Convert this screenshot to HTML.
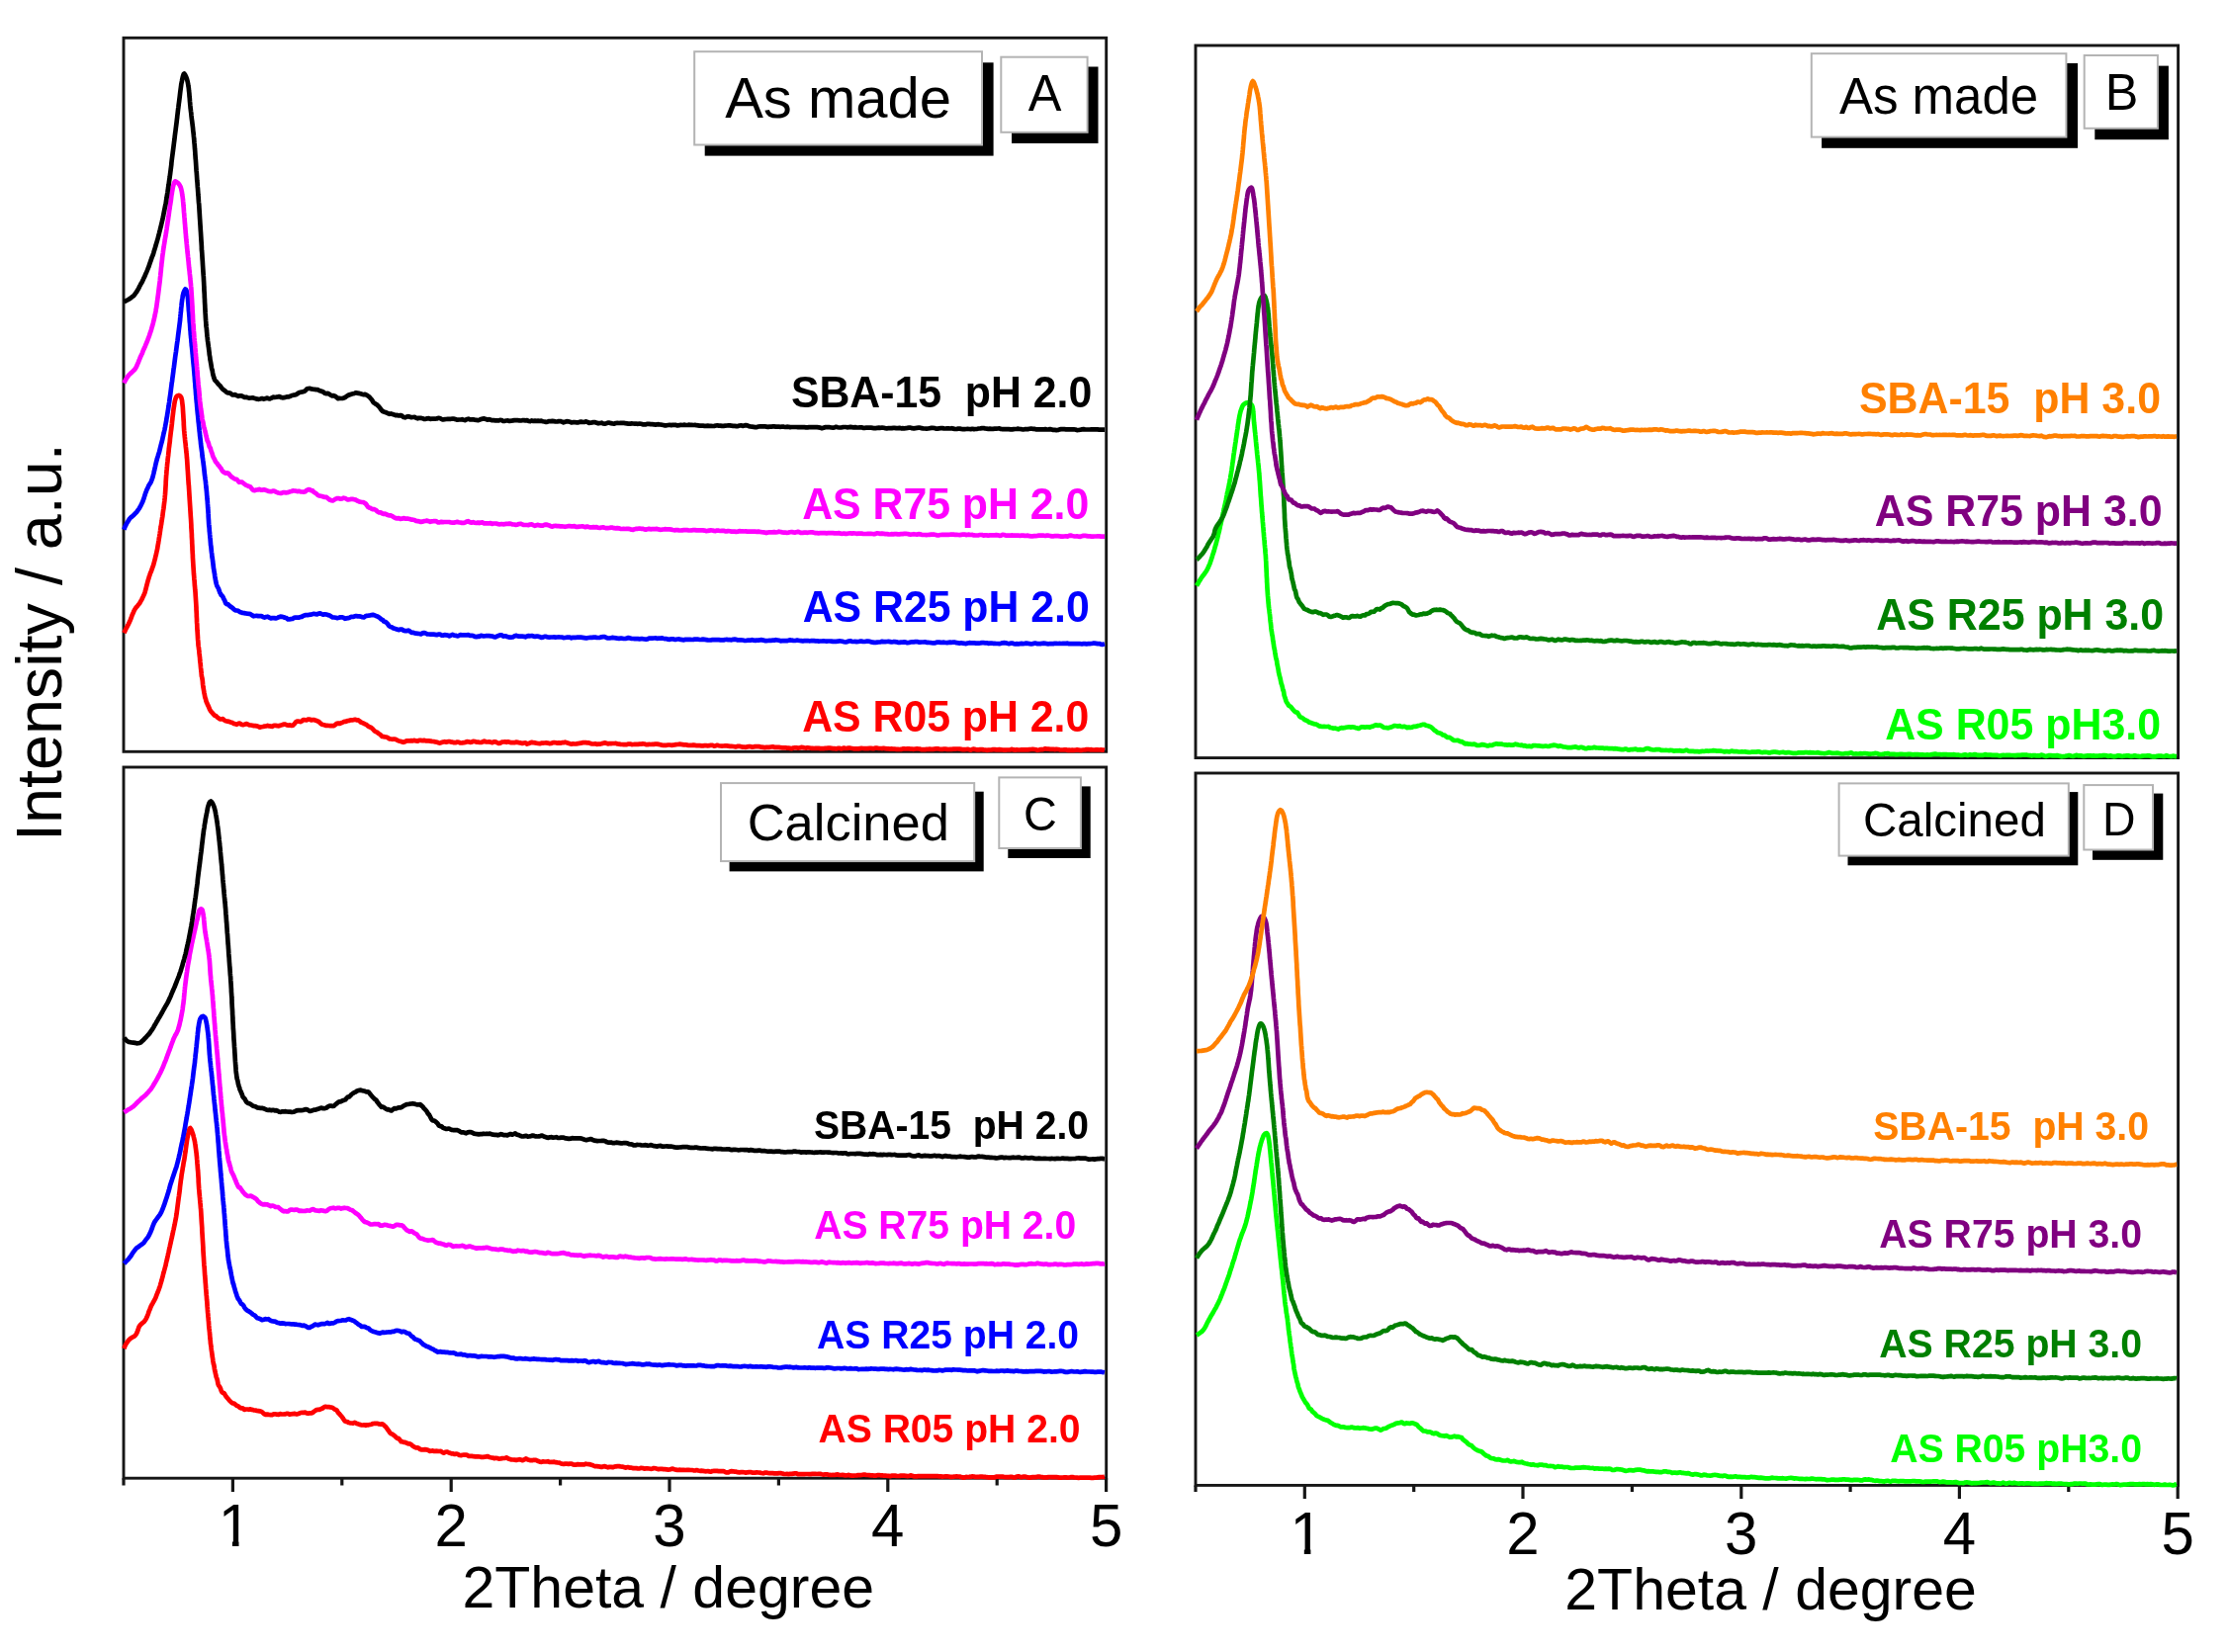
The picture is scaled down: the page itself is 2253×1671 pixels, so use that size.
<!DOCTYPE html>
<html lang="en"><head><meta charset="utf-8"><title>XRD patterns</title>
<style>html,body{margin:0;padding:0;background:#fff}body{width:2253px;height:1671px;overflow:hidden}svg{display:block}text{font-family:'Liberation Sans', Arial, Helvetica, sans-serif;}</style></head><body>
<svg width="2253" height="1671" viewBox="0 0 2253 1671">
<defs><filter id="soft" x="0" y="0" width="100%" height="100%" filterUnits="userSpaceOnUse" color-interpolation-filters="sRGB"><feGaussianBlur stdDeviation="0.55"/></filter></defs>
<rect x="0" y="0" width="2253" height="1671" fill="#ffffff"/>
<g filter="url(#soft)">
<rect x="125.0" y="38.3" width="993.7" height="722.0" fill="none" stroke="#161616" stroke-width="2.9"/>
<rect x="1209.0" y="46.0" width="993.6" height="720.6" fill="none" stroke="#161616" stroke-width="2.9"/>
<rect x="125.0" y="776.0" width="993.7" height="719.2" fill="none" stroke="#161616" stroke-width="2.9"/>
<rect x="1209.0" y="782.0" width="993.6" height="720.4" fill="none" stroke="#161616" stroke-width="2.9"/>
<path d="M125.0,1495.2 V1502.6 M235.4,1495.2 V1509.0 M345.8,1495.2 V1502.6 M456.2,1495.2 V1509.0 M566.6,1495.2 V1502.6 M677.0,1495.2 V1509.0 M787.4,1495.2 V1502.6 M897.8,1495.2 V1509.0 M1008.2,1495.2 V1502.6 M1118.6,1495.2 V1509.0" stroke="#161616" stroke-width="3.2" fill="none"/>
<path d="M1209.0,1502.4 V1509.0 M1319.3,1502.4 V1515.9 M1429.7,1502.4 V1509.0 M1540.0,1502.4 V1515.9 M1650.4,1502.4 V1509.0 M1760.8,1502.4 V1515.9 M1871.1,1502.4 V1509.0 M1981.4,1502.4 V1515.9 M2091.8,1502.4 V1509.0 M2202.2,1502.4 V1515.9" stroke="#161616" stroke-width="3.2" fill="none"/>
<g fill="none" stroke-width="4.7" stroke-linejoin="round" stroke-linecap="butt">
<path d="M125.4,640.2 L126.2,638.6 L126.9,637.0 L127.6,635.6 L128.4,634.3 L129.1,632.8 L129.8,631.6 L130.5,630.1 L131.1,628.6 L131.8,627.2 L132.4,625.7 L133.0,624.0 L133.5,622.5 L134.1,621.1 L134.8,619.7 L135.4,618.1 L136.2,616.7 L137.0,615.3 L138.0,614.1 L139.0,612.9 L140.0,611.6 L141.0,610.5 L141.8,609.1 L142.6,607.7 L143.4,606.3 L144.1,604.7 L144.8,603.3 L145.5,601.8 L146.1,600.4 L146.6,598.9 L147.1,597.2 L147.5,595.6 L147.9,594.0 L148.3,592.4 L148.7,590.9 L149.1,589.4 L149.5,587.8 L149.9,586.4 L150.4,585.0 L150.8,583.4 L151.4,581.7 L151.9,580.1 L152.5,578.7 L153.1,577.4 L153.6,575.8 L154.2,574.2 L154.7,572.8 L155.2,571.4 L155.6,569.8 L156.0,568.3 L156.4,566.7 L156.9,565.0 L157.2,563.4 L157.6,561.9 L158.0,560.4 L158.3,558.9 L158.6,557.4 L159.0,555.9 L159.3,554.2 L159.5,552.7 L159.8,551.0 L160.1,549.6 L160.3,548.0 L160.6,546.3 L160.8,544.7 L161.1,543.1 L161.3,541.6 L161.6,540.1 L161.8,538.5 L162.1,536.5 L162.3,534.8 L162.6,533.3 L162.8,531.9 L163.1,530.4 L163.3,528.7 L163.6,527.0 L163.8,525.6 L164.0,524.2 L164.3,522.6 L164.5,521.0 L164.7,519.3 L164.9,517.7 L165.1,516.2 L165.4,514.6 L165.6,513.0 L165.8,511.3 L166.0,509.6 L166.2,508.0 L166.4,506.5 L166.5,505.0 L166.7,503.5 L166.8,501.8 L167.0,500.2 L167.1,498.6 L167.2,497.1 L167.3,495.5 L167.4,493.9 L167.5,492.2 L167.6,490.6 L167.7,489.1 L167.7,487.5 L167.8,486.0 L167.9,484.4 L168.0,482.8 L168.1,481.1 L168.3,479.5 L168.4,477.9 L168.5,476.1 L168.7,474.5 L168.8,472.9 L169.0,471.2 L169.1,469.8 L169.3,468.2 L169.5,466.5 L169.6,464.9 L169.8,463.3 L170.0,461.8 L170.2,460.2 L170.3,458.7 L170.5,457.1 L170.7,455.3 L170.8,453.7 L171.0,452.4 L171.2,450.9 L171.4,449.1 L171.6,447.8 L171.8,446.3 L171.9,444.5 L172.1,442.7 L172.3,441.2 L172.5,439.5 L172.7,437.8 L172.9,436.2 L173.1,434.8 L173.3,433.2 L173.5,431.5 L173.7,429.9 L173.9,428.2 L174.0,426.7 L174.2,425.2 L174.4,423.6 L174.5,422.2 L174.7,420.7 L174.9,419.1 L175.1,417.5 L175.3,415.8 L175.5,414.1 L175.7,412.6 L176.0,411.0 L176.2,409.4 L176.5,407.7 L176.8,405.8 L177.2,404.4 L177.6,403.0 L178.2,401.5 L179.2,400.4 L180.8,399.9 L182.3,400.6 L183.2,401.8 L183.6,403.2 L184.0,404.8 L184.2,406.5 L184.4,408.3 L184.6,409.9 L184.8,411.5 L184.9,413.1 L185.0,414.8 L185.1,416.5 L185.2,418.1 L185.3,419.4 L185.4,421.0 L185.5,422.8 L185.6,424.5 L185.7,425.8 L185.8,427.3 L185.8,429.0 L185.9,430.7 L186.0,432.3 L186.1,433.9 L186.2,435.5 L186.4,437.0 L186.5,438.7 L186.7,440.4 L186.8,442.0 L187.0,443.4 L187.1,444.9 L187.3,446.7 L187.5,448.3 L187.7,449.9 L187.8,451.5 L188.0,453.1 L188.2,454.7 L188.3,456.4 L188.5,458.0 L188.7,459.4 L188.8,460.9 L188.9,462.6 L189.1,464.2 L189.2,465.9 L189.3,467.5 L189.4,469.0 L189.5,470.7 L189.6,472.3 L189.7,474.0 L189.8,475.3 L189.9,476.7 L190.0,478.3 L190.1,480.0 L190.2,481.7 L190.3,483.5 L190.4,484.9 L190.5,486.4 L190.6,488.2 L190.7,489.6 L190.9,491.2 L191.0,493.0 L191.1,494.6 L191.2,496.1 L191.3,497.8 L191.4,499.5 L191.5,501.2 L191.6,502.8 L191.7,504.4 L191.8,505.9 L191.9,507.4 L192.0,509.2 L192.1,510.6 L192.2,512.1 L192.3,513.7 L192.4,515.3 L192.5,516.9 L192.6,518.5 L192.7,520.2 L192.8,521.9 L192.9,523.3 L193.0,524.7 L193.1,526.2 L193.2,527.9 L193.3,529.6 L193.4,531.4 L193.4,533.0 L193.5,534.6 L193.6,536.1 L193.7,537.5 L193.8,539.2 L193.9,540.9 L193.9,542.5 L194.0,544.1 L194.1,545.8 L194.2,547.2 L194.2,548.8 L194.3,550.4 L194.4,552.0 L194.5,554.0 L194.5,555.5 L194.6,557.0 L194.7,558.8 L194.8,560.3 L194.9,561.8 L194.9,563.4 L195.0,565.0 L195.1,566.5 L195.2,568.2 L195.3,569.8 L195.4,571.4 L195.5,573.1 L195.6,574.6 L195.7,576.2 L195.8,577.7 L195.9,579.3 L196.0,581.1 L196.2,582.8 L196.3,584.4 L196.4,586.0 L196.6,587.4 L196.7,589.0 L196.8,590.6 L196.9,592.4 L197.1,594.0 L197.2,595.6 L197.3,596.9 L197.5,598.4 L197.6,600.1 L197.7,601.8 L197.8,603.3 L197.9,604.9 L198.0,606.6 L198.1,608.2 L198.2,609.6 L198.3,611.4 L198.4,613.0 L198.5,614.7 L198.5,616.4 L198.6,617.9 L198.7,619.5 L198.8,621.2 L198.8,623.0 L198.9,624.7 L199.0,626.2 L199.0,628.1 L199.1,629.9 L199.2,630.8 L199.3,632.1 L199.3,633.7 L199.4,635.4 L199.5,637.3 L199.6,638.5 L199.7,639.9 L199.8,641.6 L199.9,643.2 L200.0,645.2 L200.1,646.9 L200.3,648.7 L200.4,650.2 L200.5,652.5 L200.7,653.8 L200.9,654.9 L201.0,656.1 L201.2,657.3 L201.4,658.9 L201.5,660.7 L201.7,662.3 L201.9,664.0 L202.1,665.5 L202.2,667.6 L202.4,669.5 L202.6,670.8 L202.8,672.8 L202.9,674.2 L203.1,676.1 L203.3,677.6 L203.4,679.2 L203.6,680.1 L203.7,681.9 L203.9,684.0 L204.1,684.6 L204.3,685.3 L204.5,686.5 L204.7,687.8 L204.9,689.6 L205.1,692.2 L205.4,694.5 L205.6,695.7 L205.9,697.4 L206.2,699.2 L206.5,701.0 L206.9,702.8 L207.2,704.6 L207.6,706.1 L208.0,707.1 L208.4,709.0 L208.9,710.4 L209.4,711.4 L210.0,712.9 L210.6,714.0 L211.3,715.6 L212.0,717.4 L212.8,718.8 L213.7,720.0 L214.7,721.1 L215.8,722.4 L217.0,723.7 L218.3,724.0 L219.6,725.4 L221.0,726.4 L222.4,727.4 L223.9,727.5 L225.4,727.1 L226.9,728.5 L228.5,729.3 L230.0,729.6 L231.6,729.9 L233.1,730.5 L234.7,730.9 L236.2,731.9 L237.8,732.3 L239.4,732.8 L240.9,731.9 L242.5,731.6 L244.1,732.7 L245.7,733.1 L247.3,732.7 L248.9,732.1 L250.5,732.6 L252.1,733.3 L253.6,733.5 L255.1,733.8 L256.6,734.1 L258.1,734.2 L259.6,734.4 L261.1,734.7 L262.7,735.7 L264.3,735.3 L265.9,735.0 L267.5,734.6 L269.1,734.5 L270.7,733.9 L272.3,734.4 L273.9,734.6 L275.5,734.8 L277.1,733.8 L278.7,733.8 L280.3,734.2 L281.9,734.3 L283.5,733.7 L285.2,733.3 L286.8,732.5 L288.4,732.7 L290.0,733.4 L291.6,733.6 L293.2,733.4 L294.8,734.0 L296.3,733.7 L297.9,732.0 L299.3,730.1 L300.8,729.5 L302.2,729.7 L303.7,730.1 L305.2,729.4 L306.7,728.1 L308.3,728.2 L309.9,728.5 L311.5,727.6 L313.1,727.5 L314.7,728.4 L316.3,728.1 L317.9,728.1 L319.4,728.8 L320.9,729.3 L322.4,730.0 L323.8,731.4 L325.1,732.5 L326.5,733.0 L327.9,733.3 L329.4,733.9 L330.9,733.8 L332.5,734.0 L334.1,734.2 L335.7,734.2 L337.3,734.2 L338.9,733.2 L340.5,731.8 L342.1,731.6 L343.6,732.0 L345.1,731.2 L346.6,730.6 L348.2,729.9 L349.7,729.8 L351.2,729.2 L352.8,729.0 L354.4,728.3 L356.0,728.3 L357.6,728.1 L359.1,727.8 L360.6,728.4 L362.1,728.4 L363.5,729.2 L364.8,730.5 L366.2,731.0 L367.6,731.7 L369.0,732.4 L370.5,733.0 L372.0,734.4 L373.5,735.2 L374.9,735.7 L376.2,736.6 L377.5,738.0 L378.8,739.5 L380.0,740.1 L381.2,740.6 L382.5,741.8 L383.8,742.5 L385.1,743.6 L386.5,745.0 L387.9,745.2 L389.3,745.4 L390.8,745.5 L392.2,746.3 L393.7,747.3 L395.2,747.5 L396.8,747.8 L398.4,747.5 L400.0,747.8 L401.6,748.7 L403.2,749.5 L404.8,749.8 L406.4,750.4 L408.0,750.8 L409.6,750.3 L411.2,749.3 L412.8,749.3 L414.4,749.4 L416.0,749.2 L417.6,749.3 L419.2,748.9 L420.8,749.4 L422.4,749.7 L424.0,748.8 L425.6,748.9 L427.2,749.2 L428.8,748.9 L430.4,749.3 L432.0,749.3 L433.6,749.4 L435.2,749.6 L436.8,749.9 L438.4,750.0 L440.1,750.4 L441.7,750.6 L443.3,751.2 L444.9,751.6 L446.5,751.0 L448.1,750.5 L449.7,750.2 L451.3,750.6 L452.9,750.2 L454.5,750.1 L456.1,750.6 L457.7,750.7 L459.3,751.2 L460.9,751.2 L462.5,750.5 L464.1,750.8 L465.7,751.5 L467.3,751.4 L468.9,751.2 L470.5,750.9 L472.1,750.1 L473.7,750.3 L475.3,750.8 L476.9,750.6 L478.5,749.8 L480.1,750.0 L481.7,750.6 L483.3,750.7 L484.9,750.9 L486.5,751.0 L488.1,750.3 L489.7,749.7 L491.3,750.3 L492.9,750.5 L494.5,750.4 L496.1,750.6 L497.8,751.2 L499.4,750.4 L501.0,750.4 L502.6,751.2 L504.2,751.9 L505.8,751.6 L507.4,750.7 L509.0,750.5 L510.6,750.4 L512.2,750.8 L513.8,750.3 L515.4,750.7 L517.0,751.2 L518.6,751.1 L520.2,751.2 L521.8,750.6 L523.4,750.9 L525.0,751.3 L526.6,751.4 L528.2,751.9 L529.8,751.5 L531.4,751.3 L533.0,752.6 L534.6,752.1 L536.2,751.3 L537.8,750.9 L539.4,751.2 L541.0,751.4 L542.6,751.7 L544.2,752.0 L545.8,752.2 L547.4,751.7 L549.0,751.6 L550.6,751.5 L552.2,751.4 L553.8,751.6 L555.5,752.1 L557.1,752.0 L558.7,751.3 L560.3,751.0 L561.9,751.3 L563.5,751.6 L565.1,751.4 L566.7,751.6 L568.3,751.2 L569.9,751.1 L571.5,750.7 L573.1,751.2 L574.7,751.7 L576.3,752.2 L577.9,752.6 L579.5,752.3 L581.1,752.5 L582.7,752.4 L584.3,752.2 L585.9,751.8 L587.5,751.7 L589.1,751.2 L590.7,751.2 L592.3,751.1 L593.9,751.3 L595.5,751.4 L597.1,752.0 L598.7,752.5 L600.3,752.5 L601.9,752.3 L603.5,752.8 L605.1,752.7 L606.7,752.6 L608.3,752.3 L609.9,751.7 L611.5,751.4 L613.1,751.8 L614.7,752.4 L616.4,752.0 L618.0,752.1 L619.6,752.0 L621.2,752.0 L622.8,751.9 L624.4,752.5 L626.0,752.7 L627.6,752.9 L629.2,753.0 L630.8,753.2 L632.4,753.1 L634.0,753.1 L635.6,752.6 L637.2,752.6 L638.8,753.1 L640.4,753.0 L642.0,752.8 L643.6,752.8 L645.2,752.9 L646.8,752.7 L648.4,752.6 L650.0,752.4 L651.6,752.5 L653.2,753.1 L654.8,753.2 L656.4,752.9 L658.0,753.0 L659.6,752.9 L661.2,752.9 L662.8,752.5 L664.4,752.6 L666.0,752.9 L667.6,753.2 L669.2,753.6 L670.8,753.8 L672.4,753.9 L674.0,753.8 L675.6,753.5 L677.3,753.5 L678.9,753.8 L680.5,753.6 L682.1,753.4 L683.7,753.1 L685.3,753.0 L686.9,752.7 L688.5,752.9 L690.1,753.1 L691.7,753.4 L693.3,753.3 L694.9,753.6 L696.5,754.0 L698.1,753.8 L699.7,753.9 L701.3,753.6 L702.9,753.9 L704.5,754.2 L706.1,754.2 L707.7,754.1 L709.3,754.3 L710.9,754.4 L712.5,754.2 L714.1,754.2 L715.7,754.3 L717.3,754.2 L718.9,753.8 L720.5,753.9 L722.1,754.6 L723.7,754.4 L725.3,753.8 L726.9,754.2 L728.5,754.5 L730.1,754.6 L731.7,754.5 L733.3,754.3 L734.9,754.4 L736.5,754.6 L738.1,754.8 L739.7,754.9 L741.4,755.0 L743.0,755.3 L744.6,755.3 L746.2,754.9 L747.8,754.9 L749.4,755.2 L751.0,755.6 L752.6,755.7 L754.2,755.8 L755.8,755.4 L757.4,755.2 L759.0,755.2 L760.6,755.6 L762.2,755.4 L763.8,755.1 L765.4,755.1 L767.0,755.0 L768.6,755.4 L770.2,755.7 L771.8,755.9 L773.4,756.1 L775.0,755.9 L776.6,755.9 L778.2,755.8 L779.8,755.5 L781.4,755.3 L783.0,755.8 L784.6,755.9 L786.2,755.9 L787.8,755.9 L789.4,756.2 L791.0,756.3 L792.6,756.3 L794.2,756.3 L795.8,756.6 L797.4,756.7 L799.0,756.9 L800.6,757.2 L802.2,756.5 L803.8,756.3 L805.5,756.4 L807.1,756.7 L808.7,756.5 L810.3,755.9 L811.9,756.1 L813.5,756.5 L815.1,756.6 L816.7,756.3 L818.3,756.5 L819.9,756.8 L821.5,756.8 L823.1,757.0 L824.7,756.9 L826.3,756.8 L827.9,756.8 L829.5,757.2 L831.1,757.2 L832.7,757.2 L834.3,756.9 L835.9,756.9 L837.5,756.7 L839.1,756.7 L840.7,756.9 L842.3,757.1 L843.9,757.2 L845.5,757.4 L847.1,756.9 L848.7,756.8 L850.3,757.3 L851.9,757.1 L853.5,756.6 L855.1,757.0 L856.7,756.9 L858.3,756.5 L859.9,756.7 L861.5,757.0 L863.1,757.3 L864.7,757.4 L866.4,757.3 L868.0,757.4 L869.6,757.1 L871.2,756.9 L872.8,757.0 L874.4,757.2 L876.0,757.0 L877.6,757.2 L879.2,756.9 L880.8,756.9 L882.4,757.1 L884.0,757.1 L885.6,756.6 L887.2,756.7 L888.8,757.0 L890.4,757.0 L892.0,757.1 L893.6,756.8 L895.2,757.2 L896.8,757.4 L898.4,757.4 L900.0,757.6 L901.6,757.4 L903.2,757.7 L904.8,757.7 L906.4,757.8 L908.0,757.8 L909.6,758.0 L911.2,757.9 L912.8,757.4 L914.4,757.4 L916.0,757.5 L917.6,757.3 L919.2,757.3 L920.8,757.7 L922.4,757.7 L924.0,757.8 L925.7,757.5 L927.3,757.3 L928.9,757.5 L930.5,757.7 L932.1,758.2 L933.7,758.1 L935.3,758.2 L936.9,757.9 L938.5,757.8 L940.1,757.7 L941.7,757.8 L943.3,757.9 L944.9,757.6 L946.5,757.4 L948.1,757.3 L949.7,757.6 L951.3,757.8 L952.9,757.9 L954.5,757.7 L956.1,757.6 L957.7,757.8 L959.3,758.0 L960.9,757.8 L962.5,757.8 L964.1,757.7 L965.7,757.7 L967.3,757.5 L968.9,757.5 L970.5,757.7 L972.1,757.9 L973.7,758.2 L975.3,758.2 L976.9,758.0 L978.5,757.8 L980.1,758.3 L981.7,758.6 L983.4,757.9 L985.0,757.7 L986.6,758.1 L988.2,758.4 L989.8,758.4 L991.4,758.1 L993.0,758.1 L994.6,758.4 L996.2,758.5 L997.8,758.8 L999.4,758.6 L1001.0,758.5 L1002.6,758.4 L1004.2,758.2 L1005.8,758.1 L1007.4,758.4 L1009.0,758.4 L1010.6,758.1 L1012.2,758.3 L1013.8,758.5 L1015.4,758.7 L1017.0,758.6 L1018.6,758.5 L1020.2,758.5 L1021.8,758.3 L1023.4,757.9 L1025.0,758.4 L1026.6,758.6 L1028.2,758.4 L1029.8,758.5 L1031.4,758.5 L1033.0,758.3 L1034.6,758.4 L1036.2,758.4 L1037.9,758.4 L1039.5,758.3 L1041.1,758.1 L1042.7,758.0 L1044.3,757.8 L1045.9,758.0 L1047.5,758.3 L1049.1,758.8 L1050.7,758.5 L1052.3,758.1 L1053.9,758.2 L1055.5,757.8 L1057.1,757.3 L1058.7,757.7 L1060.3,757.7 L1061.9,757.9 L1063.5,757.8 L1065.1,757.8 L1066.7,758.1 L1068.3,757.8 L1069.9,758.0 L1071.5,758.3 L1073.1,758.5 L1074.7,758.5 L1076.3,758.4 L1077.9,758.4 L1079.5,758.8 L1081.1,758.6 L1082.7,758.8 L1084.3,758.6 L1085.9,758.8 L1087.5,758.7 L1089.1,758.4 L1090.7,758.6 L1092.4,758.8 L1094.0,758.8 L1095.6,758.5 L1097.2,758.4 L1098.8,758.1 L1100.4,758.0 L1102.0,758.3 L1103.6,758.2 L1105.2,758.5 L1106.8,758.5 L1108.4,758.3 L1110.0,758.4 L1111.6,758.5 L1113.2,758.4 L1114.7,758.6 L1116.0,758.5 L1117.0,758.7" stroke="#ff0000"/>
<path d="M125.4,535.8 L125.9,534.2 L126.5,532.7 L127.2,531.4 L127.9,529.8 L128.7,528.4 L129.5,527.2 L130.4,525.7 L131.3,524.5 L132.3,523.4 L133.5,522.5 L134.7,521.5 L136.0,520.2 L137.1,518.9 L138.2,517.9 L139.1,516.6 L140.0,515.3 L140.9,514.1 L141.7,512.6 L142.5,511.1 L143.2,509.7 L143.9,508.3 L144.5,506.8 L145.1,505.2 L145.6,503.7 L146.1,502.1 L146.6,500.5 L147.1,498.9 L147.7,497.4 L148.2,496.0 L148.8,494.6 L149.5,493.3 L150.2,491.6 L151.0,490.3 L151.8,489.0 L152.6,487.7 L153.2,486.2 L153.8,484.5 L154.3,483.1 L154.7,481.6 L155.1,480.0 L155.5,478.5 L155.8,476.8 L156.2,475.5 L156.5,473.9 L156.9,472.2 L157.2,470.7 L157.6,469.0 L158.0,467.4 L158.4,465.9 L158.8,464.5 L159.2,462.9 L159.7,461.4 L160.1,459.9 L160.6,458.4 L161.1,456.9 L161.5,455.2 L161.9,453.6 L162.3,452.0 L162.7,450.3 L163.1,448.9 L163.5,447.4 L163.9,445.9 L164.3,444.3 L164.6,442.6 L165.0,441.1 L165.3,439.5 L165.7,437.9 L166.0,436.5 L166.4,435.0 L166.7,433.3 L167.0,431.9 L167.3,430.2 L167.6,428.6 L167.9,427.0 L168.2,425.5 L168.4,423.7 L168.7,422.2 L169.0,420.7 L169.2,418.9 L169.5,417.5 L169.7,416.0 L170.0,414.5 L170.2,412.9 L170.5,411.2 L170.7,409.5 L170.9,408.2 L171.2,406.6 L171.4,404.8 L171.6,403.3 L171.8,401.8 L172.1,400.2 L172.3,398.6 L172.5,397.0 L172.7,395.3 L172.9,393.9 L173.1,392.3 L173.3,390.7 L173.5,389.1 L173.7,387.3 L174.0,385.9 L174.2,384.3 L174.4,382.6 L174.6,381.1 L174.8,379.6 L175.0,378.2 L175.2,376.6 L175.4,374.8 L175.6,373.0 L175.9,371.4 L176.1,369.8 L176.3,368.2 L176.5,366.5 L176.7,364.9 L176.9,363.4 L177.1,361.8 L177.3,360.3 L177.5,358.9 L177.7,357.5 L178.0,355.6 L178.2,353.9 L178.4,352.5 L178.6,350.9 L178.8,349.3 L179.0,347.9 L179.2,346.3 L179.5,344.6 L179.7,342.8 L179.9,341.2 L180.1,339.4 L180.3,337.9 L180.5,336.4 L180.7,334.8 L180.9,333.3 L181.1,331.7 L181.3,330.2 L181.5,328.5 L181.7,327.1 L181.9,325.5 L182.1,323.9 L182.2,322.1 L182.4,320.5 L182.5,318.8 L182.7,317.3 L182.8,316.1 L183.0,314.5 L183.1,312.8 L183.3,311.0 L183.5,309.5 L183.6,307.9 L183.8,306.3 L184.0,304.7 L184.2,303.0 L184.5,301.4 L184.7,300.0 L185.0,298.6 L185.3,297.0 L185.8,295.4 L186.6,293.7 L187.4,292.4 L188.1,292.9 L188.7,294.6 L189.2,296.4 L189.5,298.1 L189.8,299.7 L189.9,301.3 L190.1,302.8 L190.2,304.6 L190.4,306.5 L190.5,308.0 L190.6,309.5 L190.7,310.8 L190.8,312.6 L190.9,314.2 L191.1,315.7 L191.2,317.2 L191.3,318.9 L191.5,320.5 L191.6,322.1 L191.7,323.9 L191.8,325.6 L192.0,327.0 L192.1,328.5 L192.2,330.1 L192.3,331.8 L192.4,333.4 L192.6,334.8 L192.7,336.5 L192.8,338.2 L193.0,339.9 L193.1,341.5 L193.3,343.0 L193.4,344.4 L193.5,345.9 L193.7,347.6 L193.8,349.4 L194.0,351.0 L194.2,352.6 L194.3,354.2 L194.5,355.6 L194.6,357.1 L194.8,358.7 L194.9,360.4 L195.1,362.2 L195.2,363.8 L195.4,365.2 L195.5,367.0 L195.7,368.6 L195.8,370.0 L196.0,371.6 L196.1,373.0 L196.2,374.7 L196.4,376.3 L196.5,377.8 L196.6,379.4 L196.8,381.1 L196.9,382.8 L197.0,384.5 L197.1,386.1 L197.3,387.6 L197.4,389.3 L197.5,391.1 L197.6,392.5 L197.8,394.0 L197.9,395.5 L198.0,397.1 L198.1,398.9 L198.3,400.5 L198.4,402.2 L198.5,403.7 L198.7,405.3 L198.8,406.8 L199.0,408.3 L199.1,409.8 L199.2,411.4 L199.4,413.0 L199.5,414.6 L199.7,416.4 L199.8,417.8 L200.0,419.4 L200.2,421.0 L200.3,422.5 L200.5,424.3 L200.6,425.9 L200.8,427.5 L201.0,429.1 L201.1,430.6 L201.3,432.3 L201.5,433.9 L201.6,435.4 L201.8,437.1 L202.0,438.8 L202.1,440.4 L202.3,441.9 L202.5,443.3 L202.7,445.1 L202.9,446.7 L203.0,448.3 L203.2,449.9 L203.4,451.5 L203.6,452.9 L203.8,454.4 L204.0,455.8 L204.2,457.3 L204.4,459.0 L204.5,460.6 L204.7,462.2 L205.0,463.8 L205.2,465.4 L205.4,466.7 L205.6,468.2 L205.8,469.9 L206.0,471.4 L206.2,473.1 L206.4,474.8 L206.6,476.7 L206.8,478.8 L207.0,480.7 L207.2,482.0 L207.4,483.3 L207.6,485.0 L207.7,485.7 L207.9,487.0 L208.1,489.3 L208.3,491.1 L208.4,492.7 L208.6,494.1 L208.7,495.1 L208.9,496.9 L209.1,499.4 L209.2,501.1 L209.4,502.4 L209.5,504.6 L209.6,505.5 L209.8,507.2 L209.9,509.2 L210.0,510.4 L210.1,512.0 L210.2,513.8 L210.4,515.5 L210.5,517.7 L210.6,519.2 L210.7,520.1 L210.7,521.7 L210.8,523.6 L210.9,525.1 L211.0,526.5 L211.1,528.5 L211.2,530.2 L211.3,531.4 L211.5,532.9 L211.6,533.6 L211.7,535.0 L211.8,537.3 L212.0,538.7 L212.1,540.2 L212.3,541.9 L212.4,543.4 L212.6,545.1 L212.7,546.3 L212.9,548.7 L213.1,551.6 L213.3,552.1 L213.4,552.8 L213.6,555.2 L213.8,557.3 L214.0,559.1 L214.2,560.1 L214.3,561.4 L214.5,563.5 L214.7,564.6 L214.9,565.4 L215.1,567.6 L215.4,569.5 L215.6,571.6 L215.8,573.1 L216.0,574.9 L216.3,576.3 L216.5,577.8 L216.7,579.1 L217.0,580.5 L217.2,582.3 L217.5,584.1 L217.8,585.8 L218.1,587.6 L218.4,588.9 L218.8,590.6 L219.3,592.4 L219.8,593.3 L220.4,594.4 L221.0,595.4 L221.6,597.2 L222.3,599.3 L223.1,600.7 L223.8,602.1 L224.6,602.6 L225.5,603.8 L226.3,605.8 L227.2,607.4 L228.2,610.1 L229.2,611.1 L230.3,611.1 L231.4,612.1 L232.6,613.1 L233.8,614.1 L235.2,615.0 L236.6,616.4 L238.0,617.4 L239.4,617.5 L240.9,617.8 L242.4,618.9 L243.9,619.4 L245.4,620.0 L246.9,620.1 L248.5,620.5 L250.1,620.7 L251.6,620.8 L253.2,621.1 L254.8,622.2 L256.4,623.3 L258.0,623.0 L259.6,622.8 L261.1,623.2 L262.7,623.2 L264.3,623.1 L265.9,624.0 L267.5,624.6 L269.1,624.0 L270.7,623.7 L272.3,624.6 L273.9,625.4 L275.5,625.1 L277.2,625.1 L278.8,625.4 L280.4,625.0 L282.0,624.2 L283.6,623.6 L285.2,623.8 L286.7,624.2 L288.2,624.8 L289.6,625.1 L291.1,626.3 L292.6,626.3 L294.1,626.1 L295.7,626.0 L297.3,624.9 L298.9,624.6 L300.5,624.6 L302.0,624.7 L303.5,624.1 L305.0,624.0 L306.4,623.0 L307.9,622.5 L309.4,622.0 L311.0,622.2 L312.6,621.8 L314.1,621.7 L315.8,621.2 L317.4,620.8 L319.0,621.2 L320.6,621.4 L322.2,620.6 L323.8,620.4 L325.4,621.1 L326.9,621.7 L328.5,621.3 L330.1,621.5 L331.7,622.1 L333.3,622.5 L334.8,623.4 L336.4,624.4 L338.0,624.5 L339.5,624.8 L341.1,625.1 L342.6,624.8 L344.2,624.4 L345.7,624.3 L347.3,624.7 L348.9,625.8 L350.5,625.4 L352.0,625.2 L353.6,624.7 L355.2,623.9 L356.8,624.0 L358.4,623.5 L360.0,623.0 L361.6,623.4 L363.2,623.4 L364.8,623.6 L366.4,624.2 L368.0,624.5 L369.5,623.3 L371.1,622.8 L372.6,622.7 L374.2,622.5 L375.7,622.1 L377.2,621.9 L378.6,622.2 L380.1,623.0 L381.5,623.4 L382.9,624.2 L384.2,625.1 L385.6,626.5 L386.9,626.9 L388.1,628.5 L389.4,628.9 L390.6,629.6 L391.9,630.9 L393.2,632.9 L394.6,634.0 L396.0,634.3 L397.4,635.2 L398.9,635.8 L400.4,636.2 L402.0,636.8 L403.5,637.2 L405.0,636.5 L406.6,636.7 L408.2,637.8 L409.7,638.2 L411.3,638.2 L412.9,637.7 L414.4,638.4 L416.0,639.8 L417.6,639.8 L419.2,640.4 L420.8,640.7 L422.4,640.8 L424.0,641.0 L425.6,641.4 L427.2,640.4 L428.8,640.1 L430.4,640.5 L432.0,641.3 L433.6,641.5 L435.2,641.6 L436.8,641.6 L438.4,641.6 L440.0,641.9 L441.6,642.2 L443.2,641.7 L444.8,641.5 L446.4,642.6 L448.0,642.6 L449.6,642.2 L451.2,642.4 L452.8,642.6 L454.4,643.4 L456.0,642.6 L457.6,641.9 L459.2,642.6 L460.8,642.8 L462.4,643.4 L464.0,642.9 L465.6,642.2 L467.2,642.4 L468.8,642.4 L470.4,642.4 L472.0,642.3 L473.6,642.1 L475.2,642.8 L476.9,642.8 L478.5,643.1 L480.1,643.9 L481.7,644.2 L483.3,643.7 L484.9,643.8 L486.5,642.9 L488.1,643.3 L489.7,643.3 L491.3,643.2 L492.9,643.0 L494.5,643.1 L496.1,643.3 L497.7,643.5 L499.3,644.1 L500.9,644.5 L502.5,643.6 L504.1,643.0 L505.7,642.3 L507.3,642.4 L508.9,643.6 L510.5,643.3 L512.1,643.6 L513.7,644.3 L515.3,644.7 L516.9,644.6 L518.5,644.5 L520.1,643.5 L521.7,642.8 L523.3,643.4 L524.9,643.7 L526.5,643.5 L528.1,643.6 L529.7,643.8 L531.3,644.3 L532.9,643.6 L534.6,643.1 L536.2,643.3 L537.8,643.0 L539.4,643.6 L541.0,643.8 L542.6,643.6 L544.2,643.7 L545.8,644.1 L547.4,644.9 L549.0,644.6 L550.6,643.9 L552.2,643.9 L553.8,644.5 L555.4,644.7 L557.0,644.5 L558.6,644.5 L560.2,644.4 L561.8,644.6 L563.4,644.5 L565.0,644.4 L566.6,644.5 L568.2,644.5 L569.8,645.1 L571.4,645.0 L573.0,644.7 L574.6,644.6 L576.2,644.7 L577.8,645.4 L579.4,644.8 L581.0,644.8 L582.6,644.8 L584.2,644.5 L585.8,644.6 L587.4,644.7 L589.0,644.9 L590.6,645.1 L592.3,645.3 L593.9,645.3 L595.5,645.0 L597.1,644.9 L598.7,644.8 L600.3,644.6 L601.9,644.5 L603.5,645.0 L605.1,645.0 L606.7,644.8 L608.3,644.4 L609.9,644.2 L611.5,644.2 L613.1,645.0 L614.7,645.5 L616.3,645.5 L617.9,645.2 L619.5,644.9 L621.1,645.2 L622.7,645.4 L624.3,645.7 L625.9,645.8 L627.5,645.6 L629.1,645.7 L630.7,646.0 L632.3,646.0 L633.9,645.6 L635.5,645.1 L637.1,645.5 L638.7,646.0 L640.3,646.0 L641.9,646.2 L643.5,646.0 L645.1,646.1 L646.7,646.3 L648.3,646.2 L650.0,646.2 L651.6,646.5 L653.2,646.6 L654.8,646.4 L656.4,645.6 L658.0,645.6 L659.6,645.7 L661.2,645.5 L662.8,645.4 L664.4,645.8 L666.0,645.7 L667.6,645.7 L669.2,645.4 L670.8,645.8 L672.4,646.1 L674.0,646.1 L675.6,646.7 L677.2,646.9 L678.8,646.3 L680.4,646.3 L682.0,646.9 L683.6,646.8 L685.2,646.5 L686.8,646.4 L688.4,646.9 L690.0,647.1 L691.6,647.3 L693.2,646.9 L694.8,646.9 L696.4,646.8 L698.0,646.9 L699.6,647.0 L701.2,646.9 L702.8,646.5 L704.4,646.6 L706.1,646.7 L707.7,647.0 L709.3,646.9 L710.9,646.7 L712.5,646.9 L714.1,647.1 L715.7,647.4 L717.3,647.5 L718.9,647.4 L720.5,647.2 L722.1,647.0 L723.7,647.2 L725.3,647.2 L726.9,647.1 L728.5,647.3 L730.1,647.4 L731.7,647.4 L733.3,647.0 L734.9,646.9 L736.5,647.2 L738.1,647.2 L739.7,647.3 L741.3,646.9 L742.9,646.7 L744.5,646.8 L746.1,647.5 L747.7,647.3 L749.3,647.4 L750.9,647.5 L752.5,647.8 L754.1,648.0 L755.7,647.7 L757.3,647.6 L758.9,647.6 L760.5,647.2 L762.2,647.7 L763.8,647.9 L765.4,647.5 L767.0,647.6 L768.6,647.4 L770.2,647.2 L771.8,647.6 L773.4,648.1 L775.0,648.2 L776.6,648.0 L778.2,647.8 L779.8,647.8 L781.4,647.7 L783.0,647.6 L784.6,647.2 L786.2,647.5 L787.8,647.8 L789.4,648.3 L791.0,648.2 L792.6,648.1 L794.2,648.2 L795.8,648.2 L797.4,647.8 L799.0,647.4 L800.6,647.7 L802.2,647.9 L803.8,648.0 L805.4,647.7 L807.0,647.7 L808.6,648.0 L810.2,648.2 L811.8,648.4 L813.4,648.2 L815.0,648.2 L816.7,648.0 L818.3,648.3 L819.9,648.2 L821.5,648.0 L823.1,648.2 L824.7,648.4 L826.3,648.3 L827.9,648.6 L829.5,648.5 L831.1,648.5 L832.7,648.3 L834.3,648.5 L835.9,648.7 L837.5,648.5 L839.1,648.5 L840.7,648.6 L842.3,648.9 L843.9,648.9 L845.5,648.9 L847.1,648.7 L848.7,648.4 L850.3,648.5 L851.9,648.8 L853.5,649.2 L855.1,649.5 L856.7,649.1 L858.3,648.5 L859.9,648.3 L861.5,648.9 L863.1,649.0 L864.7,648.9 L866.3,649.2 L867.9,649.0 L869.5,648.7 L871.1,648.6 L872.8,649.0 L874.4,649.0 L876.0,648.7 L877.6,648.5 L879.2,648.8 L880.8,649.4 L882.4,649.6 L884.0,649.9 L885.6,649.8 L887.2,649.6 L888.8,649.5 L890.4,649.3 L892.0,648.9 L893.6,649.1 L895.2,649.2 L896.8,649.0 L898.4,648.9 L900.0,649.1 L901.6,649.5 L903.2,649.2 L904.8,649.1 L906.4,649.3 L908.0,649.8 L909.6,649.9 L911.2,649.6 L912.8,649.6 L914.4,649.4 L916.0,649.6 L917.6,650.2 L919.2,650.0 L920.8,649.5 L922.4,649.3 L924.0,649.4 L925.6,649.2 L927.3,649.1 L928.9,649.6 L930.5,649.6 L932.1,649.5 L933.7,649.5 L935.3,649.3 L936.9,649.8 L938.5,649.8 L940.1,650.0 L941.7,650.2 L943.3,650.3 L944.9,650.4 L946.5,649.9 L948.1,649.6 L949.7,649.6 L951.3,649.9 L952.9,649.8 L954.5,649.7 L956.1,650.0 L957.7,650.1 L959.3,649.9 L960.9,649.7 L962.5,649.8 L964.1,649.5 L965.7,649.6 L967.3,650.2 L968.9,650.4 L970.5,650.6 L972.1,650.3 L973.7,650.7 L975.3,650.8 L976.9,651.1 L978.5,650.5 L980.1,650.2 L981.8,650.4 L983.4,650.4 L985.0,650.3 L986.6,650.6 L988.2,650.6 L989.8,650.6 L991.4,650.4 L993.0,650.1 L994.6,650.2 L996.2,650.3 L997.8,650.3 L999.4,650.8 L1001.0,650.6 L1002.6,650.5 L1004.2,650.8 L1005.8,650.8 L1007.4,651.0 L1009.0,651.0 L1010.6,651.2 L1012.2,650.8 L1013.8,650.3 L1015.4,650.2 L1017.0,650.3 L1018.6,650.8 L1020.2,651.1 L1021.8,650.7 L1023.4,650.6 L1025.0,651.1 L1026.6,651.3 L1028.2,651.2 L1029.8,651.3 L1031.4,651.1 L1033.0,650.9 L1034.6,651.1 L1036.2,650.9 L1037.9,650.6 L1039.5,650.8 L1041.1,651.2 L1042.7,651.3 L1044.3,651.1 L1045.9,650.7 L1047.5,650.7 L1049.1,651.1 L1050.7,651.2 L1052.3,651.1 L1053.9,650.8 L1055.5,650.7 L1057.1,650.8 L1058.7,651.2 L1060.3,651.3 L1061.9,651.0 L1063.5,651.2 L1065.1,651.1 L1066.7,650.8 L1068.3,650.9 L1069.9,651.0 L1071.5,650.8 L1073.1,651.0 L1074.7,650.9 L1076.3,650.9 L1077.9,650.8 L1079.5,650.7 L1081.1,651.1 L1082.7,651.1 L1084.3,651.0 L1085.9,651.1 L1087.5,651.2 L1089.1,651.1 L1090.7,651.0 L1092.4,651.2 L1094.0,651.3 L1095.6,651.2 L1097.2,651.1 L1098.8,651.3 L1100.4,651.2 L1102.0,651.2 L1103.6,651.0 L1105.2,650.7 L1106.8,650.7 L1108.4,650.9 L1110.0,651.1 L1111.6,651.0 L1113.2,651.7 L1114.7,652.0 L1116.0,651.6 L1117.0,651.3" stroke="#0000ff"/>
<path d="M125.4,387.4 L126.1,385.9 L127.0,384.3 L127.8,382.8 L128.7,381.5 L129.6,380.3 L130.6,379.1 L131.8,377.9 L133.0,376.9 L134.2,375.7 L135.4,374.6 L136.3,373.6 L137.1,372.4 L137.9,371.1 L138.6,369.5 L139.2,367.9 L139.9,366.4 L140.5,364.8 L141.1,363.4 L141.7,361.8 L142.4,360.2 L143.0,358.9 L143.7,357.6 L144.3,355.9 L144.9,354.3 L145.6,352.9 L146.2,351.6 L146.8,350.2 L147.4,348.6 L148.0,347.2 L148.6,345.8 L149.2,344.4 L149.8,342.6 L150.4,341.1 L151.0,339.5 L151.5,337.8 L152.0,336.4 L152.5,334.9 L153.0,333.5 L153.4,331.9 L153.9,330.3 L154.3,328.9 L154.7,327.4 L155.1,325.7 L155.5,324.2 L155.9,322.6 L156.2,321.0 L156.6,319.4 L156.9,317.7 L157.2,316.3 L157.5,314.9 L157.7,313.4 L158.0,311.8 L158.3,310.3 L158.5,308.6 L158.7,306.9 L159.0,305.3 L159.2,303.6 L159.4,302.0 L159.6,300.4 L159.8,299.1 L160.0,297.6 L160.2,295.9 L160.4,294.4 L160.6,292.7 L160.8,291.1 L161.0,289.5 L161.2,287.9 L161.4,286.5 L161.6,285.0 L161.8,283.2 L161.9,281.6 L162.1,280.0 L162.3,278.5 L162.4,276.8 L162.6,275.2 L162.8,273.6 L162.9,271.8 L163.1,270.1 L163.3,268.6 L163.4,266.9 L163.6,265.4 L163.8,263.9 L164.0,262.3 L164.1,260.8 L164.3,259.3 L164.5,257.6 L164.8,255.8 L165.0,254.0 L165.2,252.6 L165.4,251.1 L165.7,249.5 L165.9,247.9 L166.2,246.4 L166.4,244.7 L166.7,243.2 L166.9,241.7 L167.2,240.0 L167.5,238.5 L167.7,237.1 L168.0,235.4 L168.2,233.6 L168.5,232.1 L168.7,230.7 L168.9,229.2 L169.2,227.5 L169.4,225.8 L169.6,224.2 L169.9,222.8 L170.1,221.2 L170.3,219.5 L170.6,217.9 L170.8,216.3 L171.0,214.7 L171.2,213.0 L171.5,211.4 L171.7,209.9 L171.9,208.3 L172.2,206.8 L172.4,205.4 L172.7,203.7 L172.9,202.1 L173.1,200.4 L173.3,198.6 L173.5,197.2 L173.8,195.7 L174.0,194.1 L174.3,192.5 L174.6,190.9 L174.9,189.3 L175.3,187.7 L175.8,185.9 L176.5,184.2 L177.2,183.4 L178.3,183.9 L179.8,184.9 L181.1,186.3 L181.9,187.7 L182.5,188.9 L183.0,190.3 L183.4,191.9 L183.8,193.7 L184.1,195.5 L184.3,197.2 L184.6,198.7 L184.8,200.4 L185.0,201.9 L185.1,203.5 L185.3,205.1 L185.4,206.7 L185.5,208.1 L185.7,209.7 L185.8,211.2 L185.9,212.8 L186.0,214.5 L186.2,216.1 L186.3,217.6 L186.4,219.2 L186.6,220.9 L186.7,222.5 L186.8,224.0 L186.9,225.6 L187.1,227.2 L187.2,228.8 L187.3,230.7 L187.5,232.1 L187.6,233.6 L187.7,235.4 L187.9,236.9 L188.0,238.5 L188.1,240.2 L188.3,241.6 L188.4,243.1 L188.6,244.7 L188.7,246.2 L188.9,247.7 L189.0,249.3 L189.2,251.2 L189.4,252.9 L189.5,254.6 L189.7,256.3 L189.9,257.8 L190.0,259.2 L190.2,260.7 L190.3,262.1 L190.5,263.8 L190.7,265.5 L190.8,267.3 L191.0,268.9 L191.1,270.4 L191.3,271.9 L191.5,273.4 L191.7,275.1 L191.8,276.7 L192.0,278.3 L192.2,279.9 L192.3,281.8 L192.5,283.4 L192.7,284.8 L192.8,286.3 L193.0,287.9 L193.1,289.5 L193.3,291.0 L193.4,292.7 L193.5,294.4 L193.6,296.1 L193.7,297.7 L193.8,299.1 L193.9,300.7 L194.0,302.2 L194.1,303.9 L194.2,305.8 L194.3,307.3 L194.4,309.1 L194.5,310.5 L194.5,312.1 L194.6,313.8 L194.7,315.3 L194.8,316.8 L194.9,318.2 L195.0,319.8 L195.0,321.4 L195.1,323.2 L195.2,325.2 L195.3,326.7 L195.5,328.3 L195.6,329.1 L195.7,331.0 L195.8,332.9 L195.9,334.5 L196.1,336.4 L196.2,338.0 L196.3,339.4 L196.4,341.2 L196.6,343.2 L196.7,344.3 L196.9,345.6 L197.0,347.1 L197.1,348.7 L197.3,350.0 L197.4,351.9 L197.6,354.2 L197.7,355.5 L197.8,356.8 L198.0,358.6 L198.1,360.4 L198.2,361.8 L198.4,363.6 L198.5,365.0 L198.6,366.4 L198.8,368.0 L198.9,368.4 L199.0,370.2 L199.2,372.2 L199.3,373.5 L199.5,375.2 L199.6,376.7 L199.7,378.8 L199.9,381.5 L200.0,382.7 L200.2,384.1 L200.3,386.0 L200.5,387.3 L200.6,389.0 L200.8,390.6 L200.9,392.2 L201.1,392.9 L201.2,394.8 L201.4,396.2 L201.5,397.6 L201.7,399.8 L201.8,401.4 L202.0,403.6 L202.1,405.2 L202.3,406.8 L202.5,408.5 L202.7,410.2 L202.8,411.0 L203.0,412.7 L203.2,414.2 L203.5,415.8 L203.7,417.5 L203.9,419.2 L204.2,420.7 L204.4,423.3 L204.7,425.1 L205.0,425.7 L205.3,426.9 L205.6,428.5 L205.9,430.5 L206.2,432.1 L206.5,432.7 L206.9,434.1 L207.2,435.6 L207.6,437.0 L208.0,438.6 L208.4,440.7 L208.8,442.2 L209.3,444.5 L209.7,445.9 L210.2,446.6 L210.7,447.9 L211.2,449.7 L211.7,451.7 L212.2,452.3 L212.8,453.4 L213.3,455.5 L213.9,457.2 L214.5,458.7 L215.1,460.9 L215.7,462.3 L216.4,463.6 L217.1,464.9 L217.8,466.6 L218.6,467.8 L219.5,468.5 L220.4,470.2 L221.4,471.1 L222.5,472.6 L223.6,474.0 L224.7,476.2 L225.8,477.2 L227.1,478.1 L228.3,478.7 L229.6,478.4 L231.0,478.7 L232.4,480.4 L233.7,482.0 L235.1,482.9 L236.5,484.0 L237.9,484.7 L239.3,484.8 L240.6,486.3 L242.0,487.8 L243.4,487.5 L244.8,487.6 L246.2,488.9 L247.6,489.9 L249.0,490.9 L250.4,491.4 L251.8,492.1 L253.3,492.5 L254.7,494.5 L256.1,495.9 L257.6,496.1 L259.1,495.5 L260.6,495.5 L262.2,494.8 L263.8,495.6 L265.4,495.6 L267.0,495.3 L268.6,495.8 L270.2,496.4 L271.8,497.0 L273.4,497.2 L274.9,497.1 L276.5,496.6 L278.1,497.1 L279.7,497.9 L281.3,498.5 L282.9,498.8 L284.5,498.9 L286.2,498.1 L287.7,498.1 L289.3,498.3 L290.7,498.2 L292.1,497.8 L293.5,497.2 L294.8,497.0 L296.2,496.4 L297.7,496.5 L299.2,496.7 L300.7,497.1 L302.3,496.8 L303.9,497.4 L305.5,497.5 L307.1,497.6 L308.7,497.3 L310.3,495.8 L311.9,495.1 L313.4,495.4 L314.7,496.1 L316.1,496.4 L317.3,497.8 L318.6,498.5 L319.9,499.4 L321.2,500.7 L322.7,501.5 L324.1,501.7 L325.6,502.0 L327.2,502.6 L328.7,502.8 L330.2,502.9 L331.8,504.3 L333.4,505.5 L334.9,506.2 L336.5,506.4 L338.1,505.5 L339.6,504.6 L341.2,504.0 L342.8,504.2 L344.4,504.6 L345.9,504.5 L347.5,503.7 L349.0,504.0 L350.5,504.8 L352.0,505.5 L353.5,505.2 L355.1,504.9 L356.6,504.9 L358.2,505.2 L359.9,505.6 L361.5,506.7 L363.1,507.4 L364.6,507.7 L366.1,508.0 L367.4,508.0 L368.6,508.7 L369.8,509.5 L370.9,511.0 L372.0,512.7 L373.2,513.4 L374.5,513.7 L375.8,514.8 L377.2,515.2 L378.7,515.2 L380.2,516.0 L381.7,517.5 L383.3,518.3 L384.8,518.3 L386.3,519.3 L387.8,519.9 L389.3,519.7 L390.8,520.3 L392.3,521.0 L393.8,521.4 L395.4,521.4 L396.9,522.3 L398.5,523.4 L400.1,524.1 L401.6,524.4 L403.2,524.2 L404.8,524.9 L406.4,524.7 L408.0,524.1 L409.6,524.6 L411.2,524.5 L412.8,524.7 L414.3,525.0 L415.9,525.6 L417.5,525.7 L419.1,526.0 L420.7,526.9 L422.3,527.1 L423.9,527.4 L425.5,528.0 L427.1,527.6 L428.7,527.2 L430.3,527.0 L431.9,526.6 L433.5,527.2 L435.1,527.9 L436.7,527.3 L438.3,527.2 L439.9,527.0 L441.5,527.4 L443.1,528.4 L444.7,528.3 L446.3,527.9 L447.9,528.1 L449.5,528.0 L451.1,528.0 L452.7,528.0 L454.3,528.0 L455.9,528.5 L457.5,528.7 L459.1,528.6 L460.7,528.2 L462.3,527.9 L463.9,528.3 L465.5,528.5 L467.1,528.9 L468.7,528.9 L470.3,528.5 L471.9,527.6 L473.5,527.2 L475.1,528.3 L476.7,528.7 L478.4,528.1 L480.0,528.7 L481.6,529.0 L483.2,528.6 L484.8,529.1 L486.4,528.6 L488.0,528.4 L489.6,529.4 L491.2,529.4 L492.8,529.3 L494.4,529.5 L496.0,529.1 L497.6,529.9 L499.2,529.5 L500.8,529.5 L502.4,529.7 L504.0,530.1 L505.6,530.3 L507.2,530.0 L508.8,530.3 L510.4,530.1 L512.0,529.9 L513.6,529.9 L515.2,529.7 L516.8,529.9 L518.4,530.5 L520.0,530.5 L521.6,530.9 L523.2,530.7 L524.8,530.0 L526.4,529.8 L528.0,530.4 L529.6,531.0 L531.2,531.0 L532.8,531.0 L534.4,531.2 L536.0,530.5 L537.6,530.4 L539.2,531.2 L540.9,531.9 L542.5,531.3 L544.1,530.9 L545.7,531.4 L547.3,531.7 L548.9,531.6 L550.5,530.9 L552.1,530.6 L553.7,530.9 L555.3,531.4 L556.9,532.3 L558.5,532.7 L560.1,532.0 L561.7,531.9 L563.3,532.1 L564.9,532.1 L566.5,532.3 L568.1,532.4 L569.7,532.5 L571.3,532.8 L572.9,532.5 L574.5,532.2 L576.1,532.2 L577.7,532.3 L579.3,532.3 L580.9,532.2 L582.5,532.9 L584.1,532.9 L585.7,532.7 L587.3,532.5 L588.9,532.3 L590.5,532.7 L592.1,533.2 L593.7,532.5 L595.3,533.0 L596.9,533.4 L598.5,533.3 L600.1,533.2 L601.7,533.4 L603.4,533.2 L605.0,533.7 L606.6,534.0 L608.2,533.5 L609.8,533.4 L611.4,533.8 L613.0,534.1 L614.6,534.2 L616.2,534.0 L617.8,533.6 L619.4,533.7 L621.0,534.2 L622.6,534.3 L624.2,534.1 L625.8,534.4 L627.4,534.8 L629.0,535.0 L630.6,534.8 L632.2,535.0 L633.8,534.8 L635.4,534.9 L637.0,535.1 L638.6,535.7 L640.2,535.9 L641.8,535.2 L643.4,534.9 L645.0,534.8 L646.6,534.5 L648.2,534.8 L649.8,534.8 L651.4,535.4 L653.0,535.6 L654.6,535.2 L656.2,534.9 L657.8,535.3 L659.4,535.1 L661.0,535.0 L662.7,535.1 L664.3,534.9 L665.9,535.4 L667.5,535.8 L669.1,535.7 L670.7,535.5 L672.3,535.2 L673.9,535.4 L675.5,535.4 L677.1,535.4 L678.7,535.6 L680.3,536.0 L681.9,536.3 L683.5,536.1 L685.1,536.2 L686.7,536.4 L688.3,536.5 L689.9,536.3 L691.5,536.1 L693.1,536.1 L694.7,536.2 L696.3,536.4 L697.9,536.5 L699.5,536.3 L701.1,536.2 L702.7,536.1 L704.3,536.4 L705.9,536.3 L707.5,536.3 L709.1,536.3 L710.7,536.4 L712.3,536.6 L713.9,537.1 L715.6,536.9 L717.2,536.6 L718.8,536.4 L720.4,536.5 L722.0,536.9 L723.6,537.1 L725.2,536.6 L726.8,536.7 L728.4,537.0 L730.0,536.9 L731.6,536.8 L733.2,537.3 L734.8,537.4 L736.4,537.0 L738.0,537.3 L739.6,537.6 L741.2,537.6 L742.8,537.6 L744.4,537.9 L746.0,537.6 L747.6,537.2 L749.2,537.4 L750.8,537.3 L752.4,537.5 L754.0,537.4 L755.6,537.6 L757.2,537.5 L758.8,537.7 L760.4,537.7 L762.0,537.6 L763.6,537.7 L765.2,537.8 L766.9,537.6 L768.5,538.0 L770.1,538.2 L771.7,538.3 L773.3,538.6 L774.9,539.1 L776.5,538.5 L778.1,538.3 L779.7,538.4 L781.3,538.4 L782.9,538.1 L784.5,538.5 L786.1,538.2 L787.7,537.7 L789.3,538.0 L790.9,538.4 L792.5,538.6 L794.1,538.7 L795.7,538.8 L797.3,538.6 L798.9,538.3 L800.5,538.0 L802.1,538.4 L803.7,538.6 L805.3,538.2 L806.9,537.9 L808.5,538.3 L810.1,539.0 L811.7,538.8 L813.3,538.6 L815.0,538.6 L816.6,538.8 L818.2,538.5 L819.8,538.4 L821.4,538.4 L823.0,538.8 L824.6,539.2 L826.2,539.1 L827.8,539.3 L829.4,539.2 L831.0,539.2 L832.6,539.2 L834.2,539.2 L835.8,539.4 L837.4,539.2 L839.0,539.0 L840.6,539.1 L842.2,539.2 L843.8,539.4 L845.4,539.4 L847.0,539.4 L848.6,539.2 L850.2,539.6 L851.8,539.8 L853.4,539.5 L855.0,539.9 L856.6,539.8 L858.2,539.5 L859.8,539.3 L861.4,539.6 L863.1,539.4 L864.7,539.5 L866.3,539.8 L867.9,539.6 L869.5,539.6 L871.1,539.7 L872.7,539.9 L874.3,540.0 L875.9,540.0 L877.5,539.9 L879.1,539.9 L880.7,539.9 L882.3,540.0 L883.9,540.3 L885.5,539.9 L887.1,539.3 L888.7,539.5 L890.3,540.0 L891.9,539.6 L893.5,539.8 L895.1,540.1 L896.7,540.0 L898.3,540.4 L899.9,540.5 L901.5,540.2 L903.1,540.4 L904.7,540.1 L906.3,540.1 L907.9,540.4 L909.5,540.4 L911.2,540.2 L912.8,540.2 L914.4,539.8 L916.0,539.8 L917.6,540.0 L919.2,540.4 L920.8,540.6 L922.4,540.5 L924.0,540.2 L925.6,540.5 L927.2,540.6 L928.8,540.2 L930.4,540.4 L932.0,540.8 L933.6,541.0 L935.2,541.0 L936.8,541.1 L938.4,541.0 L940.0,540.8 L941.6,540.6 L943.2,540.5 L944.8,540.7 L946.4,541.0 L948.0,541.5 L949.6,541.3 L951.2,541.0 L952.8,540.9 L954.4,540.8 L956.0,540.8 L957.6,540.8 L959.3,540.8 L960.9,540.7 L962.5,540.5 L964.1,540.7 L965.7,540.9 L967.3,540.8 L968.9,541.0 L970.5,541.1 L972.1,540.9 L973.7,540.7 L975.3,540.6 L976.9,541.1 L978.5,540.8 L980.1,540.7 L981.7,541.0 L983.3,540.9 L984.9,541.4 L986.5,541.5 L988.1,541.5 L989.7,541.3 L991.3,541.0 L992.9,541.0 L994.5,541.6 L996.1,541.4 L997.7,541.4 L999.3,541.7 L1000.9,541.4 L1002.5,541.3 L1004.1,541.3 L1005.8,541.3 L1007.4,541.1 L1009.0,541.3 L1010.6,541.8 L1012.2,541.6 L1013.8,540.8 L1015.4,541.0 L1017.0,541.6 L1018.6,541.6 L1020.2,541.7 L1021.8,541.7 L1023.4,541.4 L1025.0,541.7 L1026.6,541.7 L1028.2,541.7 L1029.8,541.7 L1031.4,541.8 L1033.0,541.6 L1034.6,541.6 L1036.2,541.9 L1037.8,541.8 L1039.4,541.7 L1041.0,542.2 L1042.6,542.4 L1044.2,542.4 L1045.8,542.2 L1047.4,542.1 L1049.0,541.9 L1050.7,541.6 L1052.3,541.7 L1053.9,541.7 L1055.5,541.7 L1057.1,542.0 L1058.7,541.6 L1060.3,541.7 L1061.9,542.0 L1063.5,542.4 L1065.1,542.3 L1066.7,542.2 L1068.3,542.2 L1069.9,542.2 L1071.5,542.3 L1073.1,542.7 L1074.7,542.7 L1076.3,542.5 L1077.9,542.3 L1079.5,542.6 L1081.1,541.9 L1082.7,541.6 L1084.3,542.0 L1085.9,542.3 L1087.5,542.5 L1089.1,542.3 L1090.7,542.7 L1092.3,542.9 L1093.9,542.3 L1095.5,541.9 L1097.2,541.8 L1098.8,542.1 L1100.4,542.4 L1102.0,542.4 L1103.6,542.6 L1105.2,542.7 L1106.8,542.5 L1108.4,542.5 L1110.0,542.3 L1111.6,542.4 L1113.2,542.6 L1114.7,542.5 L1116.0,542.7 L1117.0,542.7" stroke="#ff00ff"/>
<path d="M125.4,305.2 L127.0,304.5 L128.5,303.7 L129.9,303.0 L131.3,302.1 L132.6,301.1 L133.8,300.2 L134.9,299.4 L135.9,298.2 L136.9,296.9 L137.8,295.7 L138.7,294.2 L139.5,292.8 L140.4,291.3 L141.1,289.7 L141.9,288.3 L142.6,286.9 L143.4,285.7 L144.1,284.2 L144.8,282.7 L145.5,281.1 L146.2,279.8 L146.8,278.3 L147.4,276.8 L148.1,275.5 L148.7,274.0 L149.3,272.5 L149.9,270.9 L150.5,269.5 L151.0,267.8 L151.6,266.2 L152.1,264.8 L152.7,263.2 L153.2,261.5 L153.7,260.1 L154.2,258.9 L154.8,257.6 L155.3,255.9 L155.7,254.3 L156.2,252.7 L156.7,251.1 L157.2,249.6 L157.6,247.9 L158.1,246.5 L158.5,245.0 L159.0,243.5 L159.4,242.0 L159.8,240.5 L160.2,238.9 L160.6,237.4 L161.0,235.8 L161.4,234.0 L161.8,232.6 L162.2,231.0 L162.6,229.4 L163.0,227.9 L163.3,226.3 L163.7,224.9 L164.0,223.4 L164.4,221.9 L164.7,220.4 L165.1,218.6 L165.4,216.9 L165.7,215.3 L166.0,213.7 L166.3,212.2 L166.6,210.7 L166.9,209.1 L167.2,207.7 L167.5,206.3 L167.8,204.7 L168.1,203.0 L168.3,201.4 L168.6,199.7 L168.8,198.1 L169.1,196.5 L169.4,194.8 L169.6,193.3 L169.8,191.8 L170.1,190.0 L170.3,188.3 L170.6,186.7 L170.8,185.0 L171.0,183.6 L171.2,182.2 L171.4,180.8 L171.7,179.0 L171.9,177.3 L172.1,175.9 L172.3,174.3 L172.5,172.7 L172.7,171.1 L172.9,169.6 L173.1,167.9 L173.3,166.4 L173.4,164.8 L173.6,163.0 L173.8,161.4 L174.0,159.8 L174.2,158.3 L174.4,156.8 L174.6,155.2 L174.8,153.6 L175.0,152.1 L175.2,150.7 L175.4,149.0 L175.6,147.4 L175.8,145.7 L176.0,144.1 L176.2,142.6 L176.4,141.2 L176.6,139.4 L176.8,137.6 L177.0,136.0 L177.2,134.4 L177.4,133.0 L177.6,131.5 L177.8,129.8 L178.0,128.2 L178.2,126.6 L178.4,125.1 L178.6,123.6 L178.8,121.8 L179.0,120.1 L179.2,118.7 L179.3,117.2 L179.5,115.7 L179.7,114.1 L179.9,112.2 L180.1,110.5 L180.3,109.1 L180.5,107.4 L180.7,105.7 L180.9,104.2 L181.1,102.8 L181.3,101.2 L181.5,99.6 L181.7,98.0 L181.9,96.2 L182.1,94.4 L182.3,92.8 L182.5,91.2 L182.7,89.7 L182.9,88.2 L183.1,86.7 L183.3,85.1 L183.6,83.6 L183.9,82.2 L184.2,80.5 L184.7,78.4 L185.2,76.4 L185.7,74.9 L186.3,74.5 L186.9,75.2 L187.6,76.5 L188.3,78.0 L189.0,80.0 L189.5,81.8 L189.9,83.6 L190.2,85.2 L190.4,86.8 L190.7,88.4 L190.9,89.8 L191.0,91.4 L191.2,93.0 L191.4,94.6 L191.5,96.3 L191.6,97.8 L191.8,99.4 L191.9,101.0 L192.0,102.7 L192.2,104.5 L192.3,106.2 L192.5,107.8 L192.6,109.3 L192.8,110.8 L193.0,112.5 L193.2,113.9 L193.4,115.4 L193.5,117.0 L193.7,118.7 L193.9,120.4 L194.1,121.9 L194.3,123.4 L194.5,125.0 L194.7,126.6 L194.9,128.2 L195.1,129.9 L195.2,131.6 L195.4,133.0 L195.6,134.6 L195.8,136.4 L195.9,138.0 L196.1,139.5 L196.2,141.1 L196.4,142.8 L196.5,144.4 L196.7,146.1 L196.8,147.5 L196.9,149.0 L197.0,150.6 L197.2,152.4 L197.3,154.1 L197.4,155.8 L197.5,157.2 L197.6,158.6 L197.7,160.3 L197.9,162.1 L198.0,163.6 L198.1,165.2 L198.2,166.9 L198.3,168.3 L198.4,169.9 L198.5,171.4 L198.6,173.0 L198.8,174.7 L198.9,176.3 L199.0,177.7 L199.1,179.4 L199.2,181.0 L199.3,182.6 L199.5,184.1 L199.6,185.6 L199.7,187.2 L199.8,188.9 L200.0,190.7 L200.1,192.4 L200.2,193.8 L200.3,195.3 L200.4,197.1 L200.6,198.7 L200.7,200.5 L200.8,202.2 L200.9,203.7 L201.0,205.0 L201.2,206.4 L201.3,208.0 L201.4,209.6 L201.5,211.2 L201.6,213.0 L201.7,214.6 L201.8,216.1 L201.9,217.8 L202.0,219.6 L202.1,221.3 L202.2,222.6 L202.3,224.3 L202.4,225.8 L202.5,227.3 L202.6,228.9 L202.7,230.6 L202.8,232.4 L202.9,233.8 L203.0,235.2 L203.1,236.8 L203.2,238.7 L203.3,240.2 L203.4,241.8 L203.5,243.5 L203.6,244.9 L203.7,246.4 L203.8,248.2 L203.9,250.1 L203.9,251.7 L204.0,253.3 L204.2,254.9 L204.3,256.4 L204.4,258.0 L204.5,259.7 L204.6,261.5 L204.7,262.8 L204.8,263.9 L204.9,265.7 L205.0,267.7 L205.1,269.1 L205.2,270.7 L205.3,272.5 L205.4,273.8 L205.5,275.4 L205.6,277.1 L205.7,278.4 L205.8,279.4 L205.9,281.0 L206.0,283.3 L206.1,284.9 L206.2,287.0 L206.3,289.3 L206.4,290.1 L206.4,291.3 L206.5,294.1 L206.6,295.5 L206.7,296.9 L206.8,298.9 L206.8,300.0 L206.9,301.7 L207.0,303.1 L207.0,304.5 L207.1,306.3 L207.2,308.0 L207.3,309.6 L207.3,310.9 L207.4,312.0 L207.5,313.8 L207.6,316.2 L207.7,317.6 L207.8,319.1 L207.9,321.2 L208.0,322.9 L208.1,324.2 L208.2,325.1 L208.3,326.8 L208.4,329.0 L208.6,330.6 L208.7,331.2 L208.9,332.7 L209.0,334.6 L209.2,336.5 L209.3,337.9 L209.5,340.3 L209.7,341.1 L209.8,342.6 L210.0,344.6 L210.2,345.8 L210.4,347.3 L210.6,348.8 L210.8,350.4 L211.0,351.6 L211.2,353.4 L211.4,355.0 L211.6,356.5 L211.8,358.9 L212.1,360.4 L212.3,361.5 L212.5,363.7 L212.8,365.1 L213.1,366.7 L213.3,367.9 L213.6,369.6 L213.9,371.7 L214.2,373.4 L214.5,373.8 L214.8,375.3 L215.1,377.2 L215.5,379.2 L215.9,380.5 L216.4,382.3 L217.0,384.1 L217.8,385.2 L218.6,385.8 L219.4,386.8 L220.4,388.1 L221.4,389.2 L222.5,390.1 L223.6,391.7 L224.9,393.3 L226.2,394.3 L227.6,395.4 L228.9,396.7 L230.4,397.4 L231.8,397.3 L233.3,398.0 L234.8,399.3 L236.4,399.3 L237.9,399.2 L239.5,400.1 L241.1,400.8 L242.7,400.3 L244.2,400.4 L245.8,401.2 L247.4,402.0 L249.0,401.7 L250.6,402.2 L252.2,402.6 L253.8,402.5 L255.4,402.3 L257.0,402.8 L258.6,403.2 L260.2,403.7 L261.7,403.8 L263.3,403.5 L264.9,403.0 L266.5,403.6 L268.1,403.3 L269.7,402.6 L271.3,403.1 L272.9,403.4 L274.5,402.7 L276.1,401.7 L277.7,401.8 L279.3,401.7 L280.9,401.5 L282.5,401.0 L284.1,401.9 L285.7,402.3 L287.2,402.2 L288.8,401.7 L290.4,401.4 L292.0,401.4 L293.5,400.8 L295.1,400.0 L296.6,399.7 L298.1,399.5 L299.6,399.0 L301.1,398.0 L302.6,397.0 L304.1,396.7 L305.6,396.5 L307.1,396.1 L308.7,395.2 L310.2,393.5 L311.8,393.0 L313.4,392.9 L314.9,393.5 L316.5,393.7 L318.1,393.8 L319.6,394.1 L321.2,394.2 L322.7,394.9 L324.2,395.4 L325.7,396.0 L327.2,396.7 L328.6,397.8 L330.1,398.2 L331.5,397.9 L332.9,398.6 L334.4,399.7 L335.8,400.3 L337.3,400.1 L338.8,400.7 L340.3,401.9 L341.8,403.1 L343.3,402.9 L344.7,403.0 L346.2,403.0 L347.7,402.5 L349.2,401.8 L350.7,400.7 L352.2,399.8 L353.7,399.2 L355.2,398.7 L356.8,398.3 L358.3,397.9 L359.9,397.3 L361.4,397.6 L363.0,397.9 L364.6,398.2 L366.2,398.7 L367.8,399.1 L369.2,398.8 L370.6,399.5 L371.9,400.4 L373.1,401.2 L374.3,402.4 L375.4,403.7 L376.5,405.2 L377.6,407.1 L378.7,407.7 L379.8,408.6 L380.9,409.1 L382.0,410.3 L383.2,411.3 L384.4,412.9 L385.6,414.7 L386.9,416.0 L388.2,416.5 L389.6,417.0 L391.0,417.5 L392.4,418.3 L393.9,418.8 L395.4,418.4 L397.0,418.9 L398.5,419.4 L400.1,420.1 L401.7,419.9 L403.3,420.4 L404.9,420.1 L406.4,420.6 L408.0,422.0 L409.6,422.3 L411.2,421.6 L412.8,421.2 L414.4,421.6 L416.0,422.2 L417.6,422.0 L419.2,421.9 L420.8,422.8 L422.4,423.3 L424.0,422.8 L425.6,422.9 L427.2,423.2 L428.8,423.9 L430.4,423.8 L432.0,423.4 L433.6,423.2 L435.2,423.8 L436.8,423.7 L438.4,423.7 L440.0,423.7 L441.6,423.5 L443.2,422.8 L444.8,423.0 L446.4,423.8 L448.0,424.5 L449.6,424.2 L451.2,424.0 L452.8,423.8 L454.4,423.8 L456.0,423.8 L457.6,423.5 L459.2,423.7 L460.8,424.1 L462.5,424.7 L464.1,424.5 L465.7,424.5 L467.3,424.2 L468.9,424.8 L470.5,425.1 L472.1,424.0 L473.7,423.7 L475.3,424.5 L476.9,424.4 L478.5,424.3 L480.1,424.6 L481.7,424.8 L483.3,425.1 L484.9,424.7 L486.5,424.0 L488.1,423.6 L489.7,423.4 L491.3,423.9 L492.9,424.7 L494.5,424.2 L496.1,424.6 L497.7,425.2 L499.3,425.1 L500.9,425.3 L502.5,425.3 L504.1,425.5 L505.7,424.9 L507.3,425.0 L508.9,426.0 L510.5,425.8 L512.1,425.5 L513.7,425.4 L515.3,425.9 L516.9,425.7 L518.6,425.4 L520.2,425.1 L521.8,425.2 L523.4,425.2 L525.0,425.3 L526.6,425.5 L528.2,425.2 L529.8,425.1 L531.4,425.4 L533.0,425.2 L534.6,426.0 L536.2,426.1 L537.8,425.4 L539.4,425.9 L541.0,425.6 L542.6,425.9 L544.2,425.7 L545.8,425.8 L547.4,425.7 L549.0,426.2 L550.6,426.5 L552.2,426.9 L553.8,426.6 L555.4,426.1 L557.0,426.1 L558.6,425.9 L560.2,426.1 L561.8,426.5 L563.4,426.5 L565.0,426.1 L566.6,426.0 L568.2,426.6 L569.8,427.3 L571.4,426.7 L573.0,426.2 L574.6,426.3 L576.2,426.7 L577.8,427.5 L579.4,427.2 L581.0,427.0 L582.6,427.3 L584.2,427.4 L585.9,426.9 L587.5,426.6 L589.1,426.9 L590.7,427.0 L592.3,426.4 L593.9,426.7 L595.5,427.8 L597.1,427.7 L598.7,427.4 L600.3,427.0 L601.9,427.2 L603.5,427.7 L605.1,428.3 L606.7,428.0 L608.3,427.7 L609.9,428.5 L611.5,428.6 L613.1,428.2 L614.7,427.6 L616.3,427.7 L617.9,428.1 L619.5,428.5 L621.1,428.7 L622.7,428.0 L624.3,427.8 L625.9,428.0 L627.5,427.9 L629.1,427.8 L630.7,427.8 L632.3,428.2 L633.9,428.4 L635.5,428.6 L637.1,428.7 L638.7,428.4 L640.3,428.5 L641.9,428.6 L643.5,428.7 L645.1,428.8 L646.7,428.5 L648.3,428.8 L649.9,429.3 L651.5,429.4 L653.2,429.3 L654.8,428.8 L656.4,428.9 L658.0,429.1 L659.6,429.1 L661.2,429.3 L662.8,429.6 L664.4,429.3 L666.0,429.2 L667.6,429.5 L669.2,429.7 L670.8,430.0 L672.4,430.4 L674.0,430.3 L675.6,430.0 L677.2,429.8 L678.8,430.1 L680.4,429.8 L682.0,429.8 L683.6,429.9 L685.2,430.4 L686.8,430.2 L688.4,429.8 L690.0,430.0 L691.6,429.7 L693.2,429.9 L694.8,430.0 L696.4,429.7 L698.0,429.9 L699.6,429.9 L701.2,430.0 L702.8,429.9 L704.4,430.2 L706.0,430.4 L707.6,430.7 L709.2,430.6 L710.8,430.7 L712.5,430.9 L714.1,430.9 L715.7,430.7 L717.3,430.9 L718.9,430.8 L720.5,431.0 L722.1,431.0 L723.7,430.5 L725.3,430.3 L726.9,430.6 L728.5,430.6 L730.1,430.9 L731.7,430.9 L733.3,430.7 L734.9,430.5 L736.5,430.4 L738.1,430.4 L739.7,430.6 L741.3,430.8 L742.9,430.8 L744.5,431.2 L746.1,431.1 L747.7,430.5 L749.3,430.3 L750.9,430.9 L752.5,430.5 L754.1,430.1 L755.7,430.4 L757.3,431.1 L758.9,431.5 L760.5,431.7 L762.1,431.9 L763.7,432.1 L765.3,432.1 L766.9,431.5 L768.5,431.4 L770.2,431.3 L771.8,431.3 L773.4,431.3 L775.0,431.6 L776.6,431.9 L778.2,431.6 L779.8,431.7 L781.4,431.4 L783.0,431.4 L784.6,431.7 L786.2,431.6 L787.8,431.7 L789.4,431.8 L791.0,431.5 L792.6,431.7 L794.2,432.0 L795.8,431.7 L797.4,431.8 L799.0,432.1 L800.6,432.0 L802.2,432.0 L803.8,432.0 L805.4,432.0 L807.0,432.2 L808.6,432.2 L810.2,432.1 L811.8,432.2 L813.4,432.2 L815.0,432.4 L816.6,432.3 L818.2,432.1 L819.8,432.1 L821.4,432.1 L823.0,432.0 L824.7,432.2 L826.3,432.2 L827.9,432.4 L829.5,432.6 L831.1,433.2 L832.7,432.8 L834.3,432.2 L835.9,432.2 L837.5,432.2 L839.1,432.2 L840.7,432.5 L842.3,432.6 L843.9,432.4 L845.5,431.8 L847.1,432.2 L848.7,432.5 L850.3,432.5 L851.9,432.2 L853.5,432.0 L855.1,432.0 L856.7,432.3 L858.3,432.2 L859.9,431.9 L861.5,432.1 L863.1,432.3 L864.7,432.2 L866.3,432.4 L867.9,432.5 L869.5,432.3 L871.1,432.3 L872.7,432.8 L874.3,432.8 L875.9,432.7 L877.5,432.6 L879.2,432.7 L880.8,432.7 L882.4,432.9 L884.0,433.2 L885.6,433.1 L887.2,432.8 L888.8,432.6 L890.4,432.8 L892.0,432.5 L893.6,432.8 L895.2,433.1 L896.8,433.3 L898.4,433.2 L900.0,433.1 L901.6,433.2 L903.2,432.9 L904.8,432.9 L906.4,433.2 L908.0,433.1 L909.6,432.9 L911.2,433.3 L912.8,433.2 L914.4,433.3 L916.0,433.2 L917.6,432.9 L919.2,432.7 L920.8,432.6 L922.4,433.2 L924.0,433.4 L925.6,433.1 L927.2,432.9 L928.8,432.7 L930.4,432.7 L932.0,433.1 L933.7,433.5 L935.3,433.5 L936.9,433.6 L938.5,433.5 L940.1,433.2 L941.7,432.9 L943.3,432.9 L944.9,433.0 L946.5,433.6 L948.1,433.7 L949.7,433.3 L951.3,433.2 L952.9,433.1 L954.5,433.4 L956.1,433.5 L957.7,433.3 L959.3,433.4 L960.9,433.5 L962.5,433.2 L964.1,433.6 L965.7,434.0 L967.3,434.0 L968.9,433.6 L970.5,433.6 L972.1,433.9 L973.7,434.1 L975.3,434.2 L976.9,434.0 L978.5,433.9 L980.1,434.0 L981.7,434.1 L983.3,433.8 L984.9,434.1 L986.5,434.0 L988.2,433.8 L989.8,433.5 L991.4,433.4 L993.0,433.2 L994.6,433.0 L996.2,433.5 L997.8,433.6 L999.4,433.8 L1001.0,433.7 L1002.6,433.8 L1004.2,433.8 L1005.8,433.6 L1007.4,433.7 L1009.0,433.5 L1010.6,433.3 L1012.2,434.0 L1013.8,434.1 L1015.4,434.1 L1017.0,434.1 L1018.6,434.2 L1020.2,434.1 L1021.8,434.3 L1023.4,434.4 L1025.0,434.1 L1026.6,434.0 L1028.2,433.9 L1029.8,433.7 L1031.4,434.0 L1033.0,434.2 L1034.6,434.5 L1036.2,434.2 L1037.8,434.0 L1039.4,434.1 L1041.1,433.8 L1042.7,433.5 L1044.3,433.8 L1045.9,433.9 L1047.5,434.3 L1049.1,434.3 L1050.7,434.4 L1052.3,434.3 L1053.9,434.3 L1055.5,434.3 L1057.1,434.1 L1058.7,434.5 L1060.3,434.4 L1061.9,434.1 L1063.5,434.5 L1065.1,434.9 L1066.7,434.9 L1068.3,435.1 L1069.9,435.0 L1071.5,434.4 L1073.1,434.1 L1074.7,434.1 L1076.3,434.1 L1077.9,434.3 L1079.5,434.4 L1081.1,434.4 L1082.7,434.4 L1084.3,434.3 L1085.9,434.3 L1087.5,434.5 L1089.1,435.1 L1090.7,435.0 L1092.4,434.7 L1094.0,434.4 L1095.6,434.2 L1097.2,434.4 L1098.8,434.5 L1100.4,434.5 L1102.0,434.5 L1103.6,434.3 L1105.2,434.3 L1106.8,434.4 L1108.4,434.4 L1110.0,434.4 L1111.6,434.7 L1113.2,434.7 L1114.7,434.6 L1116.0,434.6 L1117.0,434.6" stroke="#000000"/>
</g>
<g fill="none" stroke-width="4.7" stroke-linejoin="round" stroke-linecap="butt">
<path d="M1210.0,592.5 L1210.8,591.1 L1211.7,589.8 L1212.5,588.2 L1213.4,586.9 L1214.2,585.6 L1215.1,584.1 L1216.1,582.8 L1217.1,581.5 L1218.1,580.2 L1219.0,578.8 L1219.9,577.6 L1220.7,576.2 L1221.4,574.8 L1222.1,573.1 L1222.7,571.7 L1223.3,570.5 L1223.8,569.0 L1224.4,567.2 L1224.9,565.8 L1225.4,564.2 L1225.9,562.7 L1226.3,561.2 L1226.8,559.8 L1227.3,558.4 L1227.8,556.8 L1228.2,555.2 L1228.6,553.6 L1229.1,552.1 L1229.5,550.6 L1229.9,549.2 L1230.3,547.5 L1230.7,546.0 L1231.1,544.4 L1231.5,542.8 L1231.8,541.3 L1232.2,539.7 L1232.6,538.2 L1233.0,536.6 L1233.3,535.1 L1233.7,533.4 L1234.0,531.7 L1234.4,530.3 L1234.7,528.7 L1235.1,527.2 L1235.4,525.8 L1235.7,524.3 L1236.1,522.6 L1236.4,521.0 L1236.8,519.4 L1237.1,518.0 L1237.4,516.3 L1237.8,514.6 L1238.1,513.1 L1238.4,511.6 L1238.8,510.2 L1239.1,508.6 L1239.4,507.2 L1239.8,505.5 L1240.1,503.8 L1240.4,502.1 L1240.7,500.6 L1241.0,498.9 L1241.4,497.3 L1241.7,495.9 L1242.0,494.4 L1242.4,492.9 L1242.7,491.2 L1243.0,489.4 L1243.3,488.0 L1243.6,486.4 L1243.9,485.1 L1244.2,483.6 L1244.5,481.7 L1244.7,480.0 L1245.0,478.4 L1245.2,477.0 L1245.5,475.3 L1245.7,473.7 L1245.9,472.2 L1246.1,470.9 L1246.3,469.3 L1246.5,467.7 L1246.8,466.2 L1247.0,464.6 L1247.2,462.9 L1247.4,461.1 L1247.6,459.5 L1247.9,457.8 L1248.1,456.3 L1248.3,454.9 L1248.6,453.3 L1248.8,451.7 L1249.0,450.1 L1249.2,448.6 L1249.5,447.1 L1249.7,445.5 L1249.9,443.9 L1250.2,442.3 L1250.4,440.7 L1250.7,439.0 L1250.9,437.3 L1251.1,435.6 L1251.4,434.1 L1251.6,432.6 L1251.8,431.0 L1252.0,429.3 L1252.3,427.9 L1252.5,426.2 L1252.8,424.7 L1253.0,423.1 L1253.3,421.5 L1253.6,420.0 L1254.0,418.3 L1254.4,416.5 L1254.8,415.1 L1255.3,413.8 L1255.9,412.2 L1256.6,410.5 L1257.4,409.3 L1258.5,408.5 L1260.0,407.6 L1261.5,407.3 L1263.2,407.7 L1264.7,408.6 L1265.9,409.8 L1266.4,411.0 L1266.7,412.1 L1267.0,413.6 L1267.2,415.4 L1267.3,417.1 L1267.5,418.8 L1267.6,420.5 L1267.7,422.2 L1267.8,424.1 L1268.0,425.9 L1268.1,427.6 L1268.3,429.1 L1268.5,430.7 L1268.6,432.4 L1268.8,434.0 L1268.9,435.6 L1269.1,437.1 L1269.3,438.4 L1269.4,439.9 L1269.6,441.7 L1269.7,443.3 L1269.9,444.9 L1270.0,446.4 L1270.2,448.1 L1270.3,449.9 L1270.5,451.4 L1270.7,452.8 L1270.8,454.4 L1271.0,456.1 L1271.1,457.8 L1271.3,459.6 L1271.5,461.0 L1271.6,462.4 L1271.8,464.0 L1272.0,465.6 L1272.1,467.2 L1272.3,468.7 L1272.5,470.3 L1272.6,471.8 L1272.8,473.5 L1272.9,475.1 L1273.1,476.8 L1273.2,478.3 L1273.4,479.8 L1273.5,481.5 L1273.6,483.2 L1273.7,484.9 L1273.9,486.5 L1274.0,488.1 L1274.1,489.6 L1274.2,491.1 L1274.3,492.6 L1274.4,494.4 L1274.5,496.0 L1274.6,497.6 L1274.7,499.1 L1274.8,500.7 L1274.9,502.3 L1275.1,503.8 L1275.2,505.5 L1275.3,507.1 L1275.4,508.7 L1275.5,510.2 L1275.6,511.8 L1275.8,513.6 L1275.9,515.3 L1276.0,516.9 L1276.1,518.4 L1276.3,519.8 L1276.4,521.5 L1276.5,523.1 L1276.7,524.7 L1276.8,526.4 L1276.9,528.0 L1277.1,529.6 L1277.2,531.1 L1277.3,532.7 L1277.5,534.3 L1277.6,536.0 L1277.7,537.7 L1277.9,539.3 L1278.0,540.8 L1278.1,542.5 L1278.3,544.3 L1278.4,545.5 L1278.6,546.9 L1278.7,548.7 L1278.8,550.5 L1279.0,552.0 L1279.1,553.5 L1279.3,555.1 L1279.4,557.0 L1279.5,558.2 L1279.6,559.5 L1279.8,561.2 L1279.9,562.7 L1280.0,564.5 L1280.1,566.4 L1280.2,567.6 L1280.3,569.1 L1280.3,570.6 L1280.4,572.4 L1280.5,574.3 L1280.6,575.9 L1280.6,577.2 L1280.7,578.6 L1280.8,580.4 L1280.8,582.1 L1280.9,583.4 L1281.0,584.7 L1281.1,586.1 L1281.1,588.2 L1281.2,589.5 L1281.3,591.2 L1281.4,593.3 L1281.5,595.2 L1281.6,596.7 L1281.7,598.1 L1281.8,599.6 L1281.9,601.0 L1282.0,602.4 L1282.2,604.4 L1282.3,606.3 L1282.5,608.2 L1282.6,609.8 L1282.8,611.6 L1282.9,613.1 L1283.1,614.6 L1283.3,616.1 L1283.5,617.2 L1283.6,618.5 L1283.8,620.3 L1284.0,621.4 L1284.2,623.4 L1284.4,625.5 L1284.5,627.0 L1284.7,628.8 L1284.9,630.0 L1285.1,631.8 L1285.3,634.1 L1285.5,636.1 L1285.7,637.7 L1285.9,638.7 L1286.1,640.1 L1286.3,641.7 L1286.6,642.9 L1286.8,643.8 L1287.0,645.6 L1287.2,647.7 L1287.5,648.6 L1287.7,650.5 L1288.0,652.2 L1288.2,654.1 L1288.5,655.3 L1288.7,656.6 L1289.0,657.6 L1289.3,659.9 L1289.6,661.8 L1289.8,662.8 L1290.1,664.8 L1290.4,666.0 L1290.7,667.3 L1291.1,668.5 L1291.4,671.2 L1291.7,672.7 L1292.0,674.1 L1292.3,675.6 L1292.7,677.6 L1293.0,680.0 L1293.4,681.4 L1293.7,683.1 L1294.1,684.4 L1294.5,685.9 L1294.8,687.2 L1295.2,689.2 L1295.6,691.4 L1296.0,692.3 L1296.3,693.3 L1296.7,694.6 L1297.1,696.6 L1297.4,698.1 L1297.8,698.5 L1298.2,700.3 L1298.6,703.3 L1299.1,704.7 L1299.6,706.1 L1300.1,707.9 L1300.7,709.6 L1301.4,710.8 L1302.2,711.9 L1303.1,713.7 L1304.1,714.2 L1305.1,714.8 L1306.2,716.1 L1307.3,717.5 L1308.3,718.6 L1309.5,719.8 L1310.6,720.5 L1311.8,720.5 L1313.0,722.4 L1314.2,724.6 L1315.5,725.6 L1316.8,726.0 L1318.1,727.0 L1319.5,728.3 L1320.8,728.6 L1322.3,729.3 L1323.7,730.6 L1325.2,730.8 L1326.7,731.5 L1328.1,732.0 L1329.6,732.5 L1331.2,732.7 L1332.7,733.6 L1334.2,734.7 L1335.8,734.7 L1337.3,735.0 L1338.9,734.8 L1340.5,735.0 L1342.1,735.0 L1343.6,734.9 L1345.2,736.0 L1346.8,736.3 L1348.4,736.8 L1350.0,736.5 L1351.6,737.1 L1353.2,737.6 L1354.8,736.7 L1356.4,736.1 L1357.9,736.4 L1359.5,736.2 L1361.1,735.8 L1362.7,735.5 L1364.3,735.3 L1365.9,735.6 L1367.5,735.4 L1369.1,735.5 L1370.7,736.2 L1372.3,736.4 L1373.9,736.9 L1375.5,735.9 L1377.1,735.3 L1378.7,735.4 L1380.3,735.7 L1381.9,735.3 L1383.5,735.3 L1385.1,735.8 L1386.6,734.9 L1388.2,734.8 L1389.8,733.9 L1391.4,733.3 L1393.0,733.9 L1394.5,733.7 L1396.1,733.7 L1397.7,734.8 L1399.3,735.9 L1400.8,736.0 L1402.4,736.2 L1404.0,736.4 L1405.6,735.8 L1407.2,735.4 L1408.8,734.7 L1410.4,734.0 L1412.0,734.3 L1413.6,734.7 L1415.2,734.1 L1416.8,735.0 L1418.4,735.1 L1420.0,734.8 L1421.6,735.4 L1423.1,736.1 L1424.7,735.6 L1426.3,735.9 L1427.9,735.7 L1429.5,734.9 L1431.1,734.9 L1432.7,734.6 L1434.3,734.0 L1435.9,733.7 L1437.5,733.2 L1439.0,732.8 L1440.5,732.9 L1441.9,733.7 L1443.4,734.1 L1444.8,734.5 L1446.2,735.0 L1447.6,735.8 L1449.0,737.2 L1450.4,738.6 L1451.8,739.3 L1453.2,740.7 L1454.7,741.3 L1456.1,741.6 L1457.5,742.2 L1459.0,743.5 L1460.4,743.5 L1461.9,744.6 L1463.3,745.8 L1464.8,745.8 L1466.2,746.1 L1467.7,747.1 L1469.2,748.3 L1470.7,749.0 L1472.2,749.0 L1473.7,748.8 L1475.2,749.3 L1476.8,750.1 L1478.3,750.2 L1479.8,751.2 L1481.4,752.4 L1483.0,752.1 L1484.5,752.6 L1486.1,752.5 L1487.7,752.8 L1489.3,752.9 L1490.9,752.7 L1492.4,753.3 L1494.0,754.0 L1495.6,753.9 L1497.2,753.6 L1498.8,753.1 L1500.4,753.4 L1502.0,753.8 L1503.6,754.3 L1505.2,754.3 L1506.8,753.7 L1508.4,754.0 L1510.0,753.3 L1511.6,752.7 L1513.2,752.3 L1514.8,752.6 L1516.4,752.7 L1518.1,752.5 L1519.7,753.0 L1521.3,753.3 L1522.9,753.4 L1524.5,753.6 L1526.1,753.3 L1527.7,753.7 L1529.3,753.7 L1530.9,753.4 L1532.5,752.7 L1534.1,753.1 L1535.7,753.5 L1537.3,753.8 L1538.9,753.6 L1540.5,754.3 L1542.1,754.2 L1543.7,754.9 L1545.3,754.9 L1546.9,754.6 L1548.5,755.2 L1550.1,754.2 L1551.7,754.0 L1553.3,754.2 L1554.9,754.3 L1556.5,754.4 L1558.1,754.7 L1559.7,754.9 L1561.3,754.8 L1562.9,754.5 L1564.5,754.8 L1566.1,755.0 L1567.7,754.3 L1569.3,754.2 L1570.9,753.6 L1572.5,753.8 L1574.1,754.2 L1575.7,755.0 L1577.3,754.4 L1578.9,754.8 L1580.5,755.3 L1582.1,755.5 L1583.7,755.8 L1585.3,756.1 L1586.9,756.1 L1588.5,756.2 L1590.1,755.9 L1591.7,755.7 L1593.3,755.3 L1594.9,756.0 L1596.5,756.5 L1598.1,755.9 L1599.7,755.8 L1601.3,756.5 L1602.9,757.2 L1604.5,757.1 L1606.1,756.4 L1607.7,756.6 L1609.3,756.5 L1610.9,756.3 L1612.5,755.8 L1614.1,756.5 L1615.7,756.5 L1617.3,756.6 L1618.9,756.6 L1620.5,756.6 L1622.1,757.1 L1623.7,756.9 L1625.3,756.9 L1626.9,757.2 L1628.5,757.1 L1630.1,757.0 L1631.7,757.4 L1633.3,757.2 L1634.9,757.3 L1636.5,757.7 L1638.1,757.9 L1639.7,758.1 L1641.3,758.2 L1642.9,757.7 L1644.5,757.7 L1646.1,758.5 L1647.7,758.6 L1649.3,758.1 L1650.9,758.2 L1652.5,757.8 L1654.1,757.6 L1655.7,758.3 L1657.3,758.3 L1659.0,758.2 L1660.6,758.5 L1662.2,758.3 L1663.8,757.5 L1665.4,757.1 L1667.0,757.2 L1668.6,757.9 L1670.2,758.2 L1671.8,758.5 L1673.4,758.4 L1675.0,758.2 L1676.6,758.1 L1678.2,758.1 L1679.8,758.8 L1681.4,758.9 L1683.0,759.0 L1684.6,758.8 L1686.2,759.0 L1687.8,759.1 L1689.4,758.9 L1691.0,759.0 L1692.6,759.7 L1694.2,759.4 L1695.8,759.4 L1697.4,759.3 L1699.0,759.2 L1700.6,759.6 L1702.2,759.6 L1703.8,759.3 L1705.4,758.8 L1707.0,759.4 L1708.6,759.9 L1710.2,759.8 L1711.8,759.8 L1713.4,760.1 L1715.0,760.0 L1716.6,760.1 L1718.2,760.3 L1719.8,760.2 L1721.4,759.8 L1723.0,760.0 L1724.6,759.7 L1726.2,759.5 L1727.8,759.8 L1729.4,759.5 L1731.0,759.5 L1732.6,759.1 L1734.2,759.3 L1735.8,759.6 L1737.4,759.7 L1739.0,759.7 L1740.6,759.7 L1742.2,760.0 L1743.8,760.4 L1745.4,760.1 L1747.0,760.2 L1748.6,760.5 L1750.2,759.9 L1751.8,759.7 L1753.4,760.1 L1755.1,760.2 L1756.7,760.2 L1758.3,760.5 L1759.9,760.5 L1761.5,760.3 L1763.1,760.5 L1764.7,760.4 L1766.3,760.7 L1767.9,760.8 L1769.5,761.0 L1771.1,760.7 L1772.7,760.5 L1774.3,760.6 L1775.9,760.6 L1777.5,760.4 L1779.1,760.4 L1780.7,761.0 L1782.3,761.2 L1783.9,760.8 L1785.5,760.8 L1787.1,761.0 L1788.7,761.4 L1790.3,761.3 L1791.9,760.8 L1793.5,760.6 L1795.1,760.6 L1796.7,760.8 L1798.3,761.1 L1799.9,761.3 L1801.5,761.0 L1803.1,760.9 L1804.7,761.3 L1806.3,761.3 L1807.9,761.1 L1809.5,761.2 L1811.1,761.5 L1812.7,761.8 L1814.3,761.8 L1815.9,761.8 L1817.5,761.6 L1819.1,761.3 L1820.7,761.3 L1822.3,761.3 L1823.9,761.3 L1825.5,761.1 L1827.1,761.2 L1828.7,761.3 L1830.3,761.1 L1831.9,761.3 L1833.5,761.4 L1835.1,761.5 L1836.7,761.4 L1838.4,761.2 L1840.0,761.6 L1841.6,761.8 L1843.2,762.0 L1844.8,762.1 L1846.4,761.9 L1848.0,761.6 L1849.6,761.1 L1851.2,761.5 L1852.8,761.9 L1854.4,761.9 L1856.0,761.8 L1857.6,761.7 L1859.2,761.9 L1860.8,762.2 L1862.4,762.5 L1864.0,762.5 L1865.6,762.2 L1867.2,762.0 L1868.8,762.3 L1870.4,761.7 L1872.0,761.4 L1873.6,762.3 L1875.2,762.5 L1876.8,762.4 L1878.4,762.5 L1880.0,762.4 L1881.6,762.2 L1883.2,762.3 L1884.8,762.2 L1886.4,762.2 L1888.0,762.3 L1889.6,762.6 L1891.2,762.7 L1892.8,762.5 L1894.4,762.4 L1896.0,761.9 L1897.6,762.1 L1899.2,762.6 L1900.8,762.9 L1902.4,763.0 L1904.0,762.9 L1905.6,762.4 L1907.2,762.3 L1908.8,762.1 L1910.4,762.6 L1912.0,762.9 L1913.6,762.9 L1915.2,762.8 L1916.8,763.1 L1918.4,763.1 L1920.0,763.0 L1921.6,762.8 L1923.2,762.9 L1924.9,763.0 L1926.5,763.0 L1928.1,763.1 L1929.7,762.9 L1931.3,762.8 L1932.9,763.1 L1934.5,763.4 L1936.1,763.2 L1937.7,763.2 L1939.3,763.0 L1940.9,763.3 L1942.5,763.3 L1944.1,763.3 L1945.7,763.5 L1947.3,763.5 L1948.9,763.4 L1950.5,763.5 L1952.1,763.4 L1953.7,763.1 L1955.3,762.9 L1956.9,762.7 L1958.5,762.9 L1960.1,763.0 L1961.7,763.0 L1963.3,763.4 L1964.9,763.2 L1966.5,763.0 L1968.1,763.2 L1969.7,763.4 L1971.3,763.4 L1972.9,763.4 L1974.5,763.4 L1976.1,763.2 L1977.7,763.5 L1979.3,763.7 L1980.9,763.7 L1982.5,764.0 L1984.1,764.0 L1985.7,763.6 L1987.3,763.3 L1988.9,763.9 L1990.5,763.9 L1992.1,763.3 L1993.7,763.5 L1995.3,763.4 L1996.9,763.1 L1998.5,763.4 L2000.1,763.9 L2001.7,763.9 L2003.3,763.8 L2004.9,763.9 L2006.5,763.4 L2008.2,763.2 L2009.8,763.7 L2011.4,763.5 L2013.0,763.7 L2014.6,763.9 L2016.2,763.9 L2017.8,763.8 L2019.4,763.8 L2021.0,764.2 L2022.6,764.5 L2024.2,764.0 L2025.8,763.8 L2027.4,764.0 L2029.0,763.9 L2030.6,763.9 L2032.2,763.9 L2033.8,764.0 L2035.4,764.0 L2037.0,764.1 L2038.6,764.2 L2040.2,763.8 L2041.8,763.9 L2043.4,763.9 L2045.0,763.6 L2046.6,763.5 L2048.2,763.6 L2049.8,763.7 L2051.4,764.0 L2053.0,764.1 L2054.6,764.6 L2056.2,764.1 L2057.8,764.1 L2059.4,764.5 L2061.0,764.3 L2062.6,764.4 L2064.2,763.6 L2065.8,764.0 L2067.4,764.7 L2069.0,764.9 L2070.6,764.5 L2072.2,764.1 L2073.8,764.2 L2075.4,764.4 L2077.0,764.4 L2078.6,764.3 L2080.2,764.1 L2081.8,764.5 L2083.4,764.9 L2085.0,765.3 L2086.6,765.0 L2088.3,764.8 L2089.9,764.5 L2091.5,764.2 L2093.1,764.1 L2094.7,764.7 L2096.3,765.0 L2097.9,764.4 L2099.5,763.9 L2101.1,764.3 L2102.7,764.4 L2104.3,764.4 L2105.9,764.8 L2107.5,764.9 L2109.1,764.7 L2110.7,764.3 L2112.3,764.3 L2113.9,764.3 L2115.5,764.6 L2117.1,764.4 L2118.7,764.7 L2120.3,764.7 L2121.9,764.5 L2123.5,764.3 L2125.1,764.5 L2126.7,764.1 L2128.3,764.0 L2129.9,764.3 L2131.5,764.8 L2133.1,764.6 L2134.7,764.4 L2136.3,764.9 L2137.9,765.3 L2139.5,764.9 L2141.1,764.4 L2142.7,764.3 L2144.3,764.6 L2145.9,765.0 L2147.5,764.7 L2149.1,764.5 L2150.7,764.3 L2152.3,764.4 L2153.9,764.8 L2155.5,764.8 L2157.1,764.6 L2158.7,764.3 L2160.3,764.6 L2161.9,764.8 L2163.5,765.1 L2165.2,764.9 L2166.8,764.6 L2168.4,764.5 L2170.0,764.5 L2171.6,764.4 L2173.2,764.3 L2174.8,764.9 L2176.4,765.3 L2178.0,765.1 L2179.6,765.3 L2181.2,764.9 L2182.8,764.7 L2184.4,764.7 L2186.0,764.7 L2187.6,765.0 L2189.2,764.8 L2190.8,764.2 L2192.4,764.7 L2194.0,765.0 L2195.6,765.1 L2197.2,764.7 L2198.7,764.9 L2200.0,765.2 L2201.0,765.2" stroke="#00ff00"/>
<path d="M1210.0,566.0 L1211.2,565.1 L1212.4,563.9 L1213.6,562.6 L1214.7,561.3 L1215.7,560.3 L1216.7,559.1 L1217.6,557.6 L1218.4,556.4 L1219.2,555.0 L1220.0,553.8 L1220.8,552.3 L1221.5,550.8 L1222.3,549.5 L1223.2,548.1 L1224.1,546.7 L1225.0,545.3 L1225.9,543.9 L1226.7,542.7 L1227.3,541.3 L1227.8,539.9 L1228.2,538.3 L1228.5,536.5 L1229.0,535.0 L1229.7,533.6 L1230.4,532.2 L1231.3,531.0 L1232.2,529.7 L1233.2,528.2 L1234.1,526.9 L1235.0,525.3 L1235.9,523.9 L1236.6,522.6 L1237.2,521.3 L1237.8,519.8 L1238.4,518.2 L1239.0,516.6 L1239.5,515.2 L1240.1,513.8 L1240.6,512.4 L1241.1,510.9 L1241.6,509.2 L1242.2,507.7 L1242.7,506.3 L1243.2,504.6 L1243.8,502.9 L1244.3,501.5 L1244.8,499.9 L1245.3,498.4 L1245.8,496.9 L1246.3,495.6 L1246.7,494.2 L1247.2,492.6 L1247.7,491.1 L1248.1,489.6 L1248.6,488.3 L1249.0,486.6 L1249.4,484.8 L1249.9,483.2 L1250.3,481.7 L1250.7,480.1 L1251.1,478.5 L1251.5,477.0 L1251.9,475.6 L1252.3,474.0 L1252.7,472.4 L1253.1,470.9 L1253.5,469.2 L1253.8,467.6 L1254.2,466.2 L1254.6,464.8 L1254.9,463.2 L1255.3,461.7 L1255.6,460.2 L1256.0,458.4 L1256.3,456.7 L1256.6,455.1 L1257.0,453.5 L1257.3,452.0 L1257.6,450.5 L1257.9,449.0 L1258.2,447.3 L1258.5,445.5 L1258.8,444.1 L1259.1,442.6 L1259.4,441.1 L1259.7,439.5 L1260.0,437.9 L1260.3,436.4 L1260.5,434.8 L1260.8,433.3 L1261.0,431.6 L1261.3,430.0 L1261.5,428.6 L1261.7,427.1 L1261.9,425.4 L1262.1,423.8 L1262.4,422.3 L1262.5,420.6 L1262.7,418.9 L1262.9,417.2 L1263.1,415.7 L1263.3,414.1 L1263.5,412.4 L1263.6,410.7 L1263.8,409.3 L1263.9,407.8 L1264.1,406.2 L1264.2,404.5 L1264.4,402.9 L1264.5,401.4 L1264.7,399.9 L1264.8,398.2 L1264.9,396.4 L1265.0,395.0 L1265.1,393.4 L1265.2,392.0 L1265.3,390.2 L1265.4,388.6 L1265.5,387.1 L1265.7,385.5 L1265.8,383.9 L1265.9,382.2 L1266.0,380.5 L1266.1,378.9 L1266.2,377.3 L1266.3,375.6 L1266.5,374.1 L1266.6,372.6 L1266.7,371.1 L1266.9,369.5 L1267.0,368.0 L1267.2,366.4 L1267.3,364.7 L1267.5,363.1 L1267.6,361.5 L1267.8,359.9 L1267.9,358.3 L1268.1,356.7 L1268.2,355.0 L1268.3,353.5 L1268.5,351.8 L1268.6,350.0 L1268.8,348.7 L1268.9,347.1 L1269.1,345.6 L1269.2,343.9 L1269.4,342.3 L1269.5,340.7 L1269.6,339.0 L1269.8,337.3 L1269.9,335.8 L1270.1,334.4 L1270.2,332.8 L1270.4,331.3 L1270.6,329.6 L1270.7,328.0 L1270.9,326.5 L1271.0,324.8 L1271.2,323.1 L1271.3,321.5 L1271.5,319.8 L1271.6,318.1 L1271.8,316.6 L1272.0,315.1 L1272.1,313.5 L1272.3,311.9 L1272.6,310.3 L1272.8,308.7 L1273.1,307.1 L1273.4,305.7 L1273.9,304.3 L1274.6,302.7 L1275.4,301.2 L1276.4,299.9 L1277.6,298.7 L1278.6,298.9 L1279.5,300.5 L1280.1,302.3 L1280.5,303.8 L1280.9,305.4 L1281.2,307.0 L1281.5,308.5 L1281.7,309.9 L1282.0,311.5 L1282.2,313.3 L1282.3,314.9 L1282.5,316.3 L1282.7,318.0 L1282.8,319.8 L1282.9,321.4 L1283.0,323.1 L1283.2,324.6 L1283.3,326.1 L1283.4,327.6 L1283.5,329.0 L1283.6,330.5 L1283.8,332.1 L1283.9,334.0 L1284.1,335.7 L1284.2,337.3 L1284.4,338.9 L1284.5,340.4 L1284.7,342.2 L1284.9,343.8 L1285.0,345.4 L1285.2,346.8 L1285.4,348.6 L1285.5,350.2 L1285.7,351.6 L1285.8,353.1 L1286.0,354.8 L1286.2,356.4 L1286.3,357.9 L1286.5,359.4 L1286.6,360.9 L1286.7,362.6 L1286.9,364.4 L1287.0,366.1 L1287.1,367.7 L1287.3,369.2 L1287.4,370.6 L1287.5,372.2 L1287.6,373.9 L1287.8,375.6 L1287.9,377.3 L1288.0,378.7 L1288.1,380.2 L1288.3,381.9 L1288.4,383.5 L1288.5,385.1 L1288.6,386.5 L1288.8,388.0 L1288.9,389.7 L1289.1,391.5 L1289.2,393.0 L1289.4,394.6 L1289.5,396.4 L1289.7,397.9 L1289.8,399.4 L1290.0,401.0 L1290.1,402.6 L1290.3,404.3 L1290.5,405.9 L1290.6,407.5 L1290.8,409.1 L1291.0,410.5 L1291.1,412.1 L1291.3,413.8 L1291.4,415.4 L1291.6,417.1 L1291.8,418.7 L1291.9,420.4 L1292.1,421.8 L1292.2,423.2 L1292.4,424.9 L1292.6,426.8 L1292.7,428.5 L1292.9,430.0 L1293.1,431.5 L1293.2,433.0 L1293.4,434.3 L1293.6,435.9 L1293.7,437.6 L1293.9,439.4 L1294.0,441.2 L1294.2,442.7 L1294.3,444.3 L1294.4,445.8 L1294.6,447.4 L1294.7,449.2 L1294.8,451.0 L1294.9,452.4 L1295.0,453.9 L1295.1,455.4 L1295.2,456.7 L1295.3,458.0 L1295.4,459.9 L1295.5,461.3 L1295.6,462.9 L1295.7,464.6 L1295.8,466.4 L1295.9,468.1 L1296.0,470.0 L1296.1,471.8 L1296.2,472.9 L1296.3,474.3 L1296.4,476.4 L1296.5,478.0 L1296.7,479.6 L1296.8,481.1 L1296.9,482.6 L1297.0,484.2 L1297.1,485.5 L1297.2,487.4 L1297.3,489.0 L1297.4,490.2 L1297.5,491.7 L1297.6,493.5 L1297.7,495.1 L1297.8,496.7 L1297.9,498.6 L1298.0,500.1 L1298.1,501.3 L1298.2,502.2 L1298.3,504.0 L1298.3,506.0 L1298.4,507.7 L1298.5,509.5 L1298.5,511.0 L1298.6,512.4 L1298.7,514.1 L1298.8,515.6 L1298.8,517.0 L1298.9,518.9 L1299.0,521.2 L1299.0,523.1 L1299.1,524.9 L1299.2,526.3 L1299.3,527.5 L1299.4,529.0 L1299.5,531.1 L1299.6,532.5 L1299.7,534.0 L1299.8,534.9 L1299.9,536.0 L1300.0,537.6 L1300.2,539.5 L1300.3,541.0 L1300.4,543.1 L1300.5,544.3 L1300.7,546.0 L1300.8,548.2 L1301.0,549.4 L1301.1,551.4 L1301.3,554.1 L1301.5,555.2 L1301.6,556.1 L1301.8,557.4 L1302.0,559.6 L1302.2,560.9 L1302.5,561.4 L1302.7,563.6 L1303.0,565.7 L1303.2,567.1 L1303.5,568.1 L1303.7,570.4 L1304.0,572.9 L1304.3,574.1 L1304.6,574.7 L1304.9,576.1 L1305.2,577.5 L1305.5,579.1 L1305.8,580.1 L1306.1,582.9 L1306.4,585.0 L1306.8,586.6 L1307.1,587.5 L1307.5,589.0 L1307.8,590.4 L1308.2,592.4 L1308.6,594.1 L1309.0,596.1 L1309.5,596.9 L1309.9,597.6 L1310.4,600.0 L1310.8,602.2 L1311.3,604.1 L1311.9,605.3 L1312.5,605.9 L1313.1,607.4 L1313.8,609.2 L1314.7,610.1 L1315.6,611.4 L1316.7,612.6 L1317.9,614.5 L1319.1,615.9 L1320.4,616.4 L1321.7,616.8 L1323.1,617.6 L1324.6,618.4 L1326.0,618.9 L1327.6,619.2 L1329.1,618.7 L1330.7,618.7 L1332.3,619.4 L1333.8,620.2 L1335.3,620.2 L1336.8,621.1 L1338.3,621.8 L1339.8,621.5 L1341.3,621.5 L1342.7,622.3 L1344.2,623.6 L1345.8,623.9 L1347.3,623.5 L1348.9,622.9 L1350.4,622.6 L1352.0,622.1 L1353.5,622.6 L1355.1,623.1 L1356.6,623.8 L1358.1,624.8 L1359.7,624.4 L1361.3,624.3 L1362.9,624.9 L1364.5,624.8 L1366.1,623.6 L1367.7,623.1 L1369.3,623.3 L1370.8,623.4 L1372.4,622.9 L1374.0,623.5 L1375.6,623.7 L1377.1,622.7 L1378.7,622.3 L1380.3,622.4 L1381.8,621.1 L1383.4,621.0 L1384.9,620.2 L1386.4,618.8 L1387.9,618.8 L1389.4,618.7 L1390.9,617.3 L1392.3,616.0 L1393.8,616.2 L1395.3,616.6 L1396.7,615.3 L1398.2,614.7 L1399.7,613.3 L1401.2,612.3 L1402.7,611.4 L1404.2,611.0 L1405.7,610.8 L1407.2,610.3 L1408.7,609.8 L1410.2,610.0 L1411.8,610.2 L1413.4,610.2 L1415.0,610.4 L1416.6,610.9 L1418.1,612.0 L1419.5,613.3 L1420.8,613.6 L1421.9,614.4 L1423.0,615.3 L1424.0,616.9 L1425.0,619.0 L1426.1,619.8 L1427.3,620.9 L1428.6,621.6 L1430.0,621.7 L1431.5,622.3 L1433.0,622.3 L1434.6,622.0 L1436.2,621.4 L1437.8,621.3 L1439.4,620.6 L1441.1,620.9 L1442.6,620.7 L1444.2,620.1 L1445.7,619.6 L1447.2,618.3 L1448.6,617.5 L1450.1,616.8 L1451.5,616.8 L1453.0,616.7 L1454.6,617.0 L1456.2,616.6 L1457.8,617.0 L1459.4,617.2 L1460.9,617.8 L1462.4,618.7 L1463.8,619.9 L1465.0,620.5 L1466.2,620.8 L1467.3,622.2 L1468.4,623.1 L1469.5,624.4 L1470.6,625.5 L1471.7,627.3 L1472.8,628.6 L1474.0,629.3 L1475.2,629.8 L1476.4,630.5 L1477.6,631.8 L1478.8,633.4 L1480.1,635.0 L1481.4,636.3 L1482.7,637.1 L1484.1,637.3 L1485.5,638.2 L1486.9,639.3 L1488.4,639.8 L1489.9,639.7 L1491.4,640.0 L1492.9,641.2 L1494.4,641.1 L1496.0,641.0 L1497.5,642.1 L1499.1,642.8 L1500.7,643.0 L1502.3,643.1 L1503.8,643.1 L1505.4,643.8 L1507.0,643.3 L1508.6,642.7 L1510.2,643.0 L1511.8,642.9 L1513.4,643.9 L1515.0,644.2 L1516.6,644.8 L1518.2,645.2 L1519.8,645.3 L1521.4,646.0 L1523.0,645.4 L1524.6,645.2 L1526.2,645.0 L1527.8,644.7 L1529.4,644.7 L1531.0,645.3 L1532.6,645.5 L1534.2,645.5 L1535.8,644.6 L1537.4,644.3 L1539.0,644.6 L1540.6,644.9 L1542.2,644.8 L1543.8,644.4 L1545.4,645.1 L1547.0,645.8 L1548.6,646.0 L1550.2,645.8 L1551.8,646.0 L1553.4,646.5 L1555.0,646.5 L1556.6,646.1 L1558.2,645.9 L1559.8,646.1 L1561.4,646.4 L1563.0,646.5 L1564.6,647.0 L1566.2,647.5 L1567.8,647.0 L1569.4,646.7 L1571.0,647.3 L1572.6,648.0 L1574.2,647.3 L1575.8,646.6 L1577.4,647.2 L1579.0,647.3 L1580.6,647.1 L1582.2,646.5 L1583.8,646.7 L1585.4,647.1 L1587.0,647.6 L1588.6,647.2 L1590.2,647.1 L1591.8,647.3 L1593.4,648.0 L1595.0,647.9 L1596.6,648.0 L1598.2,647.9 L1599.8,647.8 L1601.4,647.5 L1603.0,647.7 L1604.6,647.4 L1606.2,647.5 L1607.8,648.0 L1609.4,647.7 L1611.0,648.1 L1612.6,648.3 L1614.2,648.2 L1615.8,648.2 L1617.4,648.3 L1619.0,648.1 L1620.6,648.8 L1622.3,649.0 L1623.9,648.6 L1625.5,648.3 L1627.1,647.8 L1628.7,647.7 L1630.3,647.7 L1631.9,648.1 L1633.5,648.2 L1635.1,647.5 L1636.7,648.0 L1638.3,648.2 L1639.9,648.3 L1641.5,648.2 L1643.1,648.0 L1644.7,648.0 L1646.3,648.3 L1647.9,648.6 L1649.5,648.6 L1651.1,649.2 L1652.7,649.4 L1654.3,649.1 L1655.9,649.3 L1657.5,649.5 L1659.1,648.8 L1660.7,648.8 L1662.3,649.4 L1663.9,649.4 L1665.5,649.0 L1667.1,649.0 L1668.7,649.6 L1670.3,649.9 L1671.9,649.3 L1673.5,649.2 L1675.1,649.8 L1676.7,649.8 L1678.3,649.1 L1679.9,649.1 L1681.5,649.5 L1683.1,649.9 L1684.7,649.8 L1686.3,649.3 L1687.9,649.1 L1689.5,650.0 L1691.1,649.8 L1692.7,650.3 L1694.3,650.6 L1695.9,650.4 L1697.5,650.2 L1699.1,649.7 L1700.7,649.4 L1702.3,649.5 L1703.9,649.6 L1705.5,650.0 L1707.1,650.3 L1708.7,651.2 L1710.3,651.3 L1711.9,650.0 L1713.5,650.0 L1715.1,650.6 L1716.7,650.5 L1718.3,650.3 L1719.9,650.3 L1721.5,650.4 L1723.1,650.2 L1724.7,650.5 L1726.3,650.9 L1727.9,651.1 L1729.5,651.2 L1731.1,650.9 L1732.7,650.7 L1734.3,650.2 L1735.9,650.4 L1737.5,650.5 L1739.1,651.2 L1740.7,651.4 L1742.3,651.0 L1743.9,651.0 L1745.6,651.2 L1747.2,651.4 L1748.8,651.5 L1750.4,651.7 L1752.0,651.6 L1753.6,651.8 L1755.2,651.6 L1756.8,651.2 L1758.4,651.2 L1760.0,651.6 L1761.6,651.5 L1763.2,651.3 L1764.8,651.6 L1766.4,651.9 L1768.0,652.3 L1769.6,651.9 L1771.2,651.5 L1772.8,651.3 L1774.4,652.0 L1776.0,652.1 L1777.6,651.9 L1779.2,652.0 L1780.8,652.2 L1782.4,652.4 L1784.0,652.4 L1785.6,652.4 L1787.2,652.4 L1788.8,652.0 L1790.4,652.2 L1792.0,652.3 L1793.6,652.2 L1795.2,652.4 L1796.8,652.6 L1798.4,652.4 L1800.0,652.2 L1801.6,652.6 L1803.2,653.0 L1804.8,653.1 L1806.4,653.2 L1808.0,653.3 L1809.6,652.8 L1811.2,652.3 L1812.8,652.5 L1814.4,652.6 L1816.0,653.0 L1817.6,653.3 L1819.2,653.2 L1820.8,653.4 L1822.4,653.2 L1824.0,653.3 L1825.6,653.2 L1827.2,653.0 L1828.8,653.1 L1830.4,653.5 L1832.0,653.8 L1833.6,653.6 L1835.2,653.6 L1836.8,653.8 L1838.4,653.7 L1840.0,653.7 L1841.6,653.6 L1843.2,653.4 L1844.8,653.3 L1846.4,653.7 L1848.0,653.6 L1849.6,653.5 L1851.2,653.8 L1852.8,653.7 L1854.4,653.4 L1856.0,653.5 L1857.6,653.7 L1859.2,653.9 L1860.8,654.0 L1862.4,653.8 L1864.0,653.8 L1865.6,654.2 L1867.2,654.5 L1868.9,654.6 L1870.5,655.3 L1872.1,655.5 L1873.7,655.0 L1875.3,654.8 L1876.9,654.8 L1878.5,654.7 L1880.1,654.6 L1881.7,654.7 L1883.3,654.5 L1884.9,654.3 L1886.5,654.7 L1888.1,654.4 L1889.7,654.3 L1891.3,654.5 L1892.9,654.4 L1894.5,654.5 L1896.1,654.5 L1897.7,654.4 L1899.3,654.7 L1900.9,655.0 L1902.5,655.0 L1904.1,655.4 L1905.7,655.4 L1907.3,655.1 L1908.9,655.1 L1910.5,655.1 L1912.1,655.1 L1913.7,654.9 L1915.3,654.8 L1916.9,655.4 L1918.5,655.5 L1920.1,655.3 L1921.7,655.0 L1923.3,655.0 L1924.9,655.2 L1926.5,655.2 L1928.1,655.0 L1929.7,655.2 L1931.3,655.4 L1932.9,655.3 L1934.5,655.4 L1936.1,655.5 L1937.7,655.8 L1939.3,655.6 L1940.9,655.5 L1942.5,655.5 L1944.1,655.3 L1945.7,655.2 L1947.3,655.4 L1948.9,655.2 L1950.5,655.3 L1952.1,655.8 L1953.7,656.0 L1955.3,656.1 L1956.9,656.0 L1958.5,655.9 L1960.1,656.0 L1961.7,655.7 L1963.3,655.6 L1964.9,655.9 L1966.5,655.7 L1968.1,655.7 L1969.7,655.5 L1971.3,655.5 L1973.0,655.6 L1974.6,655.7 L1976.2,656.0 L1977.8,656.3 L1979.4,656.3 L1981.0,656.3 L1982.6,656.1 L1984.2,656.0 L1985.8,655.9 L1987.4,656.0 L1989.0,656.2 L1990.6,656.3 L1992.2,656.4 L1993.8,656.4 L1995.4,656.3 L1997.0,656.0 L1998.6,656.1 L2000.2,656.5 L2001.8,656.3 L2003.4,655.7 L2005.0,656.2 L2006.6,656.6 L2008.2,656.5 L2009.8,656.6 L2011.4,656.6 L2013.0,656.5 L2014.6,656.5 L2016.2,656.6 L2017.8,656.7 L2019.4,656.8 L2021.0,656.8 L2022.6,656.9 L2024.2,656.6 L2025.8,656.4 L2027.4,656.7 L2029.0,656.8 L2030.6,656.8 L2032.2,657.2 L2033.8,657.2 L2035.4,657.2 L2037.0,657.1 L2038.6,657.1 L2040.2,657.2 L2041.8,657.2 L2043.4,656.9 L2045.0,656.9 L2046.6,657.5 L2048.2,657.5 L2049.8,657.8 L2051.4,657.3 L2053.0,656.9 L2054.6,657.2 L2056.2,657.3 L2057.8,657.1 L2059.4,656.9 L2061.0,657.1 L2062.6,656.9 L2064.2,657.0 L2065.8,657.4 L2067.4,657.4 L2069.1,656.9 L2070.7,657.1 L2072.3,657.0 L2073.9,656.9 L2075.5,657.1 L2077.1,657.2 L2078.7,657.3 L2080.3,657.5 L2081.9,657.5 L2083.5,657.6 L2085.1,657.5 L2086.7,657.1 L2088.3,657.0 L2089.9,656.7 L2091.5,656.9 L2093.1,656.9 L2094.7,657.1 L2096.3,657.3 L2097.9,657.5 L2099.5,657.6 L2101.1,658.1 L2102.7,657.7 L2104.3,657.4 L2105.9,658.0 L2107.5,657.8 L2109.1,657.7 L2110.7,657.9 L2112.3,657.7 L2113.9,658.0 L2115.5,658.1 L2117.1,657.9 L2118.7,657.5 L2120.3,657.3 L2121.9,657.6 L2123.5,657.9 L2125.1,658.0 L2126.7,658.2 L2128.3,658.5 L2129.9,658.2 L2131.5,657.8 L2133.1,657.8 L2134.7,658.3 L2136.3,658.5 L2137.9,658.1 L2139.5,657.8 L2141.1,657.7 L2142.7,657.9 L2144.3,657.6 L2145.9,657.8 L2147.5,658.3 L2149.1,658.2 L2150.7,658.2 L2152.3,658.5 L2153.9,658.5 L2155.5,658.3 L2157.1,658.3 L2158.8,657.7 L2160.4,657.8 L2162.0,658.1 L2163.6,658.0 L2165.2,658.1 L2166.8,658.1 L2168.4,658.2 L2170.0,658.2 L2171.6,658.4 L2173.2,658.5 L2174.8,658.5 L2176.4,658.0 L2178.0,657.8 L2179.6,658.2 L2181.2,658.5 L2182.8,658.6 L2184.4,658.5 L2186.0,658.2 L2187.6,658.3 L2189.2,658.2 L2190.8,658.3 L2192.4,658.7 L2194.0,658.7 L2195.6,658.5 L2197.2,658.5 L2198.7,658.7 L2200.0,658.4 L2201.0,658.3" stroke="#008000"/>
<path d="M1210.0,424.8 L1210.6,423.1 L1211.3,421.5 L1212.0,420.0 L1212.6,418.4 L1213.3,417.0 L1214.0,415.5 L1214.6,414.0 L1215.3,412.8 L1216.0,411.4 L1216.7,409.8 L1217.5,408.4 L1218.2,407.1 L1218.9,405.6 L1219.6,404.1 L1220.4,402.6 L1221.1,401.3 L1221.8,399.9 L1222.5,398.5 L1223.3,397.0 L1224.0,395.9 L1224.8,394.4 L1225.5,393.0 L1226.2,391.7 L1226.9,390.0 L1227.6,388.3 L1228.2,386.8 L1228.8,385.2 L1229.4,384.0 L1230.0,382.5 L1230.6,381.0 L1231.2,379.5 L1231.7,377.9 L1232.3,376.5 L1232.8,374.8 L1233.3,373.4 L1233.8,371.9 L1234.3,370.7 L1234.8,369.2 L1235.3,367.5 L1235.8,366.0 L1236.3,364.5 L1236.7,362.9 L1237.2,361.2 L1237.7,359.5 L1238.1,358.0 L1238.5,356.7 L1238.9,355.3 L1239.4,353.6 L1239.8,351.9 L1240.2,350.5 L1240.6,348.9 L1241.0,347.3 L1241.3,345.7 L1241.7,344.1 L1242.0,342.5 L1242.3,340.9 L1242.6,339.6 L1242.9,338.1 L1243.2,336.5 L1243.5,334.7 L1243.8,333.0 L1244.1,331.7 L1244.4,330.3 L1244.6,328.6 L1244.9,326.9 L1245.1,325.3 L1245.4,323.6 L1245.6,322.0 L1245.9,320.4 L1246.1,319.1 L1246.3,317.4 L1246.5,315.9 L1246.7,314.4 L1247.0,312.8 L1247.2,311.0 L1247.4,309.4 L1247.6,307.8 L1247.8,306.1 L1248.0,304.4 L1248.2,303.1 L1248.5,301.6 L1248.7,300.0 L1249.0,298.3 L1249.3,296.7 L1249.6,295.1 L1249.9,293.5 L1250.2,292.1 L1250.5,290.5 L1250.8,288.9 L1251.1,287.3 L1251.4,285.7 L1251.7,284.1 L1252.0,282.5 L1252.2,280.9 L1252.5,279.4 L1252.7,278.1 L1252.9,276.4 L1253.1,274.6 L1253.3,272.9 L1253.5,271.3 L1253.7,269.8 L1253.8,268.2 L1254.0,266.5 L1254.2,265.1 L1254.3,263.5 L1254.5,262.1 L1254.6,260.5 L1254.8,259.0 L1254.9,257.3 L1255.1,255.6 L1255.2,254.1 L1255.4,252.6 L1255.6,250.9 L1255.7,249.1 L1255.9,247.5 L1256.0,245.9 L1256.2,244.2 L1256.4,242.6 L1256.5,241.2 L1256.7,239.4 L1256.8,237.7 L1257.0,236.2 L1257.1,234.6 L1257.3,233.0 L1257.4,231.5 L1257.6,229.9 L1257.8,228.3 L1257.9,226.7 L1258.1,225.1 L1258.3,223.4 L1258.4,221.9 L1258.6,220.3 L1258.8,218.8 L1258.9,217.0 L1259.1,215.3 L1259.3,213.8 L1259.4,212.1 L1259.6,210.5 L1259.8,209.2 L1260.0,207.6 L1260.2,206.1 L1260.4,204.4 L1260.6,202.7 L1260.8,201.1 L1261.1,199.6 L1261.3,197.9 L1261.6,196.3 L1261.9,194.7 L1262.3,193.2 L1262.9,191.9 L1264.2,190.3 L1265.4,189.7 L1266.0,190.4 L1266.4,191.8 L1266.8,193.6 L1267.1,195.4 L1267.4,197.4 L1267.7,199.1 L1267.9,200.5 L1268.2,201.9 L1268.4,203.7 L1268.6,205.4 L1268.8,206.8 L1268.9,208.5 L1269.1,210.2 L1269.3,211.7 L1269.4,213.4 L1269.6,214.9 L1269.8,216.5 L1269.9,218.2 L1270.1,219.9 L1270.3,221.6 L1270.4,223.2 L1270.6,224.7 L1270.7,226.3 L1270.9,228.0 L1271.0,229.6 L1271.2,231.0 L1271.3,232.6 L1271.4,234.1 L1271.6,235.6 L1271.7,237.3 L1271.9,239.0 L1272.0,240.5 L1272.2,241.9 L1272.3,243.6 L1272.4,245.4 L1272.6,247.1 L1272.7,248.7 L1272.9,250.3 L1273.1,251.8 L1273.2,253.4 L1273.4,254.8 L1273.5,256.3 L1273.7,258.2 L1273.9,259.6 L1274.0,261.4 L1274.2,263.0 L1274.3,264.5 L1274.5,265.9 L1274.6,267.6 L1274.8,269.0 L1274.9,270.6 L1275.1,272.3 L1275.2,274.1 L1275.4,275.7 L1275.5,277.3 L1275.6,278.9 L1275.8,280.5 L1275.9,282.0 L1276.0,283.6 L1276.1,285.3 L1276.3,286.9 L1276.4,288.5 L1276.5,290.0 L1276.6,291.6 L1276.7,293.3 L1276.8,294.9 L1276.9,296.5 L1277.1,298.2 L1277.2,299.9 L1277.3,301.3 L1277.4,302.8 L1277.5,304.4 L1277.6,306.0 L1277.7,307.7 L1277.8,309.1 L1277.9,310.8 L1278.0,312.5 L1278.1,314.0 L1278.2,315.6 L1278.3,317.3 L1278.5,318.8 L1278.6,320.3 L1278.7,322.0 L1278.8,323.5 L1278.9,325.0 L1279.0,326.6 L1279.1,328.3 L1279.2,329.9 L1279.3,331.4 L1279.4,333.2 L1279.5,334.8 L1279.6,336.4 L1279.7,337.9 L1279.8,339.6 L1279.9,341.1 L1280.0,342.6 L1280.1,344.1 L1280.2,345.7 L1280.3,347.4 L1280.4,349.0 L1280.6,350.7 L1280.7,352.4 L1280.8,354.1 L1280.9,355.6 L1281.0,357.1 L1281.1,358.9 L1281.2,360.6 L1281.3,362.3 L1281.4,363.8 L1281.5,365.1 L1281.6,366.8 L1281.7,368.6 L1281.8,370.0 L1281.9,371.4 L1282.0,373.1 L1282.1,374.7 L1282.2,376.4 L1282.4,378.0 L1282.5,379.8 L1282.6,381.2 L1282.7,382.6 L1282.8,384.4 L1282.9,386.1 L1283.0,387.5 L1283.1,389.0 L1283.2,390.4 L1283.3,392.3 L1283.4,393.6 L1283.5,394.8 L1283.6,396.5 L1283.7,398.6 L1283.8,400.5 L1283.9,402.0 L1284.0,403.6 L1284.2,404.9 L1284.3,406.5 L1284.4,408.6 L1284.5,410.3 L1284.6,411.9 L1284.7,413.6 L1284.8,414.7 L1284.9,416.2 L1285.0,418.2 L1285.1,419.9 L1285.1,421.3 L1285.2,423.1 L1285.3,424.4 L1285.4,426.0 L1285.6,427.3 L1285.7,428.6 L1285.8,430.7 L1285.9,432.7 L1286.0,434.1 L1286.1,435.9 L1286.3,437.8 L1286.4,438.6 L1286.6,439.8 L1286.7,441.6 L1286.9,443.4 L1287.1,445.8 L1287.3,447.2 L1287.5,448.3 L1287.7,450.3 L1287.9,452.9 L1288.1,453.6 L1288.3,454.8 L1288.5,456.9 L1288.7,458.6 L1288.9,459.7 L1289.2,460.6 L1289.4,462.1 L1289.7,464.3 L1289.9,465.7 L1290.2,466.9 L1290.4,469.5 L1290.7,471.3 L1291.0,472.4 L1291.3,473.8 L1291.6,475.4 L1291.9,476.5 L1292.3,477.8 L1292.6,479.6 L1293.0,480.9 L1293.4,482.7 L1293.8,484.0 L1294.3,486.0 L1294.7,488.2 L1295.2,490.2 L1295.8,490.7 L1296.3,491.6 L1296.9,493.2 L1297.6,494.5 L1298.3,496.1 L1299.0,498.0 L1299.9,499.7 L1300.7,501.1 L1301.7,501.9 L1302.6,504.2 L1303.6,505.4 L1304.7,505.4 L1305.8,505.8 L1307.0,507.6 L1308.2,508.7 L1309.5,508.9 L1310.9,510.3 L1312.4,511.1 L1313.9,511.4 L1315.5,512.3 L1317.1,512.5 L1318.7,512.0 L1320.3,512.1 L1321.9,512.0 L1323.5,512.5 L1325.0,513.5 L1326.5,514.4 L1327.9,514.5 L1329.4,514.7 L1330.9,516.0 L1332.4,516.5 L1333.9,517.7 L1335.4,518.8 L1337.0,518.1 L1338.6,517.1 L1340.2,516.9 L1341.8,517.5 L1343.4,517.4 L1345.0,517.5 L1346.6,517.7 L1348.1,517.5 L1349.7,517.5 L1351.2,517.4 L1352.8,517.2 L1354.3,518.3 L1355.9,519.6 L1357.4,520.2 L1359.0,520.6 L1360.6,520.6 L1362.2,520.7 L1363.7,520.7 L1365.3,519.9 L1366.9,519.4 L1368.5,518.9 L1370.1,519.3 L1371.7,519.0 L1373.3,518.9 L1374.8,519.0 L1376.4,518.5 L1378.0,517.7 L1379.5,517.1 L1381.1,516.1 L1382.7,516.2 L1384.2,515.7 L1385.8,515.1 L1387.4,515.7 L1389.0,515.3 L1390.6,515.5 L1392.2,515.5 L1393.8,516.0 L1395.4,515.9 L1397.0,514.6 L1398.5,513.7 L1400.0,513.8 L1401.4,513.6 L1402.8,512.7 L1404.1,512.6 L1405.4,513.2 L1406.7,513.3 L1408.0,514.8 L1409.4,516.1 L1410.8,517.4 L1412.3,517.8 L1413.8,518.1 L1415.4,518.5 L1416.9,518.6 L1418.5,519.0 L1420.1,519.0 L1421.6,519.0 L1423.2,519.1 L1424.8,519.6 L1426.5,519.6 L1428.1,519.7 L1429.6,519.3 L1431.2,518.6 L1432.8,518.4 L1434.3,517.9 L1435.8,517.4 L1437.4,516.8 L1439.0,516.7 L1440.6,517.3 L1442.3,517.6 L1444.0,516.8 L1445.7,517.0 L1447.3,517.2 L1448.9,517.6 L1450.5,517.8 L1452.0,517.5 L1453.4,516.4 L1454.6,517.2 L1455.8,518.2 L1456.9,519.5 L1458.0,520.6 L1459.2,521.9 L1460.3,523.8 L1461.5,524.8 L1462.8,524.3 L1464.1,525.6 L1465.4,527.1 L1466.8,527.8 L1468.2,528.4 L1469.5,528.9 L1470.9,530.0 L1472.3,531.8 L1473.8,533.1 L1475.2,533.5 L1476.7,533.8 L1478.1,534.5 L1479.6,534.9 L1481.2,535.5 L1482.7,535.8 L1484.3,535.9 L1485.9,536.1 L1487.5,536.0 L1489.1,536.7 L1490.7,536.9 L1492.3,536.4 L1493.9,536.7 L1495.5,536.7 L1497.1,537.3 L1498.7,537.4 L1500.3,537.1 L1501.9,537.5 L1503.5,537.2 L1505.1,537.0 L1506.7,537.0 L1508.3,537.1 L1509.9,537.2 L1511.5,537.3 L1513.1,537.3 L1514.7,537.8 L1516.3,537.9 L1517.9,537.2 L1519.5,537.1 L1521.0,538.3 L1522.6,539.0 L1524.2,538.7 L1525.8,538.6 L1527.4,539.4 L1529.0,539.7 L1530.6,538.8 L1532.2,539.2 L1533.8,539.0 L1535.4,538.7 L1537.0,538.8 L1538.6,538.5 L1540.2,539.4 L1541.8,540.2 L1543.4,539.9 L1545.0,539.2 L1546.6,538.5 L1548.2,538.3 L1549.8,538.7 L1551.4,539.9 L1553.1,539.5 L1554.7,538.6 L1556.3,538.0 L1557.9,537.9 L1559.5,538.1 L1561.1,538.4 L1562.7,539.5 L1564.3,539.2 L1565.9,539.2 L1567.5,540.0 L1569.1,540.8 L1570.7,540.7 L1572.3,540.1 L1573.9,540.1 L1575.5,540.2 L1577.1,540.2 L1578.7,540.0 L1580.3,539.5 L1581.9,539.5 L1583.5,540.1 L1585.1,540.4 L1586.7,541.4 L1588.3,541.3 L1589.9,540.9 L1591.5,541.1 L1593.1,541.0 L1594.7,541.2 L1596.3,541.2 L1597.9,540.2 L1599.5,539.8 L1601.1,540.5 L1602.7,540.6 L1604.3,540.8 L1605.9,541.0 L1607.5,540.9 L1609.1,541.0 L1610.7,540.6 L1612.3,540.7 L1613.9,540.6 L1615.5,540.7 L1617.1,541.4 L1618.7,541.4 L1620.3,540.5 L1621.9,540.5 L1623.5,541.1 L1625.1,541.2 L1626.7,540.8 L1628.3,540.7 L1629.9,540.9 L1631.5,542.1 L1633.2,542.0 L1634.8,542.1 L1636.4,542.1 L1638.0,542.2 L1639.6,542.0 L1641.2,541.8 L1642.8,542.0 L1644.4,542.1 L1646.0,542.2 L1647.6,541.8 L1649.2,541.9 L1650.8,542.6 L1652.4,542.8 L1654.0,542.3 L1655.6,541.8 L1657.2,541.8 L1658.8,541.9 L1660.4,542.6 L1662.0,542.6 L1663.6,542.5 L1665.2,542.2 L1666.8,542.1 L1668.4,542.7 L1670.0,543.0 L1671.6,542.7 L1673.2,542.4 L1674.8,542.5 L1676.4,542.2 L1678.0,542.3 L1679.6,542.0 L1681.2,541.9 L1682.8,542.4 L1684.4,542.7 L1686.0,543.0 L1687.6,542.5 L1689.2,542.3 L1690.8,542.1 L1692.4,541.9 L1694.0,542.2 L1695.6,542.9 L1697.2,542.9 L1698.8,543.5 L1700.4,543.7 L1702.0,543.3 L1703.6,543.6 L1705.2,543.5 L1706.8,543.5 L1708.5,543.4 L1710.1,543.5 L1711.7,543.3 L1713.3,543.4 L1714.9,543.3 L1716.5,543.3 L1718.1,543.4 L1719.7,543.4 L1721.3,543.5 L1722.9,543.8 L1724.5,543.9 L1726.1,543.6 L1727.7,544.0 L1729.3,544.0 L1730.9,543.8 L1732.5,543.9 L1734.1,543.8 L1735.7,544.2 L1737.3,544.0 L1738.9,544.0 L1740.5,544.2 L1742.1,544.0 L1743.7,543.9 L1745.3,543.6 L1746.9,543.5 L1748.5,543.5 L1750.1,544.0 L1751.7,544.5 L1753.3,544.6 L1754.9,544.6 L1756.5,544.3 L1758.1,544.4 L1759.7,544.6 L1761.3,545.0 L1762.9,545.0 L1764.5,544.9 L1766.1,545.0 L1767.7,544.8 L1769.3,544.9 L1770.9,545.1 L1772.5,544.9 L1774.1,545.0 L1775.7,545.3 L1777.3,545.2 L1778.9,545.1 L1780.6,545.0 L1782.2,545.1 L1783.8,544.3 L1785.4,544.3 L1787.0,544.8 L1788.6,545.6 L1790.2,545.6 L1791.8,545.4 L1793.4,545.2 L1795.0,545.4 L1796.6,545.4 L1798.2,545.2 L1799.8,544.9 L1801.4,545.1 L1803.0,545.4 L1804.6,545.4 L1806.2,545.2 L1807.8,545.0 L1809.4,544.8 L1811.0,545.2 L1812.6,545.3 L1814.2,545.6 L1815.8,545.8 L1817.4,545.6 L1819.0,545.6 L1820.6,546.1 L1822.2,546.1 L1823.8,545.8 L1825.4,545.5 L1827.0,546.1 L1828.6,546.4 L1830.2,546.3 L1831.8,545.9 L1833.4,545.7 L1835.0,545.8 L1836.6,545.9 L1838.2,545.6 L1839.8,545.7 L1841.4,545.8 L1843.0,546.1 L1844.6,546.1 L1846.2,546.3 L1847.8,546.1 L1849.5,546.1 L1851.1,546.2 L1852.7,546.2 L1854.3,545.8 L1855.9,546.2 L1857.5,546.4 L1859.1,546.5 L1860.7,546.8 L1862.3,546.9 L1863.9,546.9 L1865.5,546.5 L1867.1,546.4 L1868.7,546.9 L1870.3,547.1 L1871.9,546.8 L1873.5,546.7 L1875.1,546.4 L1876.7,546.3 L1878.3,546.7 L1879.9,547.0 L1881.5,546.4 L1883.1,546.3 L1884.7,546.2 L1886.3,546.5 L1887.9,546.6 L1889.5,546.3 L1891.1,546.5 L1892.7,546.9 L1894.3,546.8 L1895.9,546.5 L1897.5,546.4 L1899.1,546.4 L1900.7,546.8 L1902.3,546.7 L1903.9,546.9 L1905.5,546.8 L1907.1,546.5 L1908.7,546.6 L1910.3,547.0 L1911.9,547.1 L1913.5,546.9 L1915.1,546.6 L1916.7,546.8 L1918.4,546.5 L1920.0,546.3 L1921.6,546.8 L1923.2,547.4 L1924.8,547.8 L1926.4,547.3 L1928.0,547.2 L1929.6,547.8 L1931.2,547.5 L1932.8,547.2 L1934.4,547.0 L1936.0,547.3 L1937.6,547.8 L1939.2,547.7 L1940.8,547.4 L1942.4,547.6 L1944.0,547.8 L1945.6,547.6 L1947.2,547.8 L1948.8,547.9 L1950.4,547.9 L1952.0,547.8 L1953.6,548.0 L1955.2,548.2 L1956.8,547.7 L1958.4,547.4 L1960.0,547.4 L1961.6,547.7 L1963.2,547.8 L1964.8,547.9 L1966.4,547.8 L1968.0,547.7 L1969.6,548.0 L1971.2,548.0 L1972.8,547.9 L1974.4,548.0 L1976.0,548.1 L1977.6,547.8 L1979.2,547.6 L1980.8,547.8 L1982.4,547.5 L1984.1,547.4 L1985.7,547.5 L1987.3,547.8 L1988.9,547.7 L1990.5,547.8 L1992.1,548.0 L1993.7,548.1 L1995.3,548.2 L1996.9,548.0 L1998.5,547.8 L2000.1,547.7 L2001.7,547.7 L2003.3,548.0 L2004.9,548.0 L2006.5,548.0 L2008.1,548.2 L2009.7,548.1 L2011.3,547.9 L2012.9,547.8 L2014.5,548.3 L2016.1,548.5 L2017.7,548.4 L2019.3,548.3 L2020.9,548.2 L2022.5,548.4 L2024.1,548.5 L2025.7,548.4 L2027.3,548.3 L2028.9,548.3 L2030.5,548.5 L2032.1,548.4 L2033.7,548.3 L2035.3,548.5 L2036.9,548.7 L2038.5,548.7 L2040.1,548.6 L2041.7,548.5 L2043.3,548.4 L2044.9,548.6 L2046.5,548.1 L2048.2,548.3 L2049.8,548.5 L2051.4,548.7 L2053.0,548.5 L2054.6,548.1 L2056.2,548.0 L2057.8,548.2 L2059.4,548.4 L2061.0,548.5 L2062.6,548.4 L2064.2,548.3 L2065.8,548.5 L2067.4,548.8 L2069.0,548.6 L2070.6,548.9 L2072.2,549.4 L2073.8,549.2 L2075.4,548.9 L2077.0,549.0 L2078.6,548.8 L2080.2,549.0 L2081.8,549.5 L2083.4,549.5 L2085.0,548.8 L2086.6,549.2 L2088.2,549.5 L2089.8,549.1 L2091.4,549.2 L2093.0,549.4 L2094.6,549.0 L2096.2,549.0 L2097.8,548.8 L2099.4,548.5 L2101.0,548.9 L2102.6,549.1 L2104.2,549.5 L2105.8,549.8 L2107.4,549.5 L2109.0,549.3 L2110.7,549.4 L2112.3,549.5 L2113.9,549.5 L2115.5,548.9 L2117.1,548.6 L2118.7,548.6 L2120.3,549.1 L2121.9,549.2 L2123.5,549.1 L2125.1,549.1 L2126.7,549.1 L2128.3,549.0 L2129.9,549.0 L2131.5,549.1 L2133.1,549.6 L2134.7,549.5 L2136.3,549.3 L2137.9,549.4 L2139.5,549.7 L2141.1,549.6 L2142.7,549.5 L2144.3,549.6 L2145.9,549.7 L2147.5,549.1 L2149.1,549.0 L2150.7,549.1 L2152.3,549.5 L2153.9,549.5 L2155.5,549.4 L2157.1,549.3 L2158.7,549.5 L2160.3,549.4 L2161.9,549.3 L2163.5,549.6 L2165.1,549.2 L2166.7,549.2 L2168.3,549.9 L2169.9,549.5 L2171.5,549.3 L2173.2,549.3 L2174.8,549.5 L2176.4,549.6 L2178.0,549.5 L2179.6,549.4 L2181.2,549.2 L2182.8,549.1 L2184.4,549.6 L2186.0,550.0 L2187.6,549.9 L2189.2,549.7 L2190.8,549.8 L2192.4,549.7 L2194.0,549.6 L2195.6,549.4 L2197.2,549.5 L2198.7,549.6 L2200.0,549.6 L2201.0,549.6" stroke="#800080"/>
<path d="M1210.0,315.0 L1211.0,313.8 L1211.9,312.3 L1212.9,311.0 L1213.9,309.8 L1214.9,308.9 L1215.9,307.8 L1216.9,306.5 L1217.9,305.2 L1219.0,303.9 L1220.0,302.5 L1221.1,301.4 L1222.1,299.9 L1223.0,298.6 L1223.8,297.4 L1224.6,296.1 L1225.3,294.8 L1225.9,293.3 L1226.5,291.8 L1227.1,290.3 L1227.7,288.9 L1228.3,287.2 L1229.0,285.7 L1229.6,284.2 L1230.3,282.6 L1231.0,281.2 L1231.7,279.9 L1232.5,278.6 L1233.3,277.1 L1234.0,275.7 L1234.7,274.4 L1235.4,272.9 L1236.0,271.3 L1236.6,269.8 L1237.1,268.3 L1237.6,266.8 L1238.0,265.3 L1238.5,263.6 L1238.9,262.1 L1239.3,260.5 L1239.7,258.9 L1240.1,257.4 L1240.5,255.8 L1240.9,254.3 L1241.3,252.8 L1241.7,251.4 L1242.0,250.0 L1242.4,248.2 L1242.8,246.3 L1243.2,245.0 L1243.5,243.3 L1243.9,241.7 L1244.2,240.3 L1244.5,238.8 L1244.9,237.4 L1245.2,235.7 L1245.5,234.0 L1245.7,232.3 L1246.0,231.0 L1246.3,229.5 L1246.5,227.9 L1246.8,226.4 L1247.0,224.7 L1247.2,223.0 L1247.5,221.3 L1247.7,219.7 L1247.9,218.0 L1248.1,216.4 L1248.4,215.1 L1248.6,213.4 L1248.8,211.8 L1249.1,210.3 L1249.3,208.7 L1249.5,207.0 L1249.8,205.4 L1250.0,203.8 L1250.3,202.5 L1250.5,200.9 L1250.7,199.3 L1251.0,197.8 L1251.2,196.2 L1251.4,194.5 L1251.7,192.9 L1251.9,191.3 L1252.1,189.6 L1252.3,188.0 L1252.5,186.4 L1252.8,184.7 L1253.0,183.1 L1253.2,181.6 L1253.4,180.0 L1253.6,178.3 L1253.8,176.6 L1254.0,175.3 L1254.2,174.0 L1254.4,172.3 L1254.6,170.6 L1254.8,169.1 L1255.0,167.3 L1255.2,165.7 L1255.4,164.2 L1255.6,162.6 L1255.8,161.0 L1256.0,159.4 L1256.1,157.9 L1256.3,156.4 L1256.5,154.5 L1256.6,152.9 L1256.8,151.5 L1256.9,149.9 L1257.1,147.9 L1257.2,146.5 L1257.3,145.1 L1257.5,143.3 L1257.6,141.7 L1257.8,140.3 L1257.9,138.5 L1258.0,136.8 L1258.2,135.2 L1258.3,133.5 L1258.5,131.9 L1258.6,130.6 L1258.8,129.2 L1259.0,127.5 L1259.2,125.9 L1259.3,124.3 L1259.5,122.7 L1259.7,120.9 L1260.0,119.4 L1260.2,118.0 L1260.4,116.3 L1260.6,114.5 L1260.8,113.0 L1261.1,111.5 L1261.3,109.9 L1261.6,108.5 L1261.8,106.9 L1262.0,105.1 L1262.3,103.6 L1262.5,102.1 L1262.8,100.5 L1263.0,99.0 L1263.2,97.5 L1263.5,95.8 L1263.7,94.1 L1263.9,92.5 L1264.2,90.9 L1264.5,89.4 L1264.8,87.8 L1265.2,86.1 L1265.6,84.7 L1266.3,82.9 L1266.9,82.1 L1267.6,82.8 L1268.3,84.3 L1269.0,86.2 L1269.6,88.1 L1270.1,89.5 L1270.6,91.2 L1271.0,92.9 L1271.4,94.3 L1271.8,95.9 L1272.1,97.7 L1272.5,99.5 L1272.8,100.9 L1273.0,102.4 L1273.3,104.0 L1273.5,105.6 L1273.7,107.0 L1273.9,108.5 L1274.0,110.1 L1274.2,111.8 L1274.3,113.3 L1274.4,115.0 L1274.6,116.7 L1274.7,118.2 L1274.8,119.8 L1274.9,121.5 L1275.1,123.1 L1275.2,124.5 L1275.3,126.0 L1275.5,127.8 L1275.6,129.4 L1275.7,130.9 L1275.9,132.5 L1276.0,134.2 L1276.2,135.7 L1276.3,137.3 L1276.5,138.7 L1276.6,140.5 L1276.8,142.2 L1276.9,143.7 L1277.1,145.4 L1277.2,146.8 L1277.4,148.4 L1277.5,150.1 L1277.7,151.5 L1277.8,153.2 L1278.0,154.7 L1278.1,156.3 L1278.3,158.0 L1278.4,159.7 L1278.6,161.3 L1278.7,162.8 L1278.9,164.3 L1279.1,165.9 L1279.2,167.5 L1279.4,168.9 L1279.5,170.8 L1279.7,172.5 L1279.8,174.2 L1280.0,175.8 L1280.1,177.2 L1280.3,178.9 L1280.4,180.4 L1280.5,182.0 L1280.7,183.7 L1280.8,185.3 L1280.9,186.9 L1281.0,188.4 L1281.1,190.0 L1281.2,191.5 L1281.3,193.2 L1281.4,194.9 L1281.5,196.4 L1281.6,198.0 L1281.7,199.7 L1281.8,201.2 L1281.9,202.7 L1282.0,204.4 L1282.1,206.1 L1282.2,207.5 L1282.3,209.0 L1282.4,210.8 L1282.5,212.3 L1282.6,213.9 L1282.7,215.5 L1282.8,217.1 L1282.9,218.8 L1283.0,220.4 L1283.1,222.0 L1283.2,223.9 L1283.3,225.6 L1283.4,227.0 L1283.5,228.6 L1283.6,230.2 L1283.7,231.5 L1283.8,232.9 L1283.9,234.6 L1284.0,236.4 L1284.1,238.1 L1284.2,239.6 L1284.3,241.0 L1284.4,243.0 L1284.5,244.6 L1284.6,245.9 L1284.7,247.5 L1284.8,249.0 L1284.9,250.6 L1285.0,252.5 L1285.1,254.5 L1285.2,255.9 L1285.3,257.6 L1285.4,259.2 L1285.5,260.6 L1285.5,262.1 L1285.6,263.9 L1285.7,265.6 L1285.8,266.7 L1285.9,268.5 L1286.1,270.3 L1286.2,272.0 L1286.3,274.0 L1286.4,275.4 L1286.5,276.9 L1286.6,278.8 L1286.7,280.4 L1286.8,281.5 L1286.9,283.4 L1287.0,285.0 L1287.1,286.2 L1287.2,287.6 L1287.3,289.7 L1287.4,291.1 L1287.6,292.1 L1287.7,293.9 L1287.8,296.0 L1287.9,296.9 L1287.9,297.9 L1288.0,300.0 L1288.1,302.0 L1288.2,303.8 L1288.3,305.3 L1288.4,307.4 L1288.4,308.4 L1288.5,310.2 L1288.6,312.2 L1288.7,313.3 L1288.7,314.2 L1288.8,316.6 L1288.9,318.2 L1288.9,319.5 L1289.0,321.8 L1289.1,323.6 L1289.2,324.6 L1289.2,325.6 L1289.3,327.2 L1289.4,329.3 L1289.5,330.9 L1289.6,332.1 L1289.6,333.0 L1289.7,335.0 L1289.8,336.6 L1289.8,338.9 L1289.9,341.6 L1290.0,342.9 L1290.1,344.6 L1290.2,346.1 L1290.3,347.6 L1290.4,348.9 L1290.5,350.3 L1290.6,351.9 L1290.7,352.6 L1290.8,354.3 L1291.0,356.5 L1291.1,358.5 L1291.3,360.7 L1291.5,362.0 L1291.7,363.7 L1292.0,365.4 L1292.2,366.7 L1292.5,368.8 L1292.7,369.8 L1293.0,371.1 L1293.3,371.9 L1293.6,373.1 L1293.9,375.1 L1294.2,376.9 L1294.5,378.7 L1294.9,380.4 L1295.2,382.9 L1295.6,383.7 L1296.0,384.7 L1296.4,386.8 L1296.8,389.0 L1297.3,390.1 L1297.8,391.0 L1298.3,392.7 L1298.9,394.8 L1299.6,396.4 L1300.3,397.2 L1301.0,398.8 L1301.9,400.0 L1302.8,402.0 L1303.7,402.8 L1304.8,403.6 L1305.9,405.1 L1307.2,406.3 L1308.5,407.5 L1309.9,408.4 L1311.4,408.8 L1313.0,408.8 L1314.5,409.4 L1316.0,409.6 L1317.6,409.9 L1319.2,409.9 L1320.7,410.4 L1322.3,411.6 L1323.9,410.6 L1325.5,409.7 L1327.1,410.3 L1328.7,411.2 L1330.3,411.3 L1331.9,411.2 L1333.5,412.4 L1335.1,413.1 L1336.7,412.2 L1338.3,412.6 L1339.9,413.2 L1341.5,413.4 L1343.1,412.9 L1344.7,412.6 L1346.3,412.1 L1347.9,412.6 L1349.5,412.0 L1351.1,411.6 L1352.7,412.3 L1354.3,412.3 L1355.9,411.8 L1357.5,411.8 L1359.1,411.8 L1360.7,411.3 L1362.3,411.0 L1363.9,411.3 L1365.5,410.9 L1367.0,410.0 L1368.6,409.7 L1370.2,409.2 L1371.8,409.2 L1373.3,409.1 L1374.9,408.8 L1376.5,408.0 L1378.0,407.7 L1379.5,407.2 L1381.0,407.1 L1382.5,406.4 L1383.9,405.5 L1385.4,404.8 L1386.8,403.3 L1388.2,402.7 L1389.6,402.6 L1391.1,402.4 L1392.6,401.4 L1394.2,401.3 L1395.8,401.5 L1397.3,401.1 L1398.9,401.4 L1400.5,401.9 L1402.0,403.0 L1403.5,403.1 L1405.0,403.5 L1406.4,403.9 L1407.7,404.7 L1409.1,405.5 L1410.4,406.4 L1411.8,406.5 L1413.3,407.7 L1414.7,408.1 L1416.2,408.5 L1417.7,408.8 L1419.3,409.6 L1420.8,410.1 L1422.4,410.2 L1423.9,410.0 L1425.5,408.8 L1427.1,408.0 L1428.6,408.5 L1430.2,407.9 L1431.7,407.7 L1433.2,406.7 L1434.7,406.6 L1436.1,407.1 L1437.6,406.3 L1439.1,404.9 L1440.7,404.3 L1442.2,404.1 L1443.8,403.3 L1445.3,404.1 L1446.8,404.0 L1448.3,404.3 L1449.7,405.4 L1451.0,406.2 L1452.2,407.4 L1453.4,409.2 L1454.5,410.2 L1455.5,411.2 L1456.5,413.0 L1457.5,414.6 L1458.5,416.0 L1459.4,416.9 L1460.4,418.2 L1461.4,420.1 L1462.4,421.1 L1463.4,422.1 L1464.6,422.3 L1465.8,423.2 L1467.2,424.7 L1468.6,425.7 L1470.0,426.5 L1471.5,427.3 L1473.0,427.8 L1474.5,427.7 L1476.1,428.2 L1477.6,428.8 L1479.2,428.9 L1480.8,429.2 L1482.4,430.2 L1484.0,430.1 L1485.6,429.2 L1487.2,429.5 L1488.8,430.2 L1490.4,430.7 L1492.0,429.7 L1493.6,430.1 L1495.2,430.1 L1496.8,430.0 L1498.4,430.6 L1500.0,430.3 L1501.6,429.8 L1503.2,430.2 L1504.8,431.1 L1506.4,430.9 L1508.0,431.4 L1509.6,431.1 L1511.2,430.4 L1512.8,430.7 L1514.4,431.9 L1516.0,432.5 L1517.6,431.9 L1519.2,431.5 L1520.8,431.5 L1522.4,431.6 L1524.0,431.7 L1525.6,431.6 L1527.2,431.6 L1528.8,431.6 L1530.4,431.5 L1532.0,431.1 L1533.6,431.5 L1535.2,432.0 L1536.8,431.9 L1538.4,431.6 L1540.0,432.5 L1541.6,432.7 L1543.2,431.9 L1544.8,432.8 L1546.4,432.9 L1548.0,432.1 L1549.6,431.7 L1551.2,432.8 L1552.8,433.5 L1554.4,433.6 L1556.0,433.7 L1557.6,433.5 L1559.3,433.1 L1560.9,433.3 L1562.5,433.3 L1564.1,432.7 L1565.7,432.5 L1567.3,433.5 L1568.9,433.1 L1570.5,432.8 L1572.1,433.9 L1573.7,434.5 L1575.3,434.3 L1576.9,434.3 L1578.5,434.4 L1580.1,433.6 L1581.7,433.5 L1583.3,433.5 L1584.9,433.8 L1586.5,433.9 L1588.1,434.6 L1589.7,434.1 L1591.3,433.3 L1592.9,433.5 L1594.5,434.8 L1596.1,434.9 L1597.7,434.1 L1599.3,433.6 L1600.9,433.5 L1602.5,432.8 L1604.1,431.8 L1605.7,432.7 L1607.3,433.7 L1608.9,434.3 L1610.5,434.7 L1612.1,434.7 L1613.7,434.0 L1615.3,433.7 L1617.0,433.7 L1618.6,433.7 L1620.2,432.8 L1621.8,433.0 L1623.4,433.6 L1625.0,433.5 L1626.6,433.5 L1628.2,433.2 L1629.8,434.0 L1631.4,434.7 L1633.0,434.8 L1634.6,434.7 L1636.2,434.6 L1637.8,434.6 L1639.4,435.0 L1641.0,435.7 L1642.6,435.7 L1644.2,435.3 L1645.8,435.2 L1647.4,434.9 L1649.0,434.6 L1650.6,434.7 L1652.2,434.7 L1653.8,435.0 L1655.4,434.8 L1657.0,435.0 L1658.6,435.1 L1660.2,434.9 L1661.8,435.0 L1663.4,434.8 L1665.0,435.0 L1666.6,434.8 L1668.2,434.6 L1669.8,434.9 L1671.4,434.6 L1673.0,434.3 L1674.6,434.3 L1676.3,434.6 L1677.9,434.8 L1679.5,434.4 L1681.1,434.5 L1682.7,435.1 L1684.3,435.6 L1685.9,435.3 L1687.5,435.7 L1689.1,436.1 L1690.7,436.0 L1692.3,436.2 L1693.9,435.9 L1695.5,435.5 L1697.1,435.9 L1698.7,436.1 L1700.3,436.4 L1701.9,436.1 L1703.5,436.2 L1705.1,436.0 L1706.7,435.7 L1708.3,435.7 L1709.9,435.9 L1711.5,436.0 L1713.1,435.8 L1714.7,435.9 L1716.3,436.0 L1717.9,436.1 L1719.5,436.7 L1721.1,436.6 L1722.7,436.1 L1724.3,436.6 L1725.9,436.8 L1727.5,436.7 L1729.1,436.2 L1730.7,436.0 L1732.3,435.9 L1733.9,435.8 L1735.6,436.2 L1737.2,436.8 L1738.8,437.0 L1740.4,437.0 L1742.0,436.6 L1743.6,436.2 L1745.2,436.2 L1746.8,436.8 L1748.4,437.5 L1750.0,437.5 L1751.6,437.4 L1753.2,437.6 L1754.8,437.5 L1756.4,437.3 L1758.0,437.2 L1759.6,436.7 L1761.2,436.5 L1762.8,436.6 L1764.4,436.6 L1766.0,437.0 L1767.6,437.2 L1769.2,437.1 L1770.8,437.1 L1772.4,437.1 L1774.0,437.3 L1775.6,437.9 L1777.2,437.9 L1778.8,437.7 L1780.4,437.7 L1782.0,437.4 L1783.6,437.5 L1785.2,437.5 L1786.8,437.4 L1788.4,437.5 L1790.0,437.4 L1791.6,437.3 L1793.2,437.7 L1794.9,437.6 L1796.5,437.7 L1798.1,437.8 L1799.7,437.7 L1801.3,437.7 L1802.9,437.9 L1804.5,438.1 L1806.1,438.5 L1807.7,438.4 L1809.3,438.3 L1810.9,438.6 L1812.5,438.2 L1814.1,438.1 L1815.7,438.2 L1817.3,438.2 L1818.9,438.0 L1820.5,437.9 L1822.1,437.9 L1823.7,438.0 L1825.3,438.2 L1826.9,438.4 L1828.5,438.4 L1830.1,438.6 L1831.7,438.8 L1833.3,439.3 L1834.9,439.1 L1836.5,438.9 L1838.1,438.6 L1839.7,438.7 L1841.3,438.8 L1842.9,438.1 L1844.5,438.4 L1846.1,438.5 L1847.7,438.5 L1849.3,438.6 L1850.9,438.3 L1852.6,438.2 L1854.2,438.6 L1855.8,438.9 L1857.4,438.7 L1859.0,438.8 L1860.6,438.8 L1862.2,438.8 L1863.8,438.8 L1865.4,438.4 L1867.0,438.4 L1868.6,438.7 L1870.2,439.1 L1871.8,439.4 L1873.4,439.2 L1875.0,439.2 L1876.6,439.1 L1878.2,439.0 L1879.8,438.9 L1881.4,439.0 L1883.0,439.5 L1884.6,439.2 L1886.2,439.0 L1887.8,439.0 L1889.4,438.8 L1891.0,438.8 L1892.6,439.0 L1894.2,439.2 L1895.8,439.2 L1897.4,439.3 L1899.0,439.0 L1900.6,439.5 L1902.2,439.9 L1903.8,439.6 L1905.4,439.3 L1907.0,439.4 L1908.7,439.3 L1910.3,439.5 L1911.9,439.9 L1913.5,440.1 L1915.1,439.7 L1916.7,439.7 L1918.3,439.8 L1919.9,440.0 L1921.5,439.8 L1923.1,439.4 L1924.7,439.9 L1926.3,440.0 L1927.9,439.4 L1929.5,439.7 L1931.1,439.7 L1932.7,439.7 L1934.3,439.8 L1935.9,440.2 L1937.5,440.3 L1939.1,440.2 L1940.7,440.3 L1942.3,440.4 L1943.9,439.7 L1945.5,439.3 L1947.1,439.0 L1948.7,439.3 L1950.3,439.5 L1951.9,439.5 L1953.5,440.1 L1955.1,440.2 L1956.7,440.0 L1958.3,439.9 L1959.9,440.0 L1961.5,439.9 L1963.1,440.0 L1964.8,439.8 L1966.4,439.8 L1968.0,439.8 L1969.6,440.0 L1971.2,439.8 L1972.8,440.0 L1974.4,439.8 L1976.0,439.8 L1977.6,440.1 L1979.2,440.3 L1980.8,440.4 L1982.4,440.4 L1984.0,440.5 L1985.6,440.1 L1987.2,439.8 L1988.8,440.2 L1990.4,440.5 L1992.0,440.2 L1993.6,440.4 L1995.2,440.6 L1996.8,440.4 L1998.4,440.4 L2000.0,440.3 L2001.6,440.4 L2003.2,440.2 L2004.8,439.8 L2006.4,439.9 L2008.0,440.6 L2009.6,440.9 L2011.2,440.8 L2012.8,440.9 L2014.4,440.6 L2016.0,440.3 L2017.6,440.7 L2019.3,441.1 L2020.9,440.8 L2022.5,440.6 L2024.1,441.0 L2025.7,441.1 L2027.3,441.0 L2028.9,440.9 L2030.5,440.9 L2032.1,441.0 L2033.7,440.8 L2035.3,440.9 L2036.9,440.5 L2038.5,440.6 L2040.1,441.0 L2041.7,440.6 L2043.3,440.2 L2044.9,440.4 L2046.5,440.8 L2048.1,440.9 L2049.7,440.9 L2051.3,441.0 L2052.9,441.1 L2054.5,440.6 L2056.1,440.3 L2057.7,440.5 L2059.3,440.7 L2060.9,441.0 L2062.5,441.1 L2064.1,440.7 L2065.7,441.4 L2067.3,442.0 L2068.9,442.1 L2070.5,441.7 L2072.2,441.2 L2073.8,441.3 L2075.4,441.2 L2077.0,440.7 L2078.6,440.5 L2080.2,440.9 L2081.8,441.1 L2083.4,441.1 L2085.0,441.6 L2086.6,441.1 L2088.2,441.2 L2089.8,441.0 L2091.4,441.1 L2093.0,441.1 L2094.6,440.8 L2096.2,441.0 L2097.8,440.8 L2099.4,441.3 L2101.0,441.5 L2102.6,441.5 L2104.2,441.2 L2105.8,441.2 L2107.4,441.0 L2109.0,441.3 L2110.6,441.4 L2112.2,441.4 L2113.8,441.2 L2115.4,441.0 L2117.0,441.2 L2118.6,441.2 L2120.2,441.1 L2121.8,441.4 L2123.4,441.6 L2125.1,441.1 L2126.7,440.9 L2128.3,441.2 L2129.9,441.2 L2131.5,441.4 L2133.1,441.4 L2134.7,441.8 L2136.3,441.7 L2137.9,441.0 L2139.5,441.0 L2141.1,441.4 L2142.7,441.7 L2144.3,441.7 L2145.9,441.9 L2147.5,441.8 L2149.1,441.5 L2150.7,441.2 L2152.3,441.4 L2153.9,441.4 L2155.5,441.2 L2157.1,441.1 L2158.7,441.2 L2160.3,441.6 L2161.9,442.1 L2163.5,441.9 L2165.1,441.7 L2166.7,441.6 L2168.3,441.4 L2169.9,441.4 L2171.5,441.5 L2173.1,441.4 L2174.7,441.4 L2176.4,441.3 L2178.0,441.2 L2179.6,441.2 L2181.2,441.6 L2182.8,441.4 L2184.4,441.5 L2186.0,441.6 L2187.6,441.2 L2189.2,441.7 L2190.8,441.6 L2192.4,441.4 L2194.0,441.6 L2195.6,441.6 L2197.2,441.7 L2198.7,441.8 L2200.0,441.5 L2201.0,441.4" stroke="#ff8000"/>
</g>
<g fill="none" stroke-width="4.7" stroke-linejoin="round" stroke-linecap="butt">
<path d="M125.4,1364.1 L126.0,1362.4 L126.7,1360.8 L127.5,1359.4 L128.3,1358.0 L129.3,1356.7 L130.2,1355.4 L131.3,1354.4 L132.6,1353.4 L134.1,1352.5 L135.5,1351.8 L136.7,1350.9 L137.6,1349.7 L138.3,1348.4 L138.9,1347.0 L139.5,1345.4 L140.0,1343.8 L140.6,1342.1 L141.4,1340.8 L142.4,1339.7 L143.6,1338.6 L144.9,1337.5 L146.1,1336.4 L147.0,1335.2 L147.8,1333.8 L148.5,1332.3 L149.1,1330.8 L149.7,1329.3 L150.3,1327.6 L150.8,1326.0 L151.4,1324.7 L152.0,1323.3 L152.7,1321.4 L153.4,1320.0 L154.2,1318.6 L154.9,1317.3 L155.7,1316.0 L156.4,1314.7 L157.1,1313.3 L157.7,1311.8 L158.3,1310.2 L158.9,1308.6 L159.5,1307.2 L160.0,1305.8 L160.6,1304.3 L161.1,1302.8 L161.6,1301.5 L162.1,1299.8 L162.5,1298.2 L163.0,1296.7 L163.5,1295.0 L163.9,1293.4 L164.4,1291.7 L164.8,1290.0 L165.2,1288.3 L165.6,1287.0 L166.0,1285.5 L166.4,1284.0 L166.8,1282.5 L167.2,1281.0 L167.6,1279.6 L167.9,1277.8 L168.3,1276.2 L168.6,1274.9 L169.0,1273.5 L169.3,1272.0 L169.7,1270.2 L170.0,1268.6 L170.4,1267.1 L170.7,1265.7 L171.1,1263.8 L171.4,1262.3 L171.8,1260.7 L172.1,1259.1 L172.5,1257.6 L172.8,1256.0 L173.2,1254.4 L173.5,1252.9 L173.9,1251.4 L174.2,1249.8 L174.6,1248.1 L174.9,1246.5 L175.2,1245.0 L175.6,1243.5 L175.9,1241.9 L176.2,1240.5 L176.6,1238.8 L176.9,1237.1 L177.2,1235.6 L177.5,1234.0 L177.8,1232.5 L178.1,1230.9 L178.3,1229.4 L178.6,1227.8 L178.8,1226.1 L179.0,1224.5 L179.2,1223.1 L179.4,1221.5 L179.6,1219.9 L179.8,1218.4 L180.0,1216.8 L180.2,1215.2 L180.4,1213.6 L180.6,1211.9 L180.9,1210.1 L181.1,1208.5 L181.3,1207.2 L181.5,1205.6 L181.7,1204.0 L181.9,1202.4 L182.0,1200.9 L182.2,1199.3 L182.4,1197.7 L182.6,1196.1 L182.8,1194.4 L183.1,1192.7 L183.3,1191.2 L183.5,1189.4 L183.7,1187.8 L184.0,1186.5 L184.2,1185.0 L184.5,1183.5 L184.7,1181.8 L185.0,1180.3 L185.3,1178.7 L185.5,1177.0 L185.8,1175.4 L186.1,1174.1 L186.4,1172.5 L186.6,1171.0 L186.9,1169.2 L187.1,1167.4 L187.4,1165.8 L187.6,1164.4 L187.8,1162.7 L188.0,1161.2 L188.2,1159.7 L188.4,1158.1 L188.7,1156.2 L188.9,1154.6 L189.1,1153.2 L189.4,1151.5 L189.7,1150.1 L190.0,1148.5 L190.4,1146.6 L190.8,1144.6 L191.3,1142.8 L191.8,1141.4 L192.4,1141.0 L193.1,1142.0 L193.9,1143.8 L194.5,1145.5 L195.0,1146.9 L195.5,1148.5 L195.9,1150.3 L196.3,1151.9 L196.7,1153.5 L197.0,1155.0 L197.2,1156.4 L197.5,1158.0 L197.7,1159.6 L197.9,1161.2 L198.1,1162.7 L198.3,1164.2 L198.5,1165.8 L198.7,1167.3 L198.8,1168.8 L199.0,1170.4 L199.1,1172.2 L199.3,1173.7 L199.4,1175.3 L199.5,1176.9 L199.7,1178.9 L199.8,1180.5 L199.9,1181.8 L200.0,1183.3 L200.2,1185.0 L200.3,1186.6 L200.4,1188.3 L200.5,1189.9 L200.6,1191.4 L200.7,1193.1 L200.7,1194.8 L200.8,1196.4 L200.9,1198.0 L201.0,1199.5 L201.1,1201.1 L201.2,1202.7 L201.4,1204.2 L201.5,1205.9 L201.6,1207.4 L201.8,1209.0 L201.9,1210.4 L202.1,1212.1 L202.2,1213.7 L202.4,1215.5 L202.5,1217.0 L202.7,1218.6 L202.8,1220.3 L202.9,1221.7 L203.1,1223.2 L203.2,1224.8 L203.3,1226.5 L203.4,1228.1 L203.5,1229.8 L203.6,1231.6 L203.7,1233.3 L203.8,1235.0 L203.9,1236.6 L204.0,1238.0 L204.1,1239.4 L204.2,1240.9 L204.3,1242.5 L204.3,1244.3 L204.4,1246.0 L204.5,1247.5 L204.6,1249.2 L204.7,1250.8 L204.8,1252.2 L204.9,1253.8 L205.0,1255.4 L205.1,1257.0 L205.2,1258.6 L205.3,1260.3 L205.4,1262.0 L205.4,1263.4 L205.5,1265.3 L205.6,1267.0 L205.7,1268.6 L205.8,1270.1 L205.9,1271.3 L206.0,1272.9 L206.1,1274.8 L206.2,1276.4 L206.3,1278.1 L206.4,1279.7 L206.6,1281.2 L206.7,1282.6 L206.8,1284.2 L206.9,1285.9 L207.0,1287.5 L207.1,1289.1 L207.2,1290.6 L207.4,1292.0 L207.5,1293.5 L207.6,1295.2 L207.7,1297.1 L207.9,1298.8 L208.0,1300.3 L208.1,1302.0 L208.2,1303.7 L208.4,1305.3 L208.5,1306.9 L208.6,1308.4 L208.7,1310.0 L208.9,1311.5 L209.0,1313.3 L209.1,1314.8 L209.3,1316.1 L209.4,1317.5 L209.5,1319.4 L209.6,1321.2 L209.8,1323.3 L209.9,1324.9 L210.0,1326.0 L210.1,1327.7 L210.3,1329.2 L210.4,1330.6 L210.5,1332.0 L210.7,1333.8 L210.8,1335.5 L211.0,1337.1 L211.1,1338.9 L211.2,1340.7 L211.4,1342.5 L211.5,1343.8 L211.7,1345.0 L211.8,1346.3 L212.0,1347.8 L212.1,1349.8 L212.3,1351.5 L212.4,1353.5 L212.6,1355.0 L212.8,1356.7 L212.9,1358.6 L213.1,1359.8 L213.3,1361.0 L213.5,1362.1 L213.6,1363.7 L213.8,1365.3 L214.0,1366.5 L214.2,1368.0 L214.5,1370.1 L214.7,1372.0 L214.9,1373.0 L215.2,1374.9 L215.4,1376.6 L215.7,1378.5 L216.0,1379.9 L216.3,1380.7 L216.6,1382.3 L216.9,1384.6 L217.2,1386.2 L217.6,1387.7 L217.9,1389.2 L218.3,1390.9 L218.7,1392.8 L219.1,1393.8 L219.6,1395.2 L220.0,1397.1 L220.5,1399.8 L221.1,1401.3 L221.7,1402.1 L222.3,1403.0 L223.0,1404.5 L223.7,1406.6 L224.5,1408.1 L225.4,1408.8 L226.3,1409.0 L227.3,1410.3 L228.3,1412.1 L229.4,1413.5 L230.5,1414.8 L231.6,1416.1 L232.8,1417.4 L234.1,1418.7 L235.3,1419.3 L236.7,1419.5 L238.0,1420.6 L239.5,1421.8 L240.9,1422.4 L242.4,1423.6 L243.9,1424.4 L245.5,1424.4 L247.0,1425.9 L248.6,1425.5 L250.1,1425.5 L251.7,1425.8 L253.3,1425.4 L254.8,1425.9 L256.4,1426.3 L258.0,1426.5 L259.6,1426.9 L261.2,1427.1 L262.7,1427.4 L264.3,1427.7 L265.9,1429.1 L267.4,1430.3 L269.0,1431.0 L270.5,1430.6 L272.1,1431.0 L273.6,1431.1 L275.2,1431.2 L276.8,1430.4 L278.4,1430.3 L280.0,1430.7 L281.6,1430.9 L283.2,1430.1 L284.8,1430.5 L286.4,1430.5 L288.0,1430.4 L289.6,1429.9 L291.2,1429.9 L292.8,1430.7 L294.4,1430.3 L296.0,1430.2 L297.6,1429.9 L299.2,1430.3 L300.7,1430.4 L302.3,1429.8 L303.9,1429.0 L305.4,1428.9 L307.0,1428.9 L308.6,1428.7 L310.1,1429.4 L311.6,1429.6 L313.1,1429.4 L314.5,1429.5 L315.9,1429.0 L317.3,1428.0 L318.7,1426.9 L320.1,1426.0 L321.5,1425.8 L323.0,1425.8 L324.5,1425.2 L326.1,1424.5 L327.7,1423.3 L329.3,1422.8 L330.9,1423.2 L332.5,1423.0 L334.0,1423.5 L335.4,1423.6 L336.8,1424.2 L338.1,1425.3 L339.4,1425.9 L340.7,1426.6 L341.9,1428.8 L343.1,1430.0 L344.2,1431.4 L345.4,1432.6 L346.5,1434.1 L347.6,1435.8 L348.7,1437.3 L349.9,1437.9 L351.1,1438.0 L352.5,1439.0 L353.9,1439.3 L355.5,1439.5 L357.0,1439.6 L358.6,1438.9 L360.3,1439.7 L361.9,1440.3 L363.5,1440.9 L365.1,1441.3 L366.7,1441.5 L368.2,1441.3 L369.8,1441.8 L371.3,1441.3 L372.8,1441.3 L374.2,1441.0 L375.7,1440.7 L377.2,1440.0 L378.7,1439.9 L380.3,1439.9 L381.9,1439.9 L383.4,1440.5 L385.0,1440.6 L386.4,1440.3 L387.7,1441.1 L388.9,1442.2 L390.1,1443.3 L391.1,1444.6 L392.2,1446.2 L393.2,1447.5 L394.3,1449.3 L395.4,1450.2 L396.6,1450.5 L397.8,1451.5 L399.1,1452.4 L400.3,1453.7 L401.6,1454.8 L402.9,1454.9 L404.3,1456.4 L405.7,1458.2 L407.1,1458.3 L408.5,1458.9 L409.9,1458.9 L411.4,1459.8 L412.8,1460.3 L414.3,1460.4 L415.8,1461.1 L417.3,1462.5 L418.8,1463.4 L420.3,1464.3 L421.9,1464.3 L423.4,1464.8 L425.0,1466.0 L426.5,1466.5 L428.1,1466.3 L429.7,1466.2 L431.2,1466.4 L432.8,1466.8 L434.4,1467.8 L436.0,1467.7 L437.6,1467.4 L439.2,1468.0 L440.8,1467.7 L442.4,1467.8 L444.0,1468.0 L445.5,1467.9 L447.1,1468.8 L448.7,1469.6 L450.3,1468.8 L451.9,1468.5 L453.5,1469.2 L455.1,1469.8 L456.6,1470.4 L458.2,1470.3 L459.8,1471.0 L461.4,1470.5 L463.0,1471.0 L464.6,1472.0 L466.2,1472.1 L467.8,1471.8 L469.4,1471.5 L471.0,1471.6 L472.6,1471.9 L474.2,1472.9 L475.7,1472.8 L477.3,1472.9 L478.9,1473.2 L480.5,1473.3 L482.1,1473.3 L483.7,1473.4 L485.3,1473.5 L486.9,1473.9 L488.5,1473.9 L490.1,1473.7 L491.7,1473.4 L493.3,1473.1 L494.9,1474.0 L496.5,1474.3 L498.1,1474.5 L499.7,1475.2 L501.3,1474.8 L502.9,1475.0 L504.5,1475.6 L506.1,1475.5 L507.7,1475.1 L509.3,1475.0 L510.9,1474.8 L512.5,1474.4 L514.1,1475.5 L515.7,1476.0 L517.3,1476.5 L518.9,1476.5 L520.5,1476.6 L522.1,1477.0 L523.7,1476.5 L525.3,1476.2 L526.9,1476.6 L528.5,1477.2 L530.1,1476.4 L531.7,1475.4 L533.3,1476.2 L534.9,1476.8 L536.5,1477.2 L538.1,1477.2 L539.7,1476.8 L541.3,1476.8 L542.8,1477.3 L544.4,1478.0 L546.0,1478.7 L547.6,1478.8 L549.2,1478.4 L550.8,1478.5 L552.4,1478.5 L554.0,1478.2 L555.6,1479.0 L557.2,1478.8 L558.8,1478.8 L560.4,1478.7 L562.0,1479.2 L563.6,1479.4 L565.2,1479.5 L566.8,1480.2 L568.4,1480.6 L570.0,1480.9 L571.6,1480.6 L573.2,1480.7 L574.8,1480.9 L576.4,1480.6 L578.0,1480.6 L579.6,1481.4 L581.2,1481.7 L582.8,1481.6 L584.4,1481.1 L586.0,1481.3 L587.6,1481.3 L589.2,1481.3 L590.8,1481.4 L592.4,1480.7 L594.0,1481.0 L595.6,1481.2 L597.2,1481.4 L598.8,1481.9 L600.4,1482.6 L602.0,1483.2 L603.6,1483.1 L605.2,1483.3 L606.8,1483.6 L608.4,1484.0 L610.0,1483.4 L611.6,1483.2 L613.2,1483.8 L614.8,1484.3 L616.4,1483.9 L618.0,1483.9 L619.6,1484.2 L621.2,1483.6 L622.8,1483.3 L624.4,1483.1 L626.0,1483.1 L627.6,1483.5 L629.2,1483.6 L630.8,1484.1 L632.4,1484.6 L634.0,1484.2 L635.6,1484.2 L637.2,1484.7 L638.8,1484.7 L640.4,1485.1 L642.0,1485.1 L643.6,1485.1 L645.2,1485.5 L646.8,1485.3 L648.4,1484.9 L650.0,1485.0 L651.6,1485.7 L653.2,1485.3 L654.8,1485.4 L656.4,1485.5 L658.0,1485.8 L659.6,1485.7 L661.2,1485.0 L662.8,1485.3 L664.4,1485.7 L666.0,1486.1 L667.6,1485.8 L669.2,1485.8 L670.8,1486.1 L672.4,1486.1 L674.0,1486.3 L675.6,1486.6 L677.2,1486.5 L678.8,1485.9 L680.4,1485.7 L682.0,1486.2 L683.6,1486.6 L685.2,1487.0 L686.8,1486.7 L688.4,1486.9 L690.0,1486.8 L691.6,1486.9 L693.2,1487.0 L694.8,1486.8 L696.4,1486.8 L698.1,1487.0 L699.7,1487.0 L701.3,1487.3 L702.9,1487.5 L704.5,1487.0 L706.1,1487.5 L707.7,1487.8 L709.3,1487.7 L710.9,1487.8 L712.5,1488.2 L714.1,1488.3 L715.7,1488.0 L717.3,1488.4 L718.9,1488.7 L720.5,1488.0 L722.1,1487.9 L723.7,1487.9 L725.3,1487.9 L726.9,1488.2 L728.5,1488.1 L730.1,1488.0 L731.7,1488.2 L733.3,1488.9 L734.9,1489.4 L736.5,1489.3 L738.1,1488.5 L739.7,1488.1 L741.3,1488.3 L742.9,1488.6 L744.5,1488.7 L746.1,1489.2 L747.7,1489.4 L749.3,1489.2 L750.9,1489.0 L752.5,1489.3 L754.1,1489.6 L755.7,1489.3 L757.3,1489.1 L758.9,1489.1 L760.5,1489.6 L762.1,1489.6 L763.7,1489.6 L765.3,1489.3 L766.9,1489.5 L768.5,1489.6 L770.1,1490.0 L771.8,1490.3 L773.4,1489.7 L775.0,1489.5 L776.6,1490.0 L778.2,1490.2 L779.8,1490.1 L781.4,1490.2 L783.0,1490.4 L784.6,1490.4 L786.2,1490.4 L787.8,1490.1 L789.4,1490.1 L791.0,1490.5 L792.6,1490.9 L794.2,1491.0 L795.8,1490.9 L797.4,1491.1 L799.0,1490.9 L800.6,1490.9 L802.2,1490.6 L803.8,1490.4 L805.4,1490.3 L807.0,1491.1 L808.6,1491.2 L810.2,1491.2 L811.8,1491.1 L813.4,1491.1 L815.0,1491.0 L816.6,1491.0 L818.2,1491.2 L819.8,1491.1 L821.4,1490.9 L823.0,1490.9 L824.6,1490.9 L826.2,1491.0 L827.8,1490.8 L829.4,1490.9 L831.0,1491.3 L832.7,1491.6 L834.3,1491.4 L835.9,1491.3 L837.5,1491.6 L839.1,1491.8 L840.7,1492.0 L842.3,1491.9 L843.9,1492.0 L845.5,1491.6 L847.1,1491.4 L848.7,1492.0 L850.3,1492.0 L851.9,1491.9 L853.5,1492.1 L855.1,1492.5 L856.7,1492.2 L858.3,1491.9 L859.9,1492.4 L861.5,1492.7 L863.1,1492.6 L864.7,1492.5 L866.3,1492.4 L867.9,1492.1 L869.5,1492.2 L871.1,1492.0 L872.7,1491.7 L874.3,1491.7 L875.9,1491.9 L877.5,1492.0 L879.1,1492.2 L880.7,1492.4 L882.3,1492.3 L883.9,1492.7 L885.5,1492.6 L887.2,1492.2 L888.8,1492.0 L890.4,1492.3 L892.0,1492.3 L893.6,1492.7 L895.2,1492.5 L896.8,1492.8 L898.4,1492.9 L900.0,1493.1 L901.6,1492.7 L903.2,1492.6 L904.8,1492.5 L906.4,1492.9 L908.0,1493.0 L909.6,1492.9 L911.2,1492.6 L912.8,1492.7 L914.4,1492.7 L916.0,1492.8 L917.6,1493.1 L919.2,1493.0 L920.8,1492.4 L922.4,1492.8 L924.0,1493.3 L925.6,1493.4 L927.2,1493.4 L928.8,1493.0 L930.4,1493.1 L932.0,1493.0 L933.6,1493.1 L935.2,1493.0 L936.8,1493.2 L938.4,1493.2 L940.1,1493.2 L941.7,1493.0 L943.3,1493.1 L944.9,1493.1 L946.5,1493.1 L948.1,1493.2 L949.7,1493.3 L951.3,1493.3 L952.9,1493.6 L954.5,1493.5 L956.1,1493.4 L957.7,1493.3 L959.3,1493.5 L960.9,1493.8 L962.5,1493.8 L964.1,1493.7 L965.7,1493.5 L967.3,1493.4 L968.9,1493.5 L970.5,1493.5 L972.1,1494.1 L973.7,1494.6 L975.3,1494.4 L976.9,1493.9 L978.5,1494.0 L980.1,1493.9 L981.7,1493.7 L983.3,1493.4 L984.9,1493.5 L986.5,1494.0 L988.1,1493.8 L989.7,1493.8 L991.3,1493.7 L993.0,1493.6 L994.6,1493.8 L996.2,1493.9 L997.8,1494.2 L999.4,1494.3 L1001.0,1494.3 L1002.6,1494.4 L1004.2,1494.4 L1005.8,1494.3 L1007.4,1493.7 L1009.0,1493.6 L1010.6,1493.6 L1012.2,1493.7 L1013.8,1493.6 L1015.4,1494.0 L1017.0,1494.1 L1018.6,1494.2 L1020.2,1494.2 L1021.8,1493.8 L1023.4,1493.9 L1025.0,1494.5 L1026.6,1494.4 L1028.2,1493.5 L1029.8,1493.3 L1031.4,1493.8 L1033.0,1494.1 L1034.6,1493.7 L1036.2,1493.7 L1037.8,1493.9 L1039.4,1494.4 L1041.0,1494.6 L1042.6,1494.4 L1044.3,1494.2 L1045.9,1494.2 L1047.5,1494.1 L1049.1,1493.7 L1050.7,1493.6 L1052.3,1493.9 L1053.9,1494.1 L1055.5,1494.5 L1057.1,1494.4 L1058.7,1494.5 L1060.3,1494.0 L1061.9,1494.0 L1063.5,1494.1 L1065.1,1494.1 L1066.7,1494.1 L1068.3,1494.2 L1069.9,1494.4 L1071.5,1494.6 L1073.1,1494.7 L1074.7,1494.5 L1076.3,1494.3 L1077.9,1494.4 L1079.5,1494.6 L1081.1,1494.5 L1082.7,1494.2 L1084.3,1494.0 L1085.9,1494.4 L1087.5,1494.5 L1089.1,1494.6 L1090.7,1494.8 L1092.3,1494.7 L1094.0,1494.6 L1095.6,1494.7 L1097.2,1494.6 L1098.8,1494.6 L1100.4,1494.6 L1102.0,1494.6 L1103.6,1494.8 L1105.2,1494.8 L1106.8,1494.6 L1108.4,1494.7 L1110.0,1494.4 L1111.6,1494.1 L1113.2,1494.0 L1114.7,1494.0 L1116.0,1493.9 L1117.0,1493.7" stroke="#ff0000"/>
<path d="M125.4,1278.2 L126.6,1277.0 L127.8,1275.7 L128.9,1274.6 L130.0,1273.5 L131.0,1272.1 L132.0,1270.9 L132.9,1269.6 L133.7,1268.2 L134.6,1266.8 L135.5,1265.6 L136.4,1264.4 L137.5,1263.1 L138.6,1262.1 L140.0,1261.2 L141.3,1260.2 L142.7,1259.2 L144.0,1258.3 L145.2,1257.3 L146.2,1255.9 L147.2,1254.5 L148.1,1253.2 L149.0,1252.2 L149.8,1251.1 L150.6,1249.7 L151.3,1248.2 L152.1,1246.7 L152.7,1245.2 L153.3,1243.6 L153.9,1242.1 L154.4,1240.5 L155.0,1239.0 L155.6,1237.6 L156.3,1236.1 L157.1,1234.9 L158.1,1233.5 L159.1,1232.1 L160.1,1230.8 L161.1,1229.6 L162.0,1228.2 L162.7,1226.9 L163.4,1225.4 L164.1,1223.8 L164.7,1222.4 L165.2,1220.9 L165.8,1219.5 L166.3,1218.0 L166.8,1216.6 L167.3,1215.0 L167.8,1213.4 L168.3,1211.9 L168.8,1210.4 L169.3,1208.8 L169.7,1207.4 L170.2,1205.9 L170.7,1204.3 L171.1,1202.9 L171.5,1201.2 L172.0,1199.5 L172.4,1197.9 L172.9,1196.4 L173.4,1194.9 L173.9,1193.5 L174.4,1191.9 L174.9,1190.4 L175.4,1188.9 L175.9,1187.4 L176.5,1185.7 L177.0,1184.2 L177.5,1182.8 L178.0,1181.4 L178.5,1179.9 L178.9,1178.3 L179.3,1176.9 L179.7,1175.4 L180.1,1173.9 L180.5,1172.1 L180.9,1170.5 L181.2,1168.8 L181.6,1167.3 L181.9,1166.0 L182.3,1164.4 L182.6,1162.5 L182.9,1161.0 L183.3,1159.4 L183.6,1157.7 L183.9,1156.4 L184.3,1155.0 L184.6,1153.3 L184.9,1151.6 L185.2,1150.3 L185.5,1148.7 L185.8,1147.1 L186.1,1145.5 L186.4,1144.0 L186.7,1142.4 L187.0,1140.7 L187.3,1139.2 L187.5,1137.6 L187.8,1135.9 L188.1,1134.3 L188.4,1132.6 L188.7,1131.0 L188.9,1129.6 L189.2,1128.0 L189.5,1126.4 L189.7,1124.9 L190.0,1123.4 L190.2,1121.8 L190.5,1120.1 L190.8,1118.5 L191.0,1117.0 L191.3,1115.6 L191.5,1113.8 L191.8,1112.2 L192.0,1110.6 L192.2,1109.0 L192.5,1107.5 L192.7,1105.8 L193.0,1104.0 L193.2,1102.4 L193.5,1100.8 L193.7,1099.5 L193.9,1098.1 L194.1,1096.4 L194.4,1094.8 L194.6,1093.3 L194.8,1091.7 L195.0,1090.3 L195.2,1088.6 L195.4,1086.7 L195.6,1085.0 L195.8,1083.4 L196.0,1081.9 L196.2,1080.2 L196.4,1078.8 L196.6,1077.5 L196.8,1076.0 L197.0,1074.6 L197.1,1072.9 L197.3,1071.1 L197.5,1069.4 L197.6,1067.8 L197.8,1066.2 L198.0,1064.7 L198.2,1063.1 L198.3,1061.3 L198.5,1059.7 L198.7,1058.2 L198.8,1056.8 L199.0,1055.1 L199.1,1053.5 L199.3,1052.0 L199.5,1050.3 L199.6,1048.7 L199.8,1047.0 L199.9,1045.4 L200.1,1043.9 L200.3,1042.3 L200.4,1040.5 L200.6,1039.2 L200.9,1037.7 L201.1,1036.0 L201.5,1034.3 L201.8,1032.4 L202.3,1030.9 L202.9,1029.7 L203.9,1028.4 L205.3,1027.9 L206.7,1028.7 L207.6,1029.8 L208.1,1031.5 L208.5,1033.2 L208.8,1034.8 L209.1,1036.3 L209.3,1038.0 L209.6,1039.6 L209.8,1041.3 L210.0,1042.8 L210.2,1044.2 L210.4,1045.7 L210.6,1047.4 L210.7,1049.2 L210.9,1050.9 L211.0,1052.6 L211.1,1053.9 L211.2,1055.4 L211.3,1056.9 L211.4,1058.5 L211.5,1060.3 L211.6,1061.9 L211.7,1063.4 L211.8,1064.9 L211.9,1066.6 L212.1,1068.3 L212.2,1070.0 L212.4,1071.5 L212.5,1073.0 L212.7,1074.7 L212.9,1076.2 L213.0,1077.9 L213.2,1079.6 L213.4,1081.0 L213.5,1082.5 L213.7,1084.0 L213.9,1085.5 L214.0,1087.4 L214.2,1088.9 L214.4,1090.3 L214.5,1091.7 L214.7,1093.5 L214.8,1095.3 L215.0,1097.0 L215.2,1098.5 L215.3,1100.1 L215.5,1101.7 L215.6,1103.2 L215.8,1105.1 L215.9,1106.7 L216.1,1108.3 L216.3,1109.8 L216.4,1111.5 L216.6,1113.0 L216.7,1114.3 L216.9,1116.0 L217.1,1117.6 L217.2,1119.1 L217.4,1120.8 L217.5,1122.4 L217.7,1124.0 L217.9,1125.6 L218.1,1127.3 L218.2,1128.9 L218.4,1130.5 L218.6,1132.1 L218.7,1133.7 L218.9,1135.2 L219.1,1136.7 L219.2,1138.3 L219.4,1140.0 L219.6,1141.4 L219.7,1143.1 L219.8,1144.6 L220.0,1146.2 L220.1,1147.9 L220.3,1149.6 L220.4,1151.2 L220.5,1152.7 L220.6,1154.6 L220.8,1156.2 L220.9,1157.6 L221.0,1159.1 L221.1,1160.7 L221.2,1162.4 L221.3,1164.0 L221.5,1165.6 L221.6,1167.0 L221.7,1168.7 L221.8,1170.2 L222.0,1171.8 L222.1,1173.7 L222.2,1175.2 L222.4,1176.6 L222.5,1178.0 L222.6,1179.6 L222.8,1181.3 L222.9,1182.8 L223.0,1184.6 L223.2,1186.2 L223.3,1187.6 L223.5,1189.4 L223.6,1191.0 L223.8,1192.4 L223.9,1193.8 L224.0,1195.5 L224.2,1197.6 L224.3,1199.5 L224.5,1200.8 L224.6,1202.6 L224.8,1203.9 L224.9,1205.1 L225.0,1207.1 L225.2,1209.1 L225.3,1210.9 L225.5,1213.0 L225.6,1214.3 L225.8,1215.8 L225.9,1217.3 L226.0,1218.7 L226.2,1219.4 L226.3,1221.2 L226.5,1223.1 L226.6,1224.9 L226.7,1226.5 L226.9,1228.2 L227.0,1229.6 L227.1,1231.0 L227.2,1232.5 L227.4,1234.5 L227.5,1236.6 L227.6,1238.3 L227.7,1239.7 L227.8,1240.5 L227.9,1241.5 L228.0,1243.0 L228.2,1245.2 L228.3,1247.4 L228.4,1248.9 L228.5,1250.3 L228.7,1251.9 L228.8,1254.7 L229.0,1255.8 L229.1,1257.6 L229.2,1258.5 L229.4,1260.1 L229.5,1261.5 L229.7,1262.5 L229.9,1263.7 L230.0,1265.1 L230.2,1267.3 L230.4,1269.6 L230.6,1271.1 L230.8,1272.5 L231.0,1274.4 L231.2,1275.5 L231.5,1277.0 L231.7,1278.2 L232.0,1279.8 L232.3,1281.8 L232.6,1282.8 L232.9,1283.9 L233.3,1286.0 L233.6,1288.2 L233.9,1289.6 L234.3,1291.8 L234.7,1293.5 L235.0,1295.0 L235.4,1297.1 L235.8,1298.6 L236.2,1299.0 L236.6,1301.1 L237.1,1302.7 L237.5,1304.0 L238.0,1305.9 L238.5,1307.4 L239.0,1308.8 L239.6,1310.9 L240.2,1312.2 L240.8,1313.8 L241.6,1314.7 L242.3,1315.7 L243.2,1317.6 L244.1,1318.8 L245.1,1319.3 L246.1,1320.3 L247.1,1322.3 L248.3,1324.0 L249.5,1325.2 L250.7,1325.9 L252.0,1326.6 L253.3,1327.5 L254.5,1328.5 L255.7,1329.6 L256.9,1330.1 L258.0,1330.9 L259.2,1332.3 L260.5,1333.3 L261.9,1333.6 L263.4,1334.2 L265.0,1335.2 L266.6,1334.8 L268.2,1334.1 L269.8,1334.5 L271.4,1334.2 L272.9,1335.3 L274.5,1336.1 L276.0,1336.4 L277.5,1336.6 L279.0,1337.1 L280.6,1338.0 L282.1,1338.2 L283.7,1338.7 L285.3,1338.4 L286.9,1338.6 L288.5,1339.1 L290.1,1339.0 L291.7,1339.0 L293.3,1339.2 L294.9,1339.3 L296.5,1339.3 L298.1,1339.6 L299.8,1339.7 L301.4,1340.0 L303.0,1340.1 L304.5,1340.5 L306.0,1340.9 L307.5,1340.7 L308.9,1341.2 L310.3,1342.2 L311.7,1342.9 L313.0,1342.9 L314.4,1342.0 L315.8,1341.5 L317.1,1340.7 L318.6,1339.5 L320.1,1339.9 L321.6,1340.3 L323.2,1339.7 L324.8,1339.2 L326.4,1339.2 L328.0,1339.2 L329.6,1338.6 L331.2,1337.9 L332.8,1339.0 L334.4,1338.6 L335.9,1338.3 L337.4,1338.3 L338.9,1337.5 L340.4,1336.5 L341.9,1336.1 L343.5,1336.0 L345.0,1335.7 L346.6,1335.3 L348.2,1335.5 L349.8,1335.3 L351.4,1334.5 L352.9,1334.2 L354.3,1334.8 L355.8,1335.4 L357.1,1335.7 L358.5,1336.5 L359.9,1337.7 L361.3,1338.7 L362.7,1339.8 L364.2,1340.6 L365.7,1341.8 L367.2,1341.8 L368.7,1341.8 L370.1,1342.6 L371.6,1343.3 L373.0,1343.8 L374.4,1345.3 L375.9,1346.2 L377.3,1346.8 L378.7,1347.2 L380.1,1347.6 L381.5,1348.2 L382.9,1348.4 L384.3,1348.6 L385.8,1348.0 L387.2,1347.6 L388.7,1347.8 L390.2,1347.7 L391.8,1347.5 L393.4,1347.4 L395.0,1347.5 L396.6,1346.9 L398.2,1346.8 L399.8,1346.1 L401.5,1345.8 L403.1,1346.0 L404.7,1346.5 L406.3,1347.3 L407.9,1346.9 L409.4,1347.0 L410.9,1348.2 L412.3,1348.6 L413.7,1348.8 L415.0,1350.3 L416.3,1351.6 L417.6,1352.3 L418.9,1353.9 L420.2,1354.8 L421.5,1355.0 L422.8,1355.8 L424.1,1356.0 L425.4,1357.4 L426.8,1358.7 L428.1,1360.0 L429.5,1360.6 L430.9,1361.7 L432.2,1362.0 L433.6,1362.6 L435.1,1363.4 L436.5,1364.2 L438.0,1364.7 L439.5,1365.8 L441.0,1366.5 L442.5,1367.6 L444.1,1367.3 L445.7,1367.2 L447.3,1367.6 L448.9,1367.5 L450.5,1367.9 L452.1,1367.8 L453.6,1368.1 L455.2,1368.3 L456.8,1368.5 L458.4,1368.4 L460.0,1368.7 L461.5,1369.7 L463.1,1370.0 L464.7,1369.8 L466.3,1369.6 L467.9,1370.3 L469.5,1370.3 L471.0,1370.7 L472.6,1371.3 L474.2,1371.2 L475.8,1371.2 L477.4,1371.3 L479.0,1371.3 L480.6,1371.6 L482.2,1372.1 L483.8,1372.4 L485.4,1372.2 L487.0,1371.8 L488.6,1372.0 L490.2,1372.0 L491.8,1372.0 L493.4,1372.3 L495.0,1372.4 L496.6,1372.3 L498.2,1372.5 L499.8,1372.8 L501.4,1372.5 L503.0,1372.2 L504.6,1372.2 L506.2,1371.9 L507.8,1371.8 L509.4,1371.9 L511.0,1372.1 L512.6,1372.3 L514.2,1372.7 L515.8,1373.3 L517.4,1373.7 L519.0,1373.5 L520.6,1374.2 L522.2,1374.4 L523.8,1374.3 L525.4,1374.0 L527.0,1374.2 L528.6,1374.5 L530.2,1374.4 L531.8,1374.2 L533.4,1374.5 L535.0,1374.8 L536.6,1374.8 L538.2,1374.7 L539.8,1374.4 L541.4,1374.7 L543.0,1374.9 L544.6,1374.8 L546.2,1375.0 L547.8,1375.1 L549.4,1375.1 L551.0,1375.2 L552.6,1375.4 L554.2,1375.5 L555.8,1375.6 L557.4,1375.7 L559.0,1375.8 L560.6,1375.3 L562.2,1375.0 L563.8,1375.3 L565.4,1375.4 L567.0,1376.1 L568.6,1376.2 L570.2,1376.2 L571.8,1376.1 L573.4,1376.0 L575.0,1376.4 L576.7,1376.4 L578.3,1376.1 L579.9,1376.5 L581.5,1376.2 L583.1,1376.2 L584.7,1376.8 L586.3,1376.5 L587.9,1376.5 L589.5,1376.8 L591.1,1376.3 L592.7,1376.6 L594.3,1377.7 L595.9,1378.1 L597.5,1377.5 L599.1,1377.2 L600.7,1377.1 L602.3,1377.8 L603.9,1377.3 L605.5,1376.9 L607.1,1377.8 L608.7,1378.2 L610.3,1378.1 L611.9,1378.5 L613.5,1378.6 L615.1,1377.9 L616.7,1378.0 L618.3,1378.0 L619.9,1378.7 L621.5,1378.8 L623.1,1378.6 L624.7,1378.8 L626.3,1378.8 L627.9,1379.0 L629.5,1379.0 L631.1,1379.6 L632.7,1380.1 L634.3,1379.8 L635.9,1379.7 L637.5,1379.5 L639.1,1379.2 L640.7,1379.4 L642.3,1379.7 L643.9,1379.8 L645.5,1379.6 L647.1,1379.8 L648.7,1380.3 L650.3,1380.3 L651.9,1380.1 L653.5,1379.7 L655.1,1379.9 L656.7,1379.6 L658.3,1380.2 L659.9,1380.5 L661.5,1380.6 L663.1,1380.6 L664.7,1380.8 L666.3,1380.7 L667.9,1380.7 L669.5,1381.1 L671.1,1380.9 L672.7,1380.7 L674.3,1380.5 L675.9,1380.2 L677.5,1380.4 L679.1,1380.5 L680.7,1380.5 L682.3,1380.8 L683.9,1381.3 L685.5,1381.1 L687.1,1380.9 L688.7,1380.9 L690.3,1381.3 L691.9,1381.4 L693.5,1381.6 L695.1,1381.4 L696.7,1381.4 L698.3,1381.3 L699.9,1381.3 L701.5,1381.4 L703.1,1381.5 L704.7,1381.3 L706.3,1380.9 L707.9,1380.8 L709.5,1381.1 L711.1,1381.3 L712.7,1381.6 L714.3,1381.8 L715.9,1382.0 L717.5,1382.0 L719.1,1382.2 L720.7,1382.2 L722.3,1382.1 L723.9,1381.5 L725.5,1381.0 L727.1,1381.2 L728.7,1381.5 L730.3,1381.3 L731.9,1381.3 L733.5,1381.3 L735.1,1381.6 L736.7,1381.8 L738.3,1381.6 L739.9,1381.9 L741.5,1382.2 L743.1,1382.2 L744.8,1382.2 L746.4,1382.2 L748.0,1382.5 L749.6,1382.4 L751.2,1382.0 L752.8,1381.9 L754.4,1382.0 L756.0,1382.3 L757.6,1382.1 L759.2,1381.9 L760.8,1382.4 L762.4,1382.5 L764.0,1382.4 L765.6,1382.4 L767.2,1382.5 L768.8,1382.4 L770.4,1382.3 L772.0,1382.7 L773.6,1382.6 L775.2,1382.8 L776.8,1382.4 L778.4,1382.3 L780.0,1382.5 L781.6,1382.8 L783.2,1383.0 L784.8,1383.0 L786.4,1383.3 L788.0,1383.5 L789.6,1383.5 L791.2,1383.1 L792.8,1382.8 L794.4,1382.6 L796.0,1382.7 L797.6,1382.9 L799.2,1382.7 L800.8,1383.0 L802.4,1383.4 L804.0,1383.1 L805.6,1382.9 L807.2,1383.4 L808.8,1383.5 L810.4,1383.5 L812.0,1383.5 L813.6,1383.3 L815.2,1383.5 L816.8,1383.6 L818.4,1383.3 L820.0,1383.6 L821.6,1383.7 L823.2,1383.7 L824.8,1383.8 L826.4,1383.5 L828.0,1383.7 L829.6,1383.6 L831.3,1383.7 L832.9,1383.9 L834.5,1383.8 L836.1,1383.4 L837.7,1383.4 L839.3,1383.5 L840.9,1383.8 L842.5,1384.1 L844.1,1384.3 L845.7,1384.2 L847.3,1384.0 L848.9,1384.0 L850.5,1384.4 L852.1,1384.2 L853.7,1383.9 L855.3,1384.0 L856.9,1384.5 L858.5,1384.4 L860.1,1384.1 L861.7,1384.5 L863.3,1384.5 L864.9,1384.3 L866.5,1384.4 L868.1,1385.1 L869.7,1385.0 L871.3,1384.8 L872.9,1384.9 L874.5,1384.9 L876.1,1384.7 L877.7,1384.9 L879.3,1384.7 L880.9,1384.4 L882.5,1384.5 L884.1,1384.6 L885.7,1384.7 L887.3,1384.8 L888.9,1384.9 L890.5,1384.7 L892.1,1384.6 L893.7,1384.6 L895.3,1384.9 L896.9,1384.9 L898.5,1385.2 L900.1,1384.8 L901.7,1385.0 L903.3,1385.3 L904.9,1384.9 L906.5,1384.7 L908.1,1384.8 L909.7,1385.1 L911.3,1385.2 L912.9,1385.5 L914.5,1385.6 L916.1,1385.2 L917.7,1385.3 L919.4,1385.3 L921.0,1384.9 L922.6,1385.2 L924.2,1385.5 L925.8,1385.6 L927.4,1385.9 L929.0,1386.0 L930.6,1385.8 L932.2,1386.1 L933.8,1385.7 L935.4,1385.7 L937.0,1385.8 L938.6,1385.6 L940.2,1386.0 L941.8,1386.1 L943.4,1386.3 L945.0,1386.5 L946.6,1386.4 L948.2,1386.3 L949.8,1385.9 L951.4,1386.0 L953.0,1386.4 L954.6,1386.0 L956.2,1385.6 L957.8,1385.6 L959.4,1385.6 L961.0,1385.6 L962.6,1385.8 L964.2,1385.3 L965.8,1385.5 L967.4,1385.5 L969.0,1385.6 L970.6,1385.7 L972.2,1385.8 L973.8,1386.1 L975.4,1386.1 L977.0,1386.2 L978.6,1386.5 L980.2,1386.4 L981.8,1386.4 L983.4,1386.3 L985.0,1386.3 L986.6,1386.8 L988.2,1387.3 L989.8,1386.9 L991.4,1386.5 L993.0,1386.2 L994.6,1386.1 L996.2,1386.3 L997.8,1386.5 L999.4,1386.8 L1001.1,1386.8 L1002.7,1386.9 L1004.3,1387.0 L1005.9,1387.0 L1007.5,1386.7 L1009.1,1386.9 L1010.7,1386.8 L1012.3,1386.5 L1013.9,1386.5 L1015.5,1386.9 L1017.1,1386.7 L1018.7,1386.4 L1020.3,1386.7 L1021.9,1386.9 L1023.5,1386.9 L1025.1,1387.1 L1026.7,1386.7 L1028.3,1386.5 L1029.9,1386.9 L1031.5,1387.0 L1033.1,1387.1 L1034.7,1387.3 L1036.3,1387.3 L1037.9,1387.2 L1039.5,1387.3 L1041.1,1387.2 L1042.7,1387.1 L1044.3,1387.1 L1045.9,1387.1 L1047.5,1386.9 L1049.1,1386.8 L1050.7,1386.9 L1052.3,1386.9 L1053.9,1387.1 L1055.5,1387.6 L1057.1,1387.3 L1058.7,1387.3 L1060.3,1387.0 L1061.9,1387.2 L1063.5,1387.6 L1065.1,1387.5 L1066.7,1387.3 L1068.3,1387.4 L1069.9,1387.2 L1071.5,1386.9 L1073.1,1386.9 L1074.7,1387.0 L1076.3,1387.6 L1077.9,1387.9 L1079.5,1387.9 L1081.2,1387.5 L1082.8,1387.2 L1084.4,1387.2 L1086.0,1387.5 L1087.6,1387.5 L1089.2,1387.3 L1090.8,1387.6 L1092.4,1387.8 L1094.0,1387.7 L1095.6,1387.4 L1097.2,1387.1 L1098.8,1387.4 L1100.4,1387.5 L1102.0,1387.5 L1103.6,1387.6 L1105.2,1387.7 L1106.8,1387.8 L1108.4,1387.8 L1110.0,1387.7 L1111.6,1387.6 L1113.2,1387.6 L1114.7,1388.0 L1116.0,1388.1 L1117.0,1388.3" stroke="#0000ff"/>
<path d="M125.4,1125.2 L126.8,1124.3 L128.2,1123.4 L129.6,1122.4 L130.9,1121.8 L132.3,1121.0 L133.5,1120.0 L134.8,1119.2 L136.0,1118.1 L137.2,1116.9 L138.3,1115.7 L139.5,1114.6 L140.6,1113.6 L141.8,1112.4 L143.0,1111.1 L144.2,1110.1 L145.4,1109.3 L146.5,1108.3 L147.7,1107.1 L148.8,1105.9 L149.9,1104.8 L150.9,1103.6 L151.9,1102.4 L152.9,1101.2 L153.8,1099.8 L154.7,1098.4 L155.5,1097.0 L156.4,1095.5 L157.2,1094.2 L158.0,1092.8 L158.8,1091.4 L159.6,1090.0 L160.3,1088.6 L161.0,1087.2 L161.8,1085.8 L162.5,1084.4 L163.1,1083.0 L163.8,1081.6 L164.5,1079.9 L165.1,1078.6 L165.7,1077.0 L166.3,1075.4 L166.9,1074.0 L167.5,1072.6 L168.0,1071.2 L168.6,1069.6 L169.1,1068.2 L169.7,1066.7 L170.3,1065.0 L170.8,1063.5 L171.4,1062.2 L171.9,1060.7 L172.5,1059.2 L173.0,1057.6 L173.6,1056.0 L174.1,1054.6 L174.7,1053.1 L175.3,1051.4 L175.9,1050.0 L176.6,1048.6 L177.3,1047.1 L178.1,1045.9 L178.9,1044.3 L179.5,1042.9 L180.1,1041.6 L180.5,1039.8 L181.0,1038.3 L181.4,1036.9 L181.8,1035.1 L182.1,1033.6 L182.5,1032.2 L182.8,1030.6 L183.1,1029.1 L183.4,1027.5 L183.7,1026.0 L184.0,1024.4 L184.3,1022.8 L184.6,1021.1 L184.8,1019.4 L185.0,1017.8 L185.2,1016.3 L185.5,1014.6 L185.6,1013.2 L185.8,1011.7 L186.0,1009.9 L186.1,1008.2 L186.3,1006.6 L186.4,1005.1 L186.6,1003.4 L186.7,1001.8 L186.9,1000.2 L187.0,998.7 L187.2,997.3 L187.4,995.5 L187.6,994.0 L187.8,992.4 L188.0,990.8 L188.2,989.1 L188.4,987.6 L188.6,986.1 L188.8,984.5 L189.1,982.8 L189.3,981.0 L189.5,979.5 L189.8,978.0 L190.0,976.4 L190.3,974.9 L190.5,973.5 L190.8,972.0 L191.1,970.3 L191.4,968.7 L191.6,966.8 L191.9,965.1 L192.2,963.8 L192.5,962.2 L192.8,960.7 L193.1,959.2 L193.4,957.6 L193.7,956.0 L194.0,954.4 L194.4,952.7 L194.7,951.3 L195.0,949.8 L195.4,948.4 L195.7,946.6 L196.1,945.0 L196.4,943.5 L196.7,942.0 L197.1,940.6 L197.4,938.9 L197.8,937.2 L198.1,935.7 L198.5,934.1 L198.8,932.4 L199.2,930.9 L199.6,929.5 L199.9,928.0 L200.3,926.2 L200.6,924.5 L200.9,922.8 L201.4,921.2 L202.2,920.1 L203.5,919.3 L204.2,919.8 L204.8,921.2 L205.2,923.2 L205.6,925.3 L205.8,926.9 L206.1,928.5 L206.2,930.2 L206.4,931.8 L206.5,933.3 L206.6,934.8 L206.8,936.4 L206.9,938.1 L207.1,939.8 L207.3,941.4 L207.5,943.0 L207.8,944.4 L208.0,946.0 L208.3,947.7 L208.6,949.2 L208.9,950.8 L209.1,952.3 L209.4,954.0 L209.7,955.8 L209.9,957.5 L210.2,959.0 L210.4,960.5 L210.7,962.0 L210.9,963.5 L211.1,965.2 L211.4,966.7 L211.5,968.2 L211.7,969.9 L211.9,971.6 L212.0,973.2 L212.1,974.7 L212.2,976.2 L212.3,977.8 L212.4,979.4 L212.5,981.3 L212.6,982.8 L212.7,984.4 L212.8,985.9 L213.0,987.3 L213.1,988.9 L213.2,990.7 L213.4,992.4 L213.6,993.8 L213.7,995.3 L213.9,996.9 L214.1,998.3 L214.2,999.9 L214.4,1001.6 L214.6,1003.3 L214.7,1004.9 L214.9,1006.7 L215.0,1008.2 L215.1,1009.8 L215.2,1011.5 L215.4,1013.1 L215.5,1014.4 L215.6,1016.1 L215.7,1017.8 L215.8,1019.2 L216.0,1020.8 L216.1,1022.3 L216.2,1023.9 L216.3,1025.6 L216.4,1027.4 L216.6,1029.2 L216.7,1030.9 L216.8,1032.3 L216.9,1033.7 L217.0,1035.3 L217.2,1036.9 L217.3,1038.5 L217.4,1040.0 L217.5,1041.5 L217.7,1043.2 L217.8,1044.7 L217.9,1046.4 L218.1,1048.2 L218.2,1049.9 L218.4,1051.5 L218.5,1052.8 L218.7,1054.6 L218.8,1056.3 L218.9,1057.8 L219.1,1059.4 L219.2,1061.0 L219.4,1062.7 L219.5,1064.2 L219.6,1065.6 L219.8,1067.1 L219.9,1068.7 L220.0,1070.3 L220.2,1072.1 L220.3,1073.8 L220.4,1075.6 L220.6,1077.3 L220.7,1078.7 L220.8,1080.1 L220.9,1081.6 L221.1,1083.1 L221.2,1084.7 L221.3,1086.3 L221.5,1087.8 L221.6,1089.6 L221.7,1091.3 L221.9,1092.8 L222.0,1094.6 L222.1,1096.6 L222.3,1098.1 L222.4,1099.0 L222.5,1100.4 L222.7,1102.0 L222.8,1103.7 L223.0,1105.9 L223.1,1107.5 L223.2,1109.4 L223.4,1111.0 L223.5,1112.0 L223.7,1113.5 L223.8,1115.3 L223.9,1117.2 L224.1,1118.6 L224.2,1120.3 L224.4,1122.1 L224.5,1123.7 L224.7,1124.8 L224.8,1125.6 L225.0,1127.0 L225.1,1129.3 L225.3,1130.7 L225.4,1131.7 L225.6,1133.4 L225.7,1135.1 L225.9,1136.7 L226.0,1138.9 L226.2,1140.5 L226.4,1142.4 L226.5,1144.6 L226.7,1146.2 L226.9,1148.0 L227.1,1149.5 L227.3,1150.7 L227.5,1152.4 L227.7,1154.3 L227.9,1155.4 L228.1,1157.0 L228.3,1158.0 L228.6,1159.9 L228.8,1161.4 L229.1,1162.4 L229.3,1163.7 L229.6,1166.4 L229.9,1167.5 L230.2,1168.9 L230.5,1171.0 L230.8,1172.7 L231.1,1174.3 L231.5,1175.4 L231.9,1176.6 L232.3,1178.5 L232.7,1179.6 L233.2,1181.3 L233.6,1183.3 L234.1,1185.1 L234.6,1186.0 L235.2,1187.1 L235.7,1188.3 L236.3,1189.3 L237.0,1191.1 L237.6,1192.8 L238.4,1194.4 L239.1,1196.4 L239.9,1198.1 L240.8,1200.1 L241.7,1201.1 L242.6,1201.1 L243.6,1202.6 L244.6,1204.0 L245.7,1205.7 L246.9,1207.0 L248.1,1208.3 L249.4,1209.2 L250.8,1210.0 L252.2,1209.9 L253.7,1209.6 L255.2,1210.4 L256.7,1211.3 L258.1,1212.1 L259.5,1213.2 L260.9,1215.1 L262.1,1216.0 L263.4,1217.2 L264.7,1217.8 L266.1,1218.5 L267.5,1218.1 L269.1,1218.4 L270.7,1218.4 L272.3,1219.4 L273.9,1220.1 L275.5,1219.6 L277.0,1220.0 L278.6,1220.9 L280.1,1221.0 L281.5,1221.2 L283.0,1222.6 L284.4,1223.6 L285.8,1224.8 L287.1,1225.3 L288.5,1225.0 L289.9,1225.4 L291.4,1225.4 L292.9,1224.0 L294.4,1223.5 L295.9,1223.7 L297.5,1223.8 L299.0,1223.6 L300.6,1223.5 L302.2,1224.8 L303.8,1224.7 L305.4,1224.8 L307.0,1225.0 L308.6,1224.9 L310.2,1224.4 L311.8,1224.5 L313.4,1224.6 L315.0,1223.5 L316.6,1223.1 L318.2,1224.1 L319.8,1224.5 L321.4,1224.7 L323.1,1224.9 L324.6,1224.3 L326.2,1224.5 L327.8,1224.9 L329.4,1225.1 L330.9,1224.5 L332.5,1223.1 L334.0,1222.3 L335.5,1222.0 L337.1,1221.7 L338.7,1222.3 L340.2,1222.1 L341.8,1221.8 L343.4,1221.9 L345.0,1222.6 L346.6,1222.1 L348.2,1221.7 L349.8,1222.0 L351.4,1222.1 L352.9,1222.9 L354.4,1223.7 L355.8,1224.0 L357.2,1225.0 L358.4,1226.0 L359.6,1227.1 L360.8,1227.7 L361.9,1228.4 L363.0,1229.4 L364.1,1230.9 L365.2,1232.0 L366.4,1233.7 L367.6,1234.9 L368.8,1235.9 L370.2,1236.3 L371.6,1236.7 L373.1,1237.5 L374.7,1238.5 L376.3,1238.5 L377.9,1238.2 L379.5,1238.0 L381.1,1238.3 L382.7,1238.0 L384.3,1239.6 L385.9,1239.7 L387.5,1239.4 L389.1,1238.8 L390.7,1239.0 L392.4,1239.7 L394.0,1239.9 L395.6,1240.3 L397.3,1240.7 L398.9,1240.1 L400.5,1238.9 L402.1,1238.9 L403.6,1239.1 L405.0,1239.3 L406.4,1239.4 L407.7,1240.3 L409.0,1241.9 L410.3,1243.2 L411.6,1244.4 L413.0,1245.1 L414.4,1245.8 L415.9,1245.3 L417.4,1245.9 L418.8,1247.2 L420.2,1247.8 L421.5,1248.5 L422.7,1250.2 L424.0,1251.7 L425.3,1252.6 L426.7,1252.8 L428.2,1253.4 L429.8,1254.0 L431.3,1254.3 L432.9,1254.7 L434.6,1254.5 L436.1,1254.4 L437.7,1254.0 L439.3,1255.5 L440.8,1256.7 L442.4,1257.1 L443.9,1257.7 L445.5,1257.7 L447.0,1258.3 L448.6,1258.6 L450.1,1259.4 L451.7,1259.6 L453.3,1258.9 L454.9,1259.0 L456.4,1259.7 L458.0,1260.9 L459.7,1260.5 L461.3,1260.4 L462.9,1260.5 L464.5,1260.5 L466.1,1260.2 L467.7,1259.9 L469.2,1260.4 L470.8,1261.4 L472.4,1261.2 L474.0,1260.7 L475.6,1260.6 L477.2,1261.3 L478.8,1261.8 L480.4,1262.2 L482.0,1262.8 L483.6,1262.4 L485.2,1262.3 L486.8,1262.5 L488.4,1262.2 L490.0,1262.3 L491.6,1261.9 L493.2,1261.9 L494.8,1262.4 L496.4,1262.9 L498.0,1263.4 L499.6,1263.5 L501.2,1263.6 L502.8,1264.0 L504.4,1264.1 L506.0,1263.5 L507.6,1263.6 L509.2,1263.9 L510.8,1264.5 L512.4,1264.5 L514.0,1265.0 L515.6,1264.7 L517.1,1265.3 L518.7,1265.8 L520.3,1265.6 L521.9,1265.6 L523.5,1264.7 L525.1,1265.0 L526.7,1265.3 L528.3,1265.2 L529.9,1265.2 L531.5,1265.9 L533.1,1265.6 L534.7,1266.5 L536.3,1266.7 L537.9,1266.7 L539.5,1266.3 L541.1,1266.0 L542.7,1266.3 L544.3,1266.7 L545.9,1267.1 L547.5,1267.1 L549.1,1267.4 L550.7,1267.8 L552.3,1267.8 L553.9,1266.8 L555.5,1267.2 L557.1,1267.9 L558.7,1268.1 L560.3,1268.0 L561.9,1268.1 L563.5,1268.2 L565.1,1268.0 L566.7,1267.6 L568.3,1267.3 L569.9,1267.2 L571.5,1267.8 L573.1,1268.4 L574.7,1268.2 L576.3,1268.9 L577.9,1269.4 L579.5,1269.3 L581.1,1269.7 L582.7,1269.5 L584.3,1269.9 L585.9,1269.7 L587.5,1269.5 L589.1,1270.3 L590.7,1270.8 L592.3,1270.2 L593.9,1270.1 L595.5,1269.8 L597.1,1269.7 L598.7,1270.0 L600.3,1270.0 L601.9,1270.2 L603.5,1270.3 L605.1,1269.9 L606.7,1270.1 L608.3,1270.9 L610.0,1271.6 L611.6,1271.0 L613.2,1270.8 L614.8,1271.3 L616.4,1271.7 L618.0,1271.3 L619.6,1271.3 L621.2,1271.6 L622.8,1271.9 L624.4,1271.9 L626.0,1270.9 L627.6,1270.6 L629.2,1271.2 L630.8,1271.3 L632.4,1270.7 L634.0,1271.1 L635.6,1271.6 L637.2,1271.6 L638.8,1271.9 L640.4,1272.1 L642.0,1272.4 L643.6,1272.5 L645.2,1272.6 L646.8,1272.8 L648.4,1272.4 L650.0,1272.4 L651.6,1272.6 L653.2,1272.2 L654.8,1272.0 L656.4,1272.0 L658.0,1272.3 L659.6,1273.1 L661.2,1273.3 L662.8,1273.6 L664.4,1273.5 L666.0,1273.3 L667.6,1273.2 L669.2,1273.4 L670.8,1273.5 L672.4,1273.6 L674.0,1273.4 L675.6,1273.5 L677.2,1273.5 L678.8,1273.3 L680.4,1273.3 L682.0,1273.5 L683.6,1273.6 L685.2,1273.6 L686.8,1273.6 L688.4,1273.6 L690.0,1273.8 L691.6,1273.6 L693.2,1273.4 L694.8,1273.8 L696.4,1274.1 L698.0,1274.0 L699.6,1273.9 L701.2,1274.2 L702.9,1274.3 L704.5,1274.5 L706.1,1274.6 L707.7,1274.5 L709.3,1274.5 L710.9,1274.5 L712.5,1274.7 L714.1,1274.8 L715.7,1274.6 L717.3,1274.5 L718.9,1274.3 L720.5,1274.5 L722.1,1274.6 L723.7,1275.4 L725.3,1275.4 L726.9,1274.7 L728.5,1274.5 L730.1,1275.1 L731.7,1274.9 L733.3,1274.9 L734.9,1274.8 L736.5,1275.0 L738.1,1275.1 L739.7,1275.3 L741.3,1275.3 L742.9,1275.5 L744.5,1275.2 L746.1,1275.4 L747.7,1275.3 L749.3,1275.1 L750.9,1274.7 L752.5,1274.7 L754.1,1275.3 L755.7,1275.2 L757.3,1275.3 L758.9,1275.4 L760.5,1275.3 L762.1,1275.4 L763.8,1275.2 L765.4,1275.3 L767.0,1275.8 L768.6,1275.7 L770.2,1276.0 L771.8,1276.3 L773.4,1276.4 L775.0,1276.0 L776.6,1275.4 L778.2,1275.5 L779.8,1275.7 L781.4,1276.0 L783.0,1276.0 L784.6,1275.9 L786.2,1276.1 L787.8,1276.1 L789.4,1276.3 L791.0,1276.4 L792.6,1276.6 L794.2,1276.5 L795.8,1276.5 L797.4,1276.4 L799.0,1276.4 L800.6,1276.3 L802.2,1276.3 L803.8,1276.2 L805.4,1276.1 L807.0,1276.1 L808.6,1276.2 L810.2,1276.3 L811.8,1276.1 L813.4,1276.5 L815.0,1276.2 L816.6,1276.5 L818.2,1276.7 L819.8,1276.9 L821.5,1276.8 L823.1,1276.6 L824.7,1276.6 L826.3,1276.9 L827.9,1277.2 L829.5,1276.8 L831.1,1276.4 L832.7,1276.7 L834.3,1277.2 L835.9,1277.6 L837.5,1276.8 L839.1,1276.7 L840.7,1277.0 L842.3,1277.1 L843.9,1277.0 L845.5,1277.3 L847.1,1277.1 L848.7,1277.4 L850.3,1277.7 L851.9,1277.2 L853.5,1277.3 L855.1,1277.7 L856.7,1277.3 L858.3,1277.1 L859.9,1277.4 L861.5,1277.6 L863.1,1277.3 L864.7,1277.3 L866.3,1277.2 L867.9,1277.4 L869.5,1277.8 L871.1,1277.6 L872.7,1277.5 L874.3,1277.5 L875.9,1277.2 L877.5,1277.2 L879.2,1277.6 L880.8,1277.6 L882.4,1277.4 L884.0,1277.7 L885.6,1278.1 L887.2,1278.0 L888.8,1277.9 L890.4,1277.7 L892.0,1277.7 L893.6,1277.6 L895.2,1278.0 L896.8,1278.0 L898.4,1278.1 L900.0,1277.9 L901.6,1278.0 L903.2,1277.7 L904.8,1277.9 L906.4,1278.1 L908.0,1278.1 L909.6,1277.8 L911.2,1277.6 L912.8,1278.1 L914.4,1278.3 L916.0,1278.4 L917.6,1278.2 L919.2,1277.9 L920.8,1278.2 L922.4,1278.6 L924.0,1278.2 L925.6,1278.2 L927.2,1278.3 L928.8,1278.6 L930.4,1278.2 L932.0,1277.8 L933.7,1277.6 L935.3,1277.4 L936.9,1277.1 L938.5,1277.2 L940.1,1277.6 L941.7,1277.8 L943.3,1278.0 L944.9,1278.0 L946.5,1278.3 L948.1,1278.5 L949.7,1278.0 L951.3,1277.9 L952.9,1278.5 L954.5,1278.8 L956.1,1278.1 L957.7,1277.7 L959.3,1277.9 L960.9,1278.0 L962.5,1278.2 L964.1,1278.0 L965.7,1278.2 L967.3,1278.3 L968.9,1278.1 L970.5,1278.2 L972.1,1278.6 L973.7,1278.6 L975.3,1278.4 L976.9,1278.7 L978.5,1278.7 L980.1,1278.5 L981.7,1278.5 L983.3,1278.5 L984.9,1278.6 L986.5,1278.6 L988.2,1278.4 L989.8,1278.0 L991.4,1278.2 L993.0,1278.2 L994.6,1278.2 L996.2,1278.4 L997.8,1278.2 L999.4,1278.5 L1001.0,1278.3 L1002.6,1278.1 L1004.2,1278.4 L1005.8,1279.1 L1007.4,1279.0 L1009.0,1278.6 L1010.6,1278.8 L1012.2,1278.9 L1013.8,1278.4 L1015.4,1278.4 L1017.0,1278.7 L1018.6,1278.6 L1020.2,1278.6 L1021.8,1279.0 L1023.4,1279.0 L1025.0,1279.3 L1026.6,1279.6 L1028.2,1279.4 L1029.8,1279.6 L1031.4,1279.1 L1033.0,1278.8 L1034.6,1278.9 L1036.2,1279.1 L1037.8,1279.1 L1039.4,1278.8 L1041.1,1278.3 L1042.7,1278.2 L1044.3,1278.4 L1045.9,1278.5 L1047.5,1278.4 L1049.1,1277.7 L1050.7,1278.1 L1052.3,1278.4 L1053.9,1278.6 L1055.5,1278.8 L1057.1,1278.6 L1058.7,1278.6 L1060.3,1279.2 L1061.9,1279.2 L1063.5,1279.0 L1065.1,1278.9 L1066.7,1278.7 L1068.3,1278.7 L1069.9,1279.1 L1071.5,1278.9 L1073.1,1278.8 L1074.7,1279.0 L1076.3,1279.5 L1077.9,1279.4 L1079.5,1279.1 L1081.1,1279.1 L1082.7,1279.2 L1084.3,1279.0 L1085.9,1278.6 L1087.5,1278.6 L1089.1,1278.7 L1090.7,1278.9 L1092.4,1278.7 L1094.0,1278.4 L1095.6,1278.9 L1097.2,1278.8 L1098.8,1278.4 L1100.4,1278.7 L1102.0,1278.5 L1103.6,1278.3 L1105.2,1278.2 L1106.8,1278.1 L1108.4,1277.9 L1110.0,1277.8 L1111.6,1278.1 L1113.2,1278.4 L1114.7,1278.4 L1116.0,1278.4 L1117.0,1278.2" stroke="#ff00ff"/>
<path d="M125.4,1049.6 L126.5,1051.0 L127.7,1052.2 L128.9,1053.2 L130.3,1054.0 L131.7,1054.2 L133.2,1054.5 L134.9,1054.7 L136.6,1054.9 L138.2,1055.3 L139.7,1055.2 L141.1,1055.0 L142.5,1054.3 L143.8,1053.1 L145.0,1052.0 L146.2,1050.6 L147.4,1049.5 L148.5,1048.2 L149.6,1047.0 L150.6,1046.0 L151.6,1044.7 L152.5,1043.3 L153.5,1042.0 L154.4,1040.7 L155.3,1039.1 L156.1,1037.6 L156.9,1036.3 L157.7,1034.9 L158.5,1033.4 L159.3,1032.2 L160.0,1030.8 L160.8,1029.5 L161.6,1028.2 L162.4,1026.8 L163.2,1025.4 L164.0,1024.0 L164.8,1022.5 L165.6,1021.0 L166.4,1019.6 L167.2,1018.2 L168.0,1016.8 L168.7,1015.6 L169.4,1014.4 L170.2,1012.9 L170.8,1011.4 L171.5,1009.9 L172.2,1008.5 L172.8,1007.1 L173.5,1005.2 L174.1,1003.9 L174.7,1002.5 L175.4,1001.0 L176.0,999.5 L176.6,998.3 L177.2,996.7 L177.8,995.1 L178.4,993.6 L179.0,992.0 L179.6,990.5 L180.2,989.0 L180.8,987.6 L181.3,986.1 L181.8,984.5 L182.4,983.1 L182.9,981.6 L183.3,980.1 L183.8,978.4 L184.3,977.0 L184.7,975.4 L185.1,973.8 L185.6,972.4 L186.0,971.0 L186.4,969.5 L186.8,967.8 L187.2,966.5 L187.6,965.0 L188.0,963.2 L188.3,961.6 L188.7,959.9 L189.1,958.3 L189.4,956.6 L189.8,955.0 L190.1,953.6 L190.5,952.3 L190.8,950.8 L191.1,948.9 L191.4,947.2 L191.7,945.8 L192.0,944.3 L192.3,942.7 L192.6,941.0 L192.9,939.3 L193.2,937.8 L193.5,936.4 L193.7,934.8 L194.0,933.1 L194.3,931.6 L194.5,929.8 L194.8,928.2 L195.0,926.6 L195.2,924.9 L195.5,923.4 L195.7,922.0 L195.9,920.5 L196.2,918.9 L196.4,917.2 L196.6,915.6 L196.8,914.2 L197.0,912.9 L197.2,911.1 L197.4,909.5 L197.7,907.8 L197.9,906.4 L198.1,904.8 L198.3,903.1 L198.5,901.4 L198.7,899.8 L198.9,898.4 L199.1,896.7 L199.3,895.2 L199.5,893.9 L199.7,892.3 L199.8,890.5 L200.0,888.8 L200.2,887.1 L200.4,885.6 L200.6,883.9 L200.8,882.2 L201.0,880.8 L201.2,879.3 L201.4,877.6 L201.6,876.1 L201.8,874.6 L202.0,873.2 L202.2,871.4 L202.4,869.8 L202.6,868.2 L202.8,866.4 L203.0,864.8 L203.2,863.4 L203.4,862.0 L203.6,860.3 L203.8,858.5 L204.0,857.1 L204.1,855.6 L204.3,853.9 L204.5,852.4 L204.7,850.9 L204.9,849.1 L205.1,847.3 L205.3,845.6 L205.5,844.1 L205.7,842.5 L205.9,840.9 L206.1,839.3 L206.4,837.9 L206.6,836.5 L206.8,834.8 L207.1,833.1 L207.4,831.7 L207.6,830.0 L207.9,828.2 L208.2,826.7 L208.5,825.1 L208.8,823.6 L209.1,822.3 L209.4,820.7 L209.7,818.9 L210.0,817.3 L210.4,815.7 L210.9,814.1 L211.4,812.6 L212.3,811.0 L213.2,810.5 L214.1,811.3 L215.1,812.8 L215.9,814.7 L216.5,816.1 L216.9,817.5 L217.3,819.0 L217.7,820.6 L218.0,822.4 L218.3,824.1 L218.6,825.6 L218.8,827.0 L219.1,828.7 L219.3,830.4 L219.6,832.0 L219.8,833.4 L220.0,835.1 L220.2,836.5 L220.4,837.9 L220.6,839.6 L220.8,841.2 L220.9,842.8 L221.1,844.4 L221.3,846.0 L221.5,847.7 L221.6,849.2 L221.8,850.8 L222.0,852.5 L222.1,854.1 L222.3,855.7 L222.5,857.2 L222.6,858.9 L222.8,860.3 L222.9,862.0 L223.1,863.9 L223.2,865.6 L223.4,867.0 L223.5,868.8 L223.7,870.4 L223.8,871.9 L224.0,873.3 L224.1,874.6 L224.3,876.2 L224.4,878.0 L224.5,879.8 L224.7,881.3 L224.8,882.9 L224.9,884.4 L225.1,885.9 L225.2,887.6 L225.3,889.2 L225.5,890.9 L225.6,892.5 L225.8,894.0 L225.9,895.5 L226.0,897.1 L226.2,898.8 L226.3,900.3 L226.5,902.0 L226.6,903.7 L226.8,905.2 L226.9,906.9 L227.1,908.6 L227.2,910.1 L227.4,911.6 L227.5,913.1 L227.7,914.5 L227.8,916.2 L227.9,917.6 L228.1,919.1 L228.2,921.0 L228.3,922.7 L228.4,924.2 L228.6,926.0 L228.7,927.6 L228.8,929.1 L228.9,930.7 L229.0,932.4 L229.2,933.9 L229.3,935.5 L229.4,937.1 L229.5,938.6 L229.6,940.1 L229.7,941.8 L229.8,943.4 L230.0,945.1 L230.1,946.6 L230.2,948.4 L230.3,949.9 L230.4,951.4 L230.5,953.1 L230.6,954.8 L230.8,956.4 L230.9,958.1 L231.0,959.6 L231.1,960.9 L231.2,962.8 L231.3,964.9 L231.4,966.1 L231.5,967.3 L231.7,969.4 L231.8,971.5 L231.9,972.9 L232.0,974.1 L232.1,975.5 L232.2,977.1 L232.4,978.4 L232.5,980.0 L232.6,981.9 L232.7,983.3 L232.8,985.0 L232.9,986.2 L233.1,987.9 L233.2,989.8 L233.3,991.7 L233.4,993.0 L233.5,994.3 L233.6,995.8 L233.7,997.7 L233.8,999.5 L233.9,1000.8 L233.9,1002.6 L234.0,1003.9 L234.1,1005.2 L234.2,1007.0 L234.3,1008.4 L234.4,1009.1 L234.5,1011.8 L234.5,1014.2 L234.6,1015.6 L234.7,1017.5 L234.8,1019.2 L234.9,1020.5 L235.0,1022.0 L235.1,1024.0 L235.1,1025.6 L235.2,1026.9 L235.3,1028.3 L235.4,1029.5 L235.4,1031.4 L235.5,1033.4 L235.6,1035.0 L235.7,1036.7 L235.8,1038.8 L235.8,1040.1 L235.9,1041.2 L236.0,1041.9 L236.1,1043.4 L236.2,1045.0 L236.3,1047.0 L236.4,1049.6 L236.5,1051.6 L236.6,1052.4 L236.7,1053.8 L236.8,1055.2 L236.9,1056.9 L237.0,1058.9 L237.1,1060.1 L237.2,1061.4 L237.3,1063.4 L237.4,1064.9 L237.5,1066.6 L237.6,1068.3 L237.7,1070.2 L237.8,1071.8 L237.9,1073.4 L238.0,1074.5 L238.1,1075.9 L238.2,1077.6 L238.4,1079.2 L238.5,1081.0 L238.6,1082.9 L238.8,1085.0 L239.0,1086.0 L239.2,1087.6 L239.4,1089.4 L239.7,1091.3 L240.1,1092.2 L240.4,1093.5 L240.8,1096.0 L241.2,1097.6 L241.6,1098.8 L242.1,1100.1 L242.6,1102.1 L243.1,1103.3 L243.6,1104.3 L244.2,1105.7 L244.9,1107.4 L245.6,1109.5 L246.4,1110.4 L247.3,1111.2 L248.2,1112.8 L249.3,1114.8 L250.5,1115.8 L251.7,1116.1 L253.0,1116.7 L254.4,1117.7 L255.8,1118.7 L257.3,1119.1 L258.8,1119.6 L260.3,1120.4 L261.8,1120.7 L263.4,1120.8 L265.0,1120.9 L266.6,1121.3 L268.1,1121.9 L269.7,1122.6 L271.3,1122.8 L272.9,1122.7 L274.5,1123.1 L276.1,1122.8 L277.7,1123.3 L279.3,1123.2 L280.8,1123.8 L282.4,1124.7 L284.0,1124.8 L285.6,1124.3 L287.2,1124.3 L288.8,1124.2 L290.4,1124.5 L292.0,1124.7 L293.5,1124.6 L295.1,1125.0 L296.7,1124.7 L298.3,1124.2 L299.9,1123.4 L301.5,1123.1 L303.1,1123.2 L304.7,1123.2 L306.3,1123.0 L307.9,1122.4 L309.5,1122.1 L311.1,1122.5 L312.7,1123.8 L314.3,1123.8 L315.9,1123.3 L317.5,1122.5 L319.1,1122.6 L320.7,1122.0 L322.3,1121.5 L323.9,1120.9 L325.4,1120.7 L327.0,1121.2 L328.6,1121.1 L330.2,1120.5 L331.7,1119.4 L333.3,1118.6 L334.8,1118.5 L336.3,1118.9 L337.8,1118.6 L339.3,1117.1 L340.8,1116.0 L342.2,1114.8 L343.7,1114.3 L345.1,1114.1 L346.5,1113.2 L347.8,1112.9 L349.2,1112.4 L350.5,1110.9 L351.7,1109.6 L353.0,1109.5 L354.2,1108.3 L355.5,1107.0 L356.8,1106.0 L358.1,1105.2 L359.5,1104.6 L361.0,1103.5 L362.5,1103.1 L364.0,1102.7 L365.5,1102.9 L367.0,1103.3 L368.5,1103.5 L370.0,1104.3 L371.5,1104.3 L372.8,1104.8 L374.0,1106.3 L375.2,1107.8 L376.3,1109.1 L377.3,1110.1 L378.3,1111.1 L379.3,1112.2 L380.4,1112.7 L381.4,1114.5 L382.4,1115.8 L383.5,1117.2 L384.6,1118.5 L385.8,1119.8 L387.1,1119.6 L388.5,1120.3 L390.0,1121.5 L391.4,1122.3 L392.9,1122.2 L394.4,1123.1 L395.9,1123.3 L397.4,1122.1 L399.0,1121.0 L400.5,1121.4 L402.0,1120.8 L403.5,1120.3 L405.1,1120.3 L406.6,1119.7 L408.1,1118.6 L409.6,1117.9 L411.1,1117.2 L412.7,1117.0 L414.2,1116.7 L415.8,1116.5 L417.3,1116.2 L418.9,1116.5 L420.5,1117.0 L422.1,1117.4 L423.6,1117.3 L425.0,1117.2 L426.3,1118.5 L427.5,1119.4 L428.7,1121.1 L429.8,1122.2 L430.9,1123.3 L431.9,1124.8 L433.0,1126.7 L434.0,1127.6 L435.0,1129.5 L436.0,1131.5 L437.0,1133.1 L438.0,1133.5 L439.0,1133.6 L440.2,1134.3 L441.3,1135.3 L442.6,1136.5 L443.8,1138.5 L445.2,1139.1 L446.5,1139.4 L447.9,1140.6 L449.4,1141.3 L450.9,1141.9 L452.4,1141.8 L454.0,1141.5 L455.6,1142.3 L457.2,1143.0 L458.7,1143.1 L460.3,1143.1 L461.9,1143.0 L463.5,1143.6 L465.1,1144.6 L466.6,1145.3 L468.2,1145.3 L469.8,1145.7 L471.4,1146.3 L473.0,1145.4 L474.6,1145.2 L476.2,1145.2 L477.8,1145.8 L479.4,1146.6 L481.0,1146.9 L482.6,1147.1 L484.2,1147.4 L485.8,1147.2 L487.4,1147.1 L489.0,1146.7 L490.6,1147.0 L492.2,1146.7 L493.8,1147.0 L495.4,1146.6 L497.0,1147.2 L498.6,1147.7 L500.2,1147.8 L501.8,1147.9 L503.4,1148.3 L505.0,1147.9 L506.6,1147.2 L508.2,1147.6 L509.8,1148.2 L511.4,1148.0 L513.0,1148.4 L514.6,1147.6 L516.2,1147.0 L517.8,1147.7 L519.4,1147.1 L521.0,1146.4 L522.6,1147.6 L524.2,1148.0 L525.8,1148.7 L527.4,1149.3 L529.0,1149.5 L530.6,1149.1 L532.2,1148.8 L533.8,1149.6 L535.4,1149.5 L537.0,1149.1 L538.6,1148.6 L540.2,1148.9 L541.8,1149.4 L543.4,1149.5 L545.0,1149.4 L546.6,1148.9 L548.2,1148.7 L549.8,1149.5 L551.4,1150.0 L553.0,1150.6 L554.6,1150.8 L556.2,1150.3 L557.8,1150.2 L559.4,1150.7 L561.0,1150.5 L562.6,1150.2 L564.2,1151.0 L565.8,1150.9 L567.4,1150.7 L569.0,1150.5 L570.6,1150.9 L572.2,1151.4 L573.8,1151.6 L575.4,1151.9 L577.0,1151.7 L578.6,1151.2 L580.2,1151.3 L581.8,1151.4 L583.4,1151.3 L585.0,1151.3 L586.6,1151.4 L588.2,1151.6 L589.8,1152.2 L591.3,1152.7 L592.9,1153.1 L594.5,1152.7 L596.1,1152.4 L597.7,1152.0 L599.3,1153.0 L600.9,1153.6 L602.5,1153.8 L604.1,1154.1 L605.7,1154.0 L607.3,1154.0 L608.9,1153.9 L610.5,1153.9 L612.1,1154.2 L613.7,1155.3 L615.3,1155.6 L616.9,1155.5 L618.5,1155.7 L620.1,1156.2 L621.7,1156.1 L623.2,1155.7 L624.8,1155.9 L626.4,1156.1 L628.0,1156.3 L629.6,1156.3 L631.2,1156.0 L632.8,1156.1 L634.4,1156.3 L636.0,1157.1 L637.6,1157.3 L639.2,1157.6 L640.8,1158.5 L642.4,1158.4 L644.0,1157.9 L645.6,1158.0 L647.2,1158.0 L648.8,1158.5 L650.4,1158.5 L652.0,1158.2 L653.6,1158.4 L655.2,1158.8 L656.8,1158.5 L658.4,1158.1 L660.0,1158.7 L661.6,1159.2 L663.2,1159.4 L664.8,1159.6 L666.4,1159.1 L668.0,1158.9 L669.6,1159.7 L671.2,1159.6 L672.8,1159.5 L674.4,1159.4 L676.0,1159.7 L677.6,1159.5 L679.2,1159.7 L680.8,1160.0 L682.4,1160.5 L684.0,1160.7 L685.6,1160.6 L687.2,1160.5 L688.8,1160.3 L690.4,1160.2 L692.0,1160.1 L693.6,1160.2 L695.2,1160.1 L696.8,1160.7 L698.4,1160.8 L700.0,1160.9 L701.6,1161.0 L703.2,1160.5 L704.8,1160.7 L706.4,1161.2 L708.0,1161.3 L709.6,1161.5 L711.2,1161.4 L712.8,1161.3 L714.4,1161.7 L716.0,1161.8 L717.6,1162.0 L719.2,1162.1 L720.8,1162.3 L722.4,1161.8 L724.0,1161.9 L725.6,1162.2 L727.2,1162.0 L728.8,1162.1 L730.4,1162.5 L732.0,1162.5 L733.6,1162.5 L735.2,1162.4 L736.8,1162.3 L738.4,1162.9 L740.0,1163.1 L741.6,1162.9 L743.2,1162.8 L744.8,1163.0 L746.4,1163.3 L748.0,1163.2 L749.6,1163.0 L751.2,1163.0 L752.8,1163.1 L754.4,1163.0 L756.0,1163.2 L757.6,1163.6 L759.2,1163.1 L760.8,1163.4 L762.4,1163.8 L764.0,1163.8 L765.6,1163.9 L767.2,1163.6 L768.8,1163.7 L770.4,1164.2 L772.0,1164.0 L773.6,1164.2 L775.2,1164.5 L776.8,1164.8 L778.4,1164.5 L780.0,1164.7 L781.6,1164.9 L783.2,1164.8 L784.8,1164.6 L786.4,1164.6 L788.0,1164.6 L789.6,1165.1 L791.2,1165.2 L792.8,1165.3 L794.4,1165.5 L796.0,1165.2 L797.6,1165.0 L799.2,1165.2 L800.8,1165.2 L802.4,1164.6 L804.0,1164.5 L805.6,1165.0 L807.2,1165.0 L808.8,1165.2 L810.4,1165.6 L812.0,1165.3 L813.6,1165.3 L815.3,1165.6 L816.9,1165.3 L818.5,1165.4 L820.1,1165.5 L821.7,1165.7 L823.3,1165.8 L824.9,1165.6 L826.5,1165.6 L828.1,1165.5 L829.7,1165.4 L831.3,1165.7 L832.9,1165.7 L834.5,1165.5 L836.1,1165.5 L837.7,1165.7 L839.3,1165.7 L840.9,1166.0 L842.5,1166.2 L844.1,1166.0 L845.7,1166.0 L847.3,1166.3 L848.9,1166.5 L850.5,1166.4 L852.1,1166.6 L853.7,1166.4 L855.3,1166.3 L856.9,1167.2 L858.5,1167.3 L860.1,1167.0 L861.7,1167.0 L863.3,1167.0 L864.9,1167.2 L866.5,1166.8 L868.1,1166.9 L869.7,1166.9 L871.3,1167.1 L872.9,1167.4 L874.5,1167.6 L876.1,1167.6 L877.7,1167.8 L879.3,1167.1 L880.9,1167.5 L882.5,1167.2 L884.1,1167.3 L885.7,1167.7 L887.3,1168.1 L888.9,1168.1 L890.5,1167.9 L892.1,1168.3 L893.7,1167.9 L895.3,1168.0 L896.9,1168.1 L898.5,1167.9 L900.1,1167.9 L901.7,1168.1 L903.3,1168.0 L904.9,1167.9 L906.5,1168.5 L908.1,1168.7 L909.7,1168.6 L911.3,1168.5 L913.0,1168.6 L914.6,1168.6 L916.2,1168.6 L917.8,1168.3 L919.4,1168.0 L921.0,1168.7 L922.6,1169.1 L924.2,1169.4 L925.8,1169.4 L927.4,1168.7 L929.0,1168.4 L930.6,1169.2 L932.2,1169.4 L933.8,1169.1 L935.4,1168.9 L937.0,1169.2 L938.6,1169.1 L940.2,1169.4 L941.8,1169.4 L943.4,1169.2 L945.0,1168.8 L946.6,1169.3 L948.2,1169.2 L949.8,1169.1 L951.4,1169.5 L953.0,1170.1 L954.6,1169.4 L956.2,1169.1 L957.8,1169.6 L959.4,1169.5 L961.0,1169.7 L962.6,1170.2 L964.2,1170.2 L965.8,1170.2 L967.4,1170.3 L969.0,1170.0 L970.6,1169.7 L972.2,1169.9 L973.8,1170.0 L975.4,1170.2 L977.0,1170.4 L978.6,1170.6 L980.2,1170.6 L981.8,1170.2 L983.4,1170.1 L985.0,1170.3 L986.6,1170.4 L988.2,1169.9 L989.8,1169.6 L991.4,1170.0 L993.0,1169.9 L994.6,1170.1 L996.2,1170.4 L997.8,1170.6 L999.4,1170.5 L1001.0,1170.9 L1002.7,1170.9 L1004.3,1171.0 L1005.9,1171.1 L1007.5,1171.5 L1009.1,1171.2 L1010.7,1170.9 L1012.3,1170.7 L1013.9,1170.6 L1015.5,1171.2 L1017.1,1170.9 L1018.7,1171.0 L1020.3,1171.2 L1021.9,1171.1 L1023.5,1170.8 L1025.1,1170.7 L1026.7,1171.0 L1028.3,1170.8 L1029.9,1170.6 L1031.5,1170.9 L1033.1,1171.5 L1034.7,1171.5 L1036.3,1170.9 L1037.9,1171.2 L1039.5,1171.3 L1041.1,1171.4 L1042.7,1171.2 L1044.3,1171.2 L1045.9,1171.6 L1047.5,1171.9 L1049.1,1171.9 L1050.7,1171.7 L1052.3,1171.8 L1053.9,1172.0 L1055.5,1171.8 L1057.1,1171.8 L1058.7,1172.0 L1060.3,1172.0 L1061.9,1172.2 L1063.5,1171.9 L1065.1,1172.0 L1066.7,1172.2 L1068.3,1171.9 L1069.9,1171.8 L1071.5,1172.0 L1073.1,1171.8 L1074.7,1171.5 L1076.3,1171.9 L1077.9,1171.9 L1079.5,1171.9 L1081.2,1172.1 L1082.8,1172.1 L1084.4,1172.0 L1086.0,1172.0 L1087.6,1171.8 L1089.2,1171.5 L1090.8,1171.4 L1092.4,1171.6 L1094.0,1171.7 L1095.6,1171.7 L1097.2,1171.6 L1098.8,1172.1 L1100.4,1172.6 L1102.0,1172.6 L1103.6,1172.5 L1105.2,1172.4 L1106.8,1172.8 L1108.4,1172.3 L1110.0,1172.1 L1111.6,1172.1 L1113.2,1171.8 L1114.7,1171.8 L1116.0,1172.2 L1117.0,1172.3" stroke="#000000"/>
</g>
<g fill="none" stroke-width="4.7" stroke-linejoin="round" stroke-linecap="butt">
<path d="M1210.0,1350.5 L1211.5,1349.7 L1212.9,1348.7 L1214.2,1347.7 L1215.4,1346.8 L1216.4,1345.7 L1217.4,1344.5 L1218.2,1343.3 L1219.0,1341.9 L1219.8,1340.2 L1220.5,1338.7 L1221.2,1337.3 L1222.0,1336.0 L1222.7,1334.5 L1223.5,1333.1 L1224.3,1331.6 L1225.1,1330.2 L1225.9,1328.9 L1226.8,1327.5 L1227.6,1326.0 L1228.4,1324.5 L1229.2,1323.3 L1229.9,1322.0 L1230.6,1320.4 L1231.3,1319.1 L1232.0,1317.7 L1232.7,1316.2 L1233.4,1314.8 L1234.0,1313.4 L1234.6,1311.7 L1235.2,1310.3 L1235.8,1308.9 L1236.4,1307.2 L1237.0,1305.7 L1237.6,1304.3 L1238.2,1302.9 L1238.7,1301.3 L1239.3,1299.6 L1239.8,1298.1 L1240.3,1296.7 L1240.8,1295.3 L1241.3,1293.9 L1241.9,1292.3 L1242.4,1290.9 L1242.9,1289.5 L1243.4,1287.8 L1243.9,1286.0 L1244.4,1284.6 L1244.9,1283.1 L1245.4,1281.7 L1245.9,1280.1 L1246.3,1278.4 L1246.8,1276.9 L1247.3,1275.4 L1247.8,1274.1 L1248.3,1272.7 L1248.7,1271.0 L1249.2,1269.4 L1249.7,1267.8 L1250.1,1266.2 L1250.6,1264.6 L1251.0,1263.1 L1251.5,1261.5 L1251.9,1260.1 L1252.4,1258.7 L1252.8,1257.1 L1253.3,1255.4 L1253.8,1253.9 L1254.3,1252.6 L1254.8,1251.2 L1255.4,1249.4 L1256.0,1247.8 L1256.6,1246.4 L1257.2,1244.9 L1257.8,1243.4 L1258.3,1242.0 L1258.9,1240.4 L1259.3,1239.0 L1259.8,1237.4 L1260.2,1235.9 L1260.6,1234.4 L1261.0,1232.8 L1261.4,1231.3 L1261.7,1229.9 L1262.1,1228.3 L1262.4,1226.5 L1262.8,1224.7 L1263.1,1223.3 L1263.5,1221.8 L1263.8,1220.1 L1264.1,1218.4 L1264.4,1217.0 L1264.7,1215.6 L1265.0,1214.0 L1265.3,1212.5 L1265.6,1210.8 L1265.9,1209.2 L1266.2,1207.6 L1266.5,1205.9 L1266.7,1204.4 L1267.0,1202.7 L1267.2,1201.1 L1267.5,1199.5 L1267.7,1198.0 L1268.0,1196.5 L1268.2,1194.9 L1268.4,1193.3 L1268.7,1191.8 L1268.9,1190.0 L1269.1,1188.5 L1269.4,1186.9 L1269.6,1185.1 L1269.8,1183.7 L1270.1,1182.3 L1270.3,1180.7 L1270.6,1179.1 L1270.8,1177.5 L1271.1,1176.0 L1271.3,1174.4 L1271.6,1172.9 L1271.8,1171.2 L1272.1,1169.7 L1272.4,1168.0 L1272.7,1166.3 L1273.1,1164.6 L1273.4,1163.1 L1273.7,1161.5 L1274.1,1159.9 L1274.5,1158.4 L1274.9,1156.7 L1275.4,1155.2 L1275.8,1153.8 L1276.3,1152.4 L1276.9,1150.8 L1277.5,1149.2 L1278.3,1147.7 L1279.2,1146.7 L1280.8,1146.1 L1281.7,1147.2 L1282.3,1148.9 L1282.7,1150.5 L1282.9,1152.1 L1283.2,1153.5 L1283.4,1155.1 L1283.6,1156.6 L1283.8,1158.3 L1284.0,1160.0 L1284.1,1161.5 L1284.3,1163.2 L1284.5,1164.8 L1284.6,1166.4 L1284.8,1167.9 L1284.9,1169.6 L1285.1,1171.2 L1285.2,1172.9 L1285.4,1174.7 L1285.5,1176.0 L1285.7,1177.5 L1285.8,1179.1 L1286.0,1180.7 L1286.1,1182.3 L1286.3,1183.7 L1286.4,1185.2 L1286.6,1186.9 L1286.7,1188.8 L1286.9,1190.5 L1287.0,1191.9 L1287.2,1193.5 L1287.3,1195.1 L1287.5,1196.7 L1287.6,1198.3 L1287.8,1199.9 L1287.9,1201.4 L1288.1,1203.1 L1288.2,1204.8 L1288.4,1206.2 L1288.5,1208.0 L1288.7,1209.6 L1288.8,1211.2 L1288.9,1212.9 L1289.1,1214.4 L1289.2,1215.9 L1289.4,1217.4 L1289.5,1218.9 L1289.7,1220.5 L1289.8,1222.1 L1289.9,1223.8 L1290.1,1225.4 L1290.2,1227.0 L1290.4,1228.6 L1290.5,1230.3 L1290.7,1231.9 L1290.9,1233.6 L1291.0,1235.2 L1291.2,1236.6 L1291.3,1238.3 L1291.5,1239.9 L1291.7,1241.6 L1291.8,1243.2 L1292.0,1244.8 L1292.2,1246.4 L1292.3,1247.9 L1292.5,1249.4 L1292.6,1251.0 L1292.8,1252.7 L1293.0,1254.6 L1293.1,1255.9 L1293.3,1257.2 L1293.4,1258.7 L1293.6,1260.5 L1293.8,1262.0 L1293.9,1263.5 L1294.1,1265.1 L1294.2,1266.9 L1294.4,1268.5 L1294.6,1270.1 L1294.7,1271.8 L1294.9,1273.4 L1295.1,1274.8 L1295.2,1276.5 L1295.4,1278.0 L1295.6,1279.6 L1295.7,1281.3 L1295.9,1282.7 L1296.1,1284.3 L1296.3,1286.0 L1296.4,1287.7 L1296.6,1289.1 L1296.8,1290.8 L1296.9,1292.5 L1297.1,1294.0 L1297.3,1295.7 L1297.4,1297.2 L1297.6,1298.6 L1297.7,1300.2 L1297.9,1301.7 L1298.0,1303.6 L1298.2,1305.2 L1298.3,1306.6 L1298.5,1308.5 L1298.7,1309.9 L1298.8,1311.3 L1299.0,1313.1 L1299.2,1315.0 L1299.3,1316.5 L1299.5,1317.8 L1299.7,1319.6 L1299.9,1321.0 L1300.2,1322.4 L1300.4,1324.0 L1300.6,1326.1 L1300.8,1327.9 L1301.1,1329.0 L1301.3,1330.5 L1301.5,1332.1 L1301.8,1333.5 L1302.0,1334.8 L1302.2,1337.0 L1302.4,1338.4 L1302.6,1340.2 L1302.8,1342.1 L1303.0,1344.7 L1303.2,1345.9 L1303.4,1346.8 L1303.6,1349.0 L1303.8,1350.3 L1304.0,1351.4 L1304.2,1353.1 L1304.4,1354.7 L1304.6,1356.8 L1304.8,1358.2 L1305.0,1359.1 L1305.2,1361.3 L1305.4,1362.8 L1305.7,1363.5 L1305.9,1366.0 L1306.1,1367.9 L1306.3,1369.6 L1306.6,1371.3 L1306.8,1372.2 L1307.0,1373.4 L1307.3,1375.4 L1307.5,1377.2 L1307.8,1378.7 L1308.0,1379.5 L1308.3,1381.8 L1308.5,1384.5 L1308.8,1385.6 L1309.1,1387.1 L1309.4,1388.5 L1309.7,1389.9 L1310.1,1391.8 L1310.4,1393.1 L1310.8,1394.1 L1311.1,1395.7 L1311.5,1397.5 L1311.9,1398.6 L1312.4,1400.2 L1312.8,1402.5 L1313.3,1404.0 L1313.8,1405.1 L1314.4,1406.9 L1314.9,1408.3 L1315.5,1409.6 L1316.1,1411.0 L1316.8,1412.9 L1317.5,1414.1 L1318.3,1415.4 L1319.1,1416.7 L1320.0,1418.5 L1321.0,1419.5 L1321.9,1420.7 L1322.9,1422.5 L1323.8,1424.5 L1324.7,1425.1 L1325.7,1425.4 L1326.6,1427.0 L1327.6,1428.3 L1328.7,1428.9 L1329.8,1429.9 L1331.1,1431.7 L1332.4,1432.5 L1333.8,1433.2 L1335.3,1433.9 L1336.8,1434.8 L1338.2,1435.5 L1339.7,1436.0 L1341.2,1436.4 L1342.6,1436.8 L1344.0,1437.7 L1345.4,1438.9 L1346.9,1439.7 L1348.3,1440.7 L1349.7,1441.3 L1351.2,1441.9 L1352.7,1441.8 L1354.2,1442.5 L1355.8,1443.3 L1357.4,1443.3 L1358.9,1443.3 L1360.5,1444.0 L1362.2,1444.1 L1363.8,1444.2 L1365.4,1443.9 L1367.0,1443.5 L1368.6,1444.1 L1370.2,1444.4 L1371.8,1444.4 L1373.4,1444.2 L1375.0,1444.7 L1376.6,1444.5 L1378.2,1444.2 L1379.8,1444.3 L1381.4,1444.6 L1383.0,1444.8 L1384.6,1445.5 L1386.2,1445.6 L1387.8,1445.6 L1389.4,1445.1 L1391.0,1444.6 L1392.6,1444.7 L1394.2,1445.6 L1395.8,1446.6 L1397.3,1446.3 L1398.9,1445.0 L1400.4,1445.0 L1401.9,1444.6 L1403.5,1443.4 L1405.0,1442.8 L1406.5,1442.0 L1408.0,1441.6 L1409.6,1440.9 L1411.1,1440.1 L1412.6,1439.6 L1414.2,1439.3 L1415.8,1439.2 L1417.4,1438.5 L1419.0,1439.7 L1420.6,1440.2 L1422.2,1439.4 L1423.9,1439.7 L1425.5,1439.9 L1427.0,1439.4 L1428.6,1439.3 L1430.0,1439.9 L1431.4,1440.6 L1432.7,1441.0 L1434.0,1442.6 L1435.3,1444.0 L1436.6,1444.8 L1438.0,1446.3 L1439.4,1447.5 L1440.8,1447.5 L1442.3,1447.8 L1443.9,1448.5 L1445.4,1448.3 L1447.0,1448.7 L1448.6,1449.8 L1450.1,1450.2 L1451.7,1449.5 L1453.3,1450.0 L1454.8,1451.1 L1456.4,1452.0 L1457.9,1452.2 L1459.5,1452.3 L1461.0,1452.6 L1462.6,1452.1 L1464.2,1452.9 L1465.8,1453.6 L1467.4,1453.7 L1469.0,1453.2 L1470.7,1452.7 L1472.3,1453.3 L1473.8,1453.1 L1475.3,1453.4 L1476.7,1453.9 L1478.0,1454.0 L1479.2,1455.9 L1480.5,1456.9 L1481.7,1457.8 L1482.9,1458.7 L1484.2,1460.1 L1485.5,1461.2 L1486.8,1461.8 L1488.1,1462.3 L1489.4,1463.8 L1490.8,1465.0 L1492.1,1466.0 L1493.5,1466.7 L1494.8,1467.4 L1496.2,1467.9 L1497.5,1468.1 L1498.9,1468.9 L1500.3,1470.4 L1501.7,1471.5 L1503.1,1472.5 L1504.5,1472.8 L1506.0,1473.8 L1507.5,1475.0 L1509.0,1475.2 L1510.5,1475.3 L1512.1,1476.1 L1513.7,1476.3 L1515.2,1476.1 L1516.8,1476.5 L1518.4,1477.2 L1520.0,1477.4 L1521.5,1477.5 L1523.1,1477.3 L1524.7,1476.9 L1526.3,1478.0 L1527.9,1478.5 L1529.5,1478.2 L1531.1,1477.9 L1532.6,1478.5 L1534.2,1479.0 L1535.8,1479.2 L1537.4,1479.1 L1539.0,1478.7 L1540.6,1479.7 L1542.2,1480.2 L1543.8,1480.5 L1545.4,1481.0 L1547.0,1481.3 L1548.6,1481.7 L1550.2,1481.3 L1551.7,1481.8 L1553.3,1482.0 L1554.9,1482.3 L1556.5,1481.7 L1558.1,1481.5 L1559.7,1481.7 L1561.3,1482.1 L1562.9,1482.0 L1564.5,1482.7 L1566.1,1483.0 L1567.7,1482.9 L1569.3,1483.0 L1570.9,1483.2 L1572.5,1484.1 L1574.1,1483.8 L1575.7,1483.2 L1577.3,1483.7 L1578.9,1483.5 L1580.5,1483.9 L1582.1,1484.2 L1583.7,1484.0 L1585.3,1484.0 L1586.9,1484.6 L1588.5,1484.9 L1590.1,1485.0 L1591.7,1485.0 L1593.3,1484.6 L1594.9,1484.7 L1596.5,1484.6 L1598.1,1484.7 L1599.7,1484.3 L1601.3,1484.2 L1602.9,1484.3 L1604.5,1484.5 L1606.1,1484.6 L1607.7,1484.9 L1609.3,1485.0 L1610.9,1484.9 L1612.5,1485.6 L1614.1,1485.3 L1615.7,1485.3 L1617.3,1485.7 L1618.9,1485.7 L1620.5,1485.7 L1622.1,1485.8 L1623.7,1485.6 L1625.3,1486.0 L1626.9,1485.6 L1628.5,1485.9 L1630.1,1486.8 L1631.7,1487.0 L1633.3,1486.6 L1634.9,1486.0 L1636.5,1486.2 L1638.1,1486.3 L1639.7,1486.5 L1641.3,1487.0 L1642.9,1487.6 L1644.5,1487.8 L1646.1,1487.5 L1647.7,1487.0 L1649.3,1487.1 L1650.9,1487.3 L1652.5,1487.3 L1654.1,1486.8 L1655.7,1486.7 L1657.3,1486.6 L1658.9,1486.7 L1660.5,1487.1 L1662.1,1487.3 L1663.7,1487.9 L1665.3,1488.3 L1666.9,1488.2 L1668.5,1488.3 L1670.1,1488.3 L1671.7,1488.4 L1673.3,1488.7 L1674.9,1488.9 L1676.5,1488.8 L1678.1,1489.1 L1679.7,1489.2 L1681.3,1488.8 L1682.9,1488.3 L1684.5,1488.3 L1686.1,1488.8 L1687.7,1488.9 L1689.3,1489.0 L1690.9,1489.8 L1692.5,1489.7 L1694.1,1489.7 L1695.7,1489.9 L1697.3,1489.6 L1698.9,1489.3 L1700.5,1489.8 L1702.1,1489.9 L1703.7,1490.2 L1705.3,1490.3 L1706.9,1490.1 L1708.5,1490.6 L1710.1,1491.3 L1711.7,1491.6 L1713.3,1491.2 L1714.9,1491.2 L1716.5,1491.4 L1718.1,1491.7 L1719.7,1492.4 L1721.3,1492.3 L1722.9,1491.7 L1724.5,1491.8 L1726.1,1492.4 L1727.7,1492.5 L1729.3,1492.6 L1730.9,1492.4 L1732.5,1492.0 L1734.1,1491.8 L1735.7,1492.0 L1737.3,1492.4 L1738.9,1492.8 L1740.5,1492.8 L1742.1,1493.1 L1743.7,1492.5 L1745.3,1492.8 L1746.9,1493.6 L1748.5,1494.0 L1750.1,1493.6 L1751.7,1493.8 L1753.3,1493.7 L1754.9,1493.3 L1756.5,1493.8 L1758.1,1493.9 L1759.7,1493.9 L1761.3,1494.2 L1762.9,1494.1 L1764.5,1494.1 L1766.1,1494.5 L1767.7,1494.4 L1769.3,1494.4 L1770.9,1493.8 L1772.5,1494.2 L1774.1,1494.2 L1775.7,1494.4 L1777.3,1494.6 L1778.9,1494.9 L1780.5,1494.7 L1782.1,1494.9 L1783.7,1495.1 L1785.3,1495.3 L1786.9,1495.3 L1788.5,1495.3 L1790.1,1495.1 L1791.7,1494.7 L1793.3,1494.9 L1794.9,1495.0 L1796.5,1495.1 L1798.1,1495.4 L1799.7,1495.3 L1801.3,1495.3 L1802.9,1495.2 L1804.5,1495.5 L1806.1,1495.7 L1807.8,1495.3 L1809.4,1495.0 L1811.0,1494.8 L1812.6,1495.1 L1814.2,1495.6 L1815.8,1495.3 L1817.4,1495.5 L1819.0,1495.8 L1820.6,1495.8 L1822.2,1495.8 L1823.8,1496.0 L1825.4,1496.2 L1827.0,1495.9 L1828.6,1496.0 L1830.2,1496.0 L1831.8,1495.6 L1833.4,1495.7 L1835.0,1496.0 L1836.6,1496.3 L1838.2,1496.0 L1839.8,1496.2 L1841.4,1496.1 L1843.0,1496.4 L1844.6,1496.3 L1846.2,1496.7 L1847.8,1497.2 L1849.4,1497.0 L1851.0,1496.8 L1852.6,1496.5 L1854.2,1496.7 L1855.8,1496.9 L1857.4,1496.9 L1859.0,1496.9 L1860.6,1496.7 L1862.2,1496.6 L1863.8,1496.3 L1865.4,1496.4 L1867.0,1496.7 L1868.7,1496.6 L1870.3,1496.9 L1871.9,1497.2 L1873.5,1497.1 L1875.1,1496.8 L1876.7,1496.8 L1878.3,1496.8 L1879.9,1497.0 L1881.5,1497.4 L1883.1,1497.3 L1884.7,1496.6 L1886.3,1496.4 L1887.9,1496.7 L1889.5,1496.4 L1891.1,1496.8 L1892.7,1496.8 L1894.3,1497.5 L1895.9,1497.8 L1897.5,1497.7 L1899.1,1497.7 L1900.7,1498.1 L1902.3,1498.2 L1903.9,1498.3 L1905.5,1498.6 L1907.1,1498.1 L1908.7,1497.8 L1910.3,1498.3 L1911.9,1498.6 L1913.5,1497.9 L1915.1,1497.8 L1916.7,1497.9 L1918.3,1498.2 L1919.9,1498.3 L1921.5,1498.1 L1923.1,1498.1 L1924.7,1498.1 L1926.3,1498.3 L1927.9,1498.3 L1929.5,1498.3 L1931.1,1498.3 L1932.7,1498.3 L1934.4,1498.0 L1936.0,1498.1 L1937.6,1498.3 L1939.2,1498.4 L1940.8,1498.3 L1942.4,1498.6 L1944.0,1499.0 L1945.6,1498.9 L1947.2,1498.7 L1948.8,1498.7 L1950.4,1498.7 L1952.0,1498.7 L1953.6,1498.5 L1955.2,1498.3 L1956.8,1498.4 L1958.4,1498.3 L1960.0,1498.8 L1961.6,1499.1 L1963.2,1499.0 L1964.8,1498.6 L1966.4,1498.9 L1968.0,1499.3 L1969.6,1499.3 L1971.2,1499.3 L1972.8,1499.3 L1974.4,1499.5 L1976.0,1499.3 L1977.6,1499.1 L1979.2,1499.6 L1980.8,1500.1 L1982.4,1500.0 L1984.0,1500.0 L1985.6,1500.1 L1987.2,1499.5 L1988.8,1499.3 L1990.4,1499.5 L1992.0,1499.9 L1993.6,1500.3 L1995.2,1500.2 L1996.9,1500.1 L1998.5,1500.2 L2000.1,1500.0 L2001.7,1499.9 L2003.3,1499.7 L2004.9,1499.5 L2006.5,1499.5 L2008.1,1499.3 L2009.7,1499.1 L2011.3,1499.7 L2012.9,1500.2 L2014.5,1499.9 L2016.1,1499.6 L2017.7,1500.0 L2019.3,1500.5 L2020.9,1500.3 L2022.5,1500.7 L2024.1,1500.3 L2025.7,1499.7 L2027.3,1500.2 L2028.9,1500.6 L2030.5,1500.2 L2032.1,1499.8 L2033.7,1500.2 L2035.3,1500.3 L2036.9,1499.9 L2038.5,1500.2 L2040.1,1500.5 L2041.7,1500.6 L2043.3,1500.4 L2044.9,1500.3 L2046.5,1500.6 L2048.1,1500.5 L2049.7,1500.3 L2051.3,1500.3 L2052.9,1500.5 L2054.5,1500.6 L2056.1,1500.9 L2057.8,1500.7 L2059.4,1500.9 L2061.0,1500.9 L2062.6,1500.7 L2064.2,1500.6 L2065.8,1500.7 L2067.4,1500.5 L2069.0,1500.2 L2070.6,1500.4 L2072.2,1500.4 L2073.8,1500.4 L2075.4,1500.8 L2077.0,1500.6 L2078.6,1500.9 L2080.2,1500.9 L2081.8,1500.6 L2083.4,1500.7 L2085.0,1500.7 L2086.6,1501.0 L2088.2,1501.0 L2089.8,1501.2 L2091.4,1501.4 L2093.0,1501.4 L2094.6,1501.1 L2096.2,1501.1 L2097.8,1500.6 L2099.4,1500.6 L2101.0,1500.8 L2102.6,1500.5 L2104.2,1500.5 L2105.8,1500.8 L2107.4,1500.5 L2109.0,1500.7 L2110.6,1501.3 L2112.2,1501.5 L2113.8,1501.3 L2115.4,1501.6 L2117.1,1501.7 L2118.7,1501.6 L2120.3,1501.3 L2121.9,1501.1 L2123.5,1501.2 L2125.1,1501.8 L2126.7,1501.8 L2128.3,1501.5 L2129.9,1501.6 L2131.5,1501.8 L2133.1,1501.9 L2134.7,1501.6 L2136.3,1501.4 L2137.9,1501.5 L2139.5,1501.2 L2141.1,1501.1 L2142.7,1501.7 L2144.3,1502.1 L2145.9,1501.8 L2147.5,1501.7 L2149.1,1501.6 L2150.7,1501.5 L2152.3,1501.3 L2153.9,1501.2 L2155.5,1501.2 L2157.1,1501.2 L2158.7,1501.3 L2160.3,1501.4 L2161.9,1501.3 L2163.5,1501.1 L2165.1,1501.3 L2166.7,1501.1 L2168.3,1501.1 L2169.9,1501.3 L2171.5,1501.1 L2173.1,1501.3 L2174.8,1501.2 L2176.4,1501.4 L2178.0,1501.8 L2179.6,1501.7 L2181.2,1501.3 L2182.8,1501.4 L2184.4,1502.0 L2186.0,1502.0 L2187.6,1501.9 L2189.2,1501.6 L2190.8,1502.0 L2192.4,1502.0 L2194.0,1501.7 L2195.6,1502.0 L2197.2,1502.4 L2198.7,1502.1 L2200.0,1501.4 L2201.0,1501.1" stroke="#00ff00"/>
<path d="M1210.0,1272.7 L1210.8,1271.3 L1211.7,1269.9 L1212.6,1268.5 L1213.5,1267.2 L1214.5,1266.0 L1215.5,1264.8 L1216.6,1263.7 L1217.8,1262.7 L1219.1,1261.7 L1220.3,1260.6 L1221.3,1259.4 L1222.3,1258.1 L1223.1,1256.9 L1223.9,1255.5 L1224.7,1254.0 L1225.4,1252.6 L1226.1,1251.0 L1226.8,1249.4 L1227.5,1247.8 L1228.2,1246.5 L1228.8,1245.3 L1229.5,1243.9 L1230.1,1242.4 L1230.7,1240.7 L1231.3,1239.2 L1231.9,1237.9 L1232.6,1236.4 L1233.2,1234.8 L1233.8,1233.3 L1234.5,1231.7 L1235.1,1230.4 L1235.7,1229.1 L1236.4,1227.4 L1237.0,1225.9 L1237.6,1224.4 L1238.2,1222.9 L1238.8,1221.3 L1239.4,1219.9 L1240.0,1218.4 L1240.6,1217.0 L1241.2,1215.5 L1241.8,1214.0 L1242.3,1212.5 L1242.8,1211.2 L1243.4,1209.7 L1243.8,1208.3 L1244.3,1206.8 L1244.8,1205.1 L1245.2,1203.4 L1245.7,1201.7 L1246.1,1200.2 L1246.5,1198.8 L1246.9,1197.3 L1247.3,1195.6 L1247.7,1194.2 L1248.1,1192.9 L1248.4,1191.2 L1248.8,1189.5 L1249.1,1188.0 L1249.4,1186.2 L1249.7,1184.5 L1250.0,1183.1 L1250.3,1181.5 L1250.6,1180.1 L1250.9,1178.7 L1251.2,1177.0 L1251.5,1175.4 L1251.8,1173.9 L1252.1,1172.1 L1252.5,1170.6 L1252.8,1169.3 L1253.1,1167.8 L1253.5,1166.0 L1253.8,1164.4 L1254.1,1162.9 L1254.4,1161.4 L1254.7,1159.8 L1255.0,1158.1 L1255.3,1156.5 L1255.6,1154.9 L1255.9,1153.3 L1256.2,1151.7 L1256.5,1150.2 L1256.7,1148.6 L1257.0,1147.0 L1257.2,1145.7 L1257.5,1144.2 L1257.7,1142.4 L1258.0,1140.7 L1258.2,1139.3 L1258.5,1137.7 L1258.8,1136.1 L1259.0,1134.5 L1259.3,1132.7 L1259.5,1131.1 L1259.8,1129.7 L1260.0,1128.0 L1260.3,1126.3 L1260.5,1124.6 L1260.7,1123.1 L1261.0,1121.6 L1261.2,1120.0 L1261.5,1118.5 L1261.7,1116.9 L1261.9,1115.3 L1262.2,1114.0 L1262.4,1112.4 L1262.6,1110.8 L1262.8,1109.2 L1263.1,1107.6 L1263.3,1105.8 L1263.5,1104.2 L1263.7,1102.7 L1263.9,1101.2 L1264.1,1099.5 L1264.3,1097.6 L1264.5,1096.1 L1264.7,1094.6 L1264.9,1093.1 L1265.1,1091.4 L1265.3,1089.7 L1265.5,1088.2 L1265.7,1086.6 L1265.9,1084.7 L1266.1,1083.2 L1266.3,1081.9 L1266.5,1080.4 L1266.7,1078.9 L1266.9,1077.4 L1267.1,1075.7 L1267.3,1074.2 L1267.5,1072.6 L1267.7,1071.0 L1267.9,1069.3 L1268.1,1067.8 L1268.3,1066.4 L1268.5,1064.6 L1268.7,1063.0 L1269.0,1061.5 L1269.2,1059.9 L1269.4,1058.4 L1269.6,1056.5 L1269.8,1054.8 L1270.1,1053.2 L1270.3,1051.7 L1270.6,1050.2 L1270.8,1048.9 L1271.1,1047.2 L1271.3,1045.6 L1271.6,1044.0 L1271.9,1042.4 L1272.3,1040.8 L1272.7,1039.2 L1273.3,1037.5 L1274.1,1035.8 L1274.9,1035.3 L1275.9,1036.0 L1277.0,1037.4 L1277.7,1039.0 L1278.2,1040.5 L1278.7,1042.0 L1279.0,1043.6 L1279.4,1045.3 L1279.7,1046.8 L1279.9,1048.4 L1280.2,1050.1 L1280.5,1051.7 L1280.7,1053.2 L1280.9,1054.9 L1281.1,1056.4 L1281.3,1058.0 L1281.5,1059.6 L1281.6,1061.2 L1281.8,1062.7 L1281.9,1064.4 L1282.1,1065.9 L1282.2,1067.5 L1282.3,1068.9 L1282.4,1070.6 L1282.6,1072.3 L1282.7,1073.9 L1282.8,1075.5 L1282.9,1077.2 L1283.0,1078.9 L1283.1,1080.2 L1283.2,1081.9 L1283.3,1083.6 L1283.5,1085.1 L1283.6,1086.7 L1283.7,1088.0 L1283.8,1089.6 L1284.0,1091.4 L1284.1,1093.0 L1284.2,1094.6 L1284.4,1096.3 L1284.5,1097.8 L1284.7,1099.5 L1284.8,1101.1 L1284.9,1102.8 L1285.1,1104.5 L1285.2,1106.0 L1285.4,1107.7 L1285.5,1109.2 L1285.7,1110.8 L1285.8,1112.4 L1286.0,1113.9 L1286.1,1115.6 L1286.3,1117.3 L1286.4,1118.8 L1286.6,1120.4 L1286.7,1122.1 L1286.9,1123.6 L1287.0,1125.1 L1287.2,1126.4 L1287.3,1128.2 L1287.5,1129.9 L1287.6,1131.2 L1287.8,1132.6 L1287.9,1134.3 L1288.1,1136.0 L1288.2,1137.4 L1288.4,1139.1 L1288.5,1140.7 L1288.7,1142.2 L1288.8,1143.9 L1289.0,1145.8 L1289.1,1147.3 L1289.2,1148.9 L1289.4,1150.6 L1289.5,1152.3 L1289.7,1153.8 L1289.8,1155.3 L1289.9,1156.9 L1290.1,1158.7 L1290.2,1160.1 L1290.3,1161.7 L1290.5,1163.4 L1290.6,1165.0 L1290.8,1166.5 L1290.9,1168.1 L1291.0,1169.7 L1291.2,1171.3 L1291.3,1172.8 L1291.5,1174.6 L1291.6,1176.2 L1291.7,1177.8 L1291.9,1179.2 L1292.0,1180.4 L1292.2,1182.1 L1292.3,1183.9 L1292.4,1185.8 L1292.6,1187.3 L1292.7,1189.0 L1292.8,1190.5 L1293.0,1191.9 L1293.1,1193.7 L1293.2,1195.5 L1293.3,1197.1 L1293.4,1198.5 L1293.6,1200.2 L1293.7,1202.0 L1293.8,1203.8 L1293.9,1205.3 L1294.0,1206.3 L1294.1,1207.6 L1294.2,1209.3 L1294.3,1211.6 L1294.4,1212.8 L1294.6,1213.9 L1294.7,1216.1 L1294.8,1217.2 L1294.9,1218.6 L1295.0,1220.3 L1295.1,1221.8 L1295.2,1222.7 L1295.3,1224.8 L1295.4,1227.0 L1295.6,1228.8 L1295.7,1230.3 L1295.8,1231.7 L1295.9,1232.8 L1296.0,1233.9 L1296.1,1236.0 L1296.2,1238.5 L1296.3,1240.1 L1296.5,1241.4 L1296.6,1243.3 L1296.7,1245.4 L1296.8,1246.5 L1297.0,1248.2 L1297.1,1250.8 L1297.2,1251.7 L1297.3,1252.9 L1297.5,1254.9 L1297.6,1255.9 L1297.7,1257.6 L1297.9,1259.6 L1298.0,1261.4 L1298.2,1262.4 L1298.3,1264.0 L1298.5,1265.0 L1298.6,1266.9 L1298.8,1268.8 L1298.9,1270.7 L1299.1,1272.7 L1299.3,1273.7 L1299.5,1275.0 L1299.6,1276.7 L1299.8,1278.7 L1300.0,1280.8 L1300.2,1282.5 L1300.4,1284.2 L1300.6,1285.2 L1300.8,1286.8 L1301.0,1288.3 L1301.3,1289.7 L1301.5,1291.3 L1301.8,1292.8 L1302.0,1294.3 L1302.3,1295.8 L1302.6,1296.9 L1302.9,1298.6 L1303.2,1300.6 L1303.5,1302.4 L1303.9,1303.8 L1304.2,1304.9 L1304.6,1306.3 L1305.0,1308.2 L1305.3,1309.7 L1305.7,1311.1 L1306.1,1313.3 L1306.6,1315.0 L1307.0,1315.8 L1307.5,1316.5 L1308.0,1318.3 L1308.5,1319.7 L1309.0,1320.6 L1309.5,1322.5 L1310.1,1324.2 L1310.7,1325.9 L1311.3,1327.2 L1312.0,1328.8 L1312.7,1330.6 L1313.4,1332.3 L1314.2,1333.5 L1315.0,1335.7 L1315.8,1338.0 L1316.7,1338.7 L1317.7,1339.4 L1318.8,1341.1 L1319.9,1341.9 L1321.1,1342.0 L1322.4,1343.1 L1323.7,1343.7 L1325.1,1345.1 L1326.5,1346.5 L1327.9,1347.2 L1329.3,1347.2 L1330.7,1348.1 L1332.2,1349.7 L1333.7,1350.2 L1335.2,1350.4 L1336.7,1350.9 L1338.3,1350.8 L1339.8,1350.7 L1341.4,1351.3 L1342.9,1352.0 L1344.5,1352.0 L1346.1,1352.5 L1347.7,1353.0 L1349.3,1352.9 L1350.9,1352.7 L1352.6,1352.9 L1354.2,1353.0 L1355.8,1353.4 L1357.4,1353.7 L1359.0,1353.6 L1360.6,1353.9 L1362.2,1353.4 L1363.8,1352.6 L1365.4,1352.2 L1367.0,1352.3 L1368.6,1352.4 L1370.2,1353.0 L1371.8,1353.3 L1373.4,1354.0 L1375.0,1353.9 L1376.6,1353.6 L1378.2,1352.8 L1379.8,1352.5 L1381.4,1352.5 L1382.9,1351.8 L1384.5,1351.0 L1386.1,1350.9 L1387.6,1351.0 L1389.2,1350.9 L1390.7,1350.3 L1392.3,1349.4 L1393.8,1348.9 L1395.3,1348.6 L1396.8,1347.7 L1398.3,1346.5 L1399.7,1346.1 L1401.1,1346.1 L1402.5,1345.8 L1403.9,1344.7 L1405.2,1343.0 L1406.6,1342.3 L1408.1,1342.7 L1409.5,1341.6 L1411.1,1340.5 L1412.6,1340.2 L1414.2,1339.8 L1415.8,1339.1 L1417.4,1339.0 L1418.9,1339.2 L1420.4,1338.6 L1421.8,1338.9 L1423.1,1340.0 L1424.4,1340.8 L1425.7,1341.6 L1426.9,1342.5 L1428.2,1343.2 L1429.4,1344.5 L1430.7,1345.7 L1431.9,1347.1 L1433.2,1347.5 L1434.5,1348.5 L1435.8,1349.6 L1437.2,1350.2 L1438.7,1351.0 L1440.1,1351.5 L1441.6,1352.1 L1443.1,1352.8 L1444.7,1353.4 L1446.2,1353.7 L1447.8,1353.4 L1449.4,1354.3 L1451.0,1354.6 L1452.6,1354.4 L1454.2,1354.5 L1455.7,1354.9 L1457.3,1355.2 L1458.9,1355.9 L1460.4,1355.2 L1461.9,1354.2 L1463.5,1353.6 L1465.1,1353.3 L1466.7,1352.4 L1468.2,1352.3 L1469.8,1352.7 L1471.3,1352.3 L1472.7,1353.0 L1474.1,1354.0 L1475.5,1355.5 L1476.8,1357.0 L1478.1,1358.1 L1479.4,1359.6 L1480.7,1360.5 L1482.0,1361.7 L1483.2,1362.6 L1484.5,1364.0 L1485.7,1365.1 L1486.9,1365.1 L1488.2,1365.1 L1489.5,1366.6 L1490.8,1367.9 L1492.2,1368.5 L1493.5,1369.7 L1494.9,1371.0 L1496.3,1371.2 L1497.8,1371.9 L1499.3,1372.7 L1500.8,1372.3 L1502.4,1372.7 L1503.9,1373.4 L1505.5,1373.5 L1507.1,1374.2 L1508.6,1374.7 L1510.2,1374.8 L1511.8,1374.6 L1513.4,1374.8 L1514.9,1375.5 L1516.5,1375.7 L1518.1,1376.2 L1519.7,1376.5 L1521.3,1375.8 L1522.9,1376.4 L1524.5,1376.5 L1526.1,1376.9 L1527.7,1376.8 L1529.3,1376.6 L1530.9,1377.0 L1532.5,1377.7 L1534.0,1378.1 L1535.6,1378.3 L1537.2,1377.7 L1538.8,1377.8 L1540.4,1378.0 L1542.0,1378.5 L1543.6,1379.2 L1545.2,1379.3 L1546.8,1378.5 L1548.4,1378.0 L1550.0,1378.5 L1551.6,1378.6 L1553.2,1379.1 L1554.8,1379.9 L1556.4,1380.5 L1558.0,1380.8 L1559.6,1379.7 L1561.2,1378.9 L1562.8,1379.1 L1564.4,1380.1 L1566.0,1379.7 L1567.6,1380.4 L1569.2,1381.1 L1570.8,1380.7 L1572.4,1381.1 L1574.0,1381.1 L1575.6,1381.4 L1577.2,1380.5 L1578.8,1380.2 L1580.4,1380.2 L1582.0,1380.4 L1583.6,1381.1 L1585.2,1381.6 L1586.8,1381.9 L1588.4,1381.6 L1590.0,1380.7 L1591.6,1381.3 L1593.2,1382.2 L1594.8,1382.4 L1596.4,1382.2 L1598.0,1381.9 L1599.6,1382.2 L1601.2,1381.9 L1602.8,1381.7 L1604.4,1382.2 L1606.0,1382.1 L1607.6,1382.1 L1609.2,1382.5 L1610.8,1382.6 L1612.4,1382.2 L1614.0,1381.9 L1615.6,1382.1 L1617.2,1382.2 L1618.8,1382.5 L1620.4,1382.8 L1622.0,1382.6 L1623.7,1382.4 L1625.3,1382.2 L1626.9,1382.7 L1628.5,1382.8 L1630.1,1383.1 L1631.7,1383.3 L1633.3,1383.0 L1634.9,1382.9 L1636.5,1383.5 L1638.1,1383.8 L1639.7,1383.2 L1641.3,1383.6 L1642.9,1384.1 L1644.5,1384.1 L1646.1,1383.9 L1647.7,1383.5 L1649.3,1383.7 L1650.9,1384.0 L1652.5,1383.6 L1654.1,1383.5 L1655.7,1383.5 L1657.3,1383.9 L1658.9,1384.0 L1660.5,1383.4 L1662.1,1383.2 L1663.7,1383.1 L1665.3,1384.3 L1666.9,1384.8 L1668.5,1384.6 L1670.1,1384.2 L1671.7,1384.8 L1673.3,1385.2 L1674.9,1384.4 L1676.5,1384.5 L1678.1,1385.1 L1679.7,1384.9 L1681.3,1385.1 L1682.9,1384.8 L1684.5,1384.7 L1686.1,1384.5 L1687.7,1384.8 L1689.3,1385.3 L1690.9,1385.5 L1692.5,1385.8 L1694.1,1385.7 L1695.7,1385.6 L1697.3,1386.0 L1698.9,1386.1 L1700.5,1385.7 L1702.1,1385.7 L1703.7,1386.0 L1705.3,1386.0 L1706.9,1386.1 L1708.5,1386.5 L1710.1,1386.7 L1711.7,1386.4 L1713.3,1386.7 L1714.9,1386.9 L1716.5,1386.6 L1718.1,1386.6 L1719.7,1387.6 L1721.3,1387.7 L1722.9,1387.5 L1724.5,1386.9 L1726.1,1386.2 L1727.7,1385.9 L1729.3,1387.0 L1730.9,1387.5 L1732.5,1387.1 L1734.1,1387.4 L1735.7,1387.8 L1737.3,1388.0 L1738.9,1387.5 L1740.5,1387.8 L1742.1,1387.5 L1743.8,1386.8 L1745.4,1386.9 L1747.0,1387.7 L1748.6,1388.0 L1750.2,1387.6 L1751.8,1387.6 L1753.4,1387.7 L1755.0,1388.0 L1756.6,1388.0 L1758.2,1387.8 L1759.8,1387.8 L1761.4,1387.8 L1763.0,1388.1 L1764.6,1388.2 L1766.2,1387.9 L1767.8,1387.8 L1769.4,1387.8 L1771.0,1388.2 L1772.6,1388.4 L1774.2,1388.5 L1775.8,1388.2 L1777.4,1388.6 L1779.0,1388.6 L1780.6,1388.6 L1782.2,1388.7 L1783.8,1388.6 L1785.4,1388.7 L1787.0,1388.6 L1788.6,1388.4 L1790.2,1388.6 L1791.8,1388.5 L1793.4,1388.4 L1795.0,1388.5 L1796.6,1388.7 L1798.2,1389.1 L1799.8,1389.5 L1801.4,1389.2 L1803.0,1389.2 L1804.6,1388.7 L1806.2,1388.7 L1807.8,1389.0 L1809.4,1389.2 L1811.0,1389.2 L1812.6,1389.4 L1814.2,1389.1 L1815.8,1389.2 L1817.4,1389.5 L1819.0,1389.3 L1820.6,1389.5 L1822.2,1389.8 L1823.8,1389.7 L1825.4,1390.0 L1827.0,1389.9 L1828.7,1389.8 L1830.3,1390.0 L1831.9,1390.1 L1833.5,1389.7 L1835.1,1390.2 L1836.7,1390.2 L1838.3,1390.4 L1839.9,1389.9 L1841.5,1390.1 L1843.1,1390.6 L1844.7,1390.9 L1846.3,1390.6 L1847.9,1390.6 L1849.5,1390.5 L1851.1,1390.4 L1852.7,1390.4 L1854.3,1390.5 L1855.9,1390.9 L1857.5,1391.0 L1859.1,1390.7 L1860.7,1390.6 L1862.3,1390.4 L1863.9,1390.2 L1865.5,1390.6 L1867.1,1390.7 L1868.7,1391.1 L1870.3,1391.3 L1871.9,1391.1 L1873.5,1391.0 L1875.1,1390.6 L1876.7,1390.5 L1878.3,1390.7 L1879.9,1390.7 L1881.5,1391.0 L1883.1,1390.9 L1884.7,1390.3 L1886.3,1390.3 L1887.9,1390.9 L1889.5,1390.9 L1891.1,1390.7 L1892.7,1390.6 L1894.3,1390.7 L1895.9,1390.6 L1897.5,1390.5 L1899.1,1390.6 L1900.7,1390.7 L1902.4,1390.9 L1904.0,1391.0 L1905.6,1391.3 L1907.2,1391.2 L1908.8,1390.8 L1910.4,1390.9 L1912.0,1391.4 L1913.6,1391.6 L1915.2,1391.2 L1916.8,1390.8 L1918.4,1391.0 L1920.0,1391.2 L1921.6,1391.1 L1923.2,1391.4 L1924.8,1391.6 L1926.4,1391.7 L1928.0,1391.9 L1929.6,1391.7 L1931.2,1391.5 L1932.8,1391.5 L1934.4,1391.7 L1936.0,1391.5 L1937.6,1392.1 L1939.2,1392.2 L1940.8,1392.0 L1942.4,1391.8 L1944.0,1391.9 L1945.6,1391.8 L1947.2,1391.9 L1948.8,1392.0 L1950.4,1391.7 L1952.0,1391.6 L1953.6,1391.6 L1955.2,1391.6 L1956.8,1391.8 L1958.4,1392.0 L1960.0,1392.0 L1961.6,1392.3 L1963.2,1392.7 L1964.8,1392.9 L1966.4,1392.6 L1968.0,1392.5 L1969.6,1392.3 L1971.3,1392.2 L1972.9,1391.9 L1974.5,1392.3 L1976.1,1392.6 L1977.7,1392.2 L1979.3,1392.1 L1980.9,1392.0 L1982.5,1392.2 L1984.1,1392.0 L1985.7,1392.4 L1987.3,1392.2 L1988.9,1391.9 L1990.5,1392.1 L1992.1,1392.0 L1993.7,1392.1 L1995.3,1392.3 L1996.9,1392.7 L1998.5,1392.7 L2000.1,1392.8 L2001.7,1392.6 L2003.3,1392.4 L2004.9,1391.8 L2006.5,1392.1 L2008.1,1392.3 L2009.7,1392.3 L2011.3,1392.4 L2012.9,1392.1 L2014.5,1392.3 L2016.1,1392.4 L2017.7,1392.4 L2019.3,1392.5 L2020.9,1392.7 L2022.5,1393.0 L2024.1,1393.1 L2025.7,1393.1 L2027.3,1392.8 L2028.9,1392.4 L2030.5,1392.3 L2032.1,1392.3 L2033.7,1392.8 L2035.3,1393.2 L2036.9,1393.1 L2038.6,1393.1 L2040.2,1393.2 L2041.8,1393.2 L2043.4,1393.6 L2045.0,1393.5 L2046.6,1393.4 L2048.2,1393.1 L2049.8,1393.5 L2051.4,1393.5 L2053.0,1393.3 L2054.6,1393.3 L2056.2,1393.5 L2057.8,1393.2 L2059.4,1393.6 L2061.0,1393.9 L2062.6,1393.9 L2064.2,1393.9 L2065.8,1393.7 L2067.4,1393.6 L2069.0,1393.8 L2070.6,1393.6 L2072.2,1393.6 L2073.8,1393.4 L2075.4,1393.4 L2077.0,1393.5 L2078.6,1393.4 L2080.2,1393.5 L2081.8,1393.8 L2083.4,1394.1 L2085.0,1394.3 L2086.6,1394.2 L2088.2,1393.5 L2089.8,1393.5 L2091.4,1393.8 L2093.0,1393.4 L2094.6,1393.6 L2096.2,1393.6 L2097.8,1393.5 L2099.4,1393.6 L2101.0,1393.6 L2102.6,1394.3 L2104.3,1394.1 L2105.9,1393.7 L2107.5,1393.6 L2109.1,1393.8 L2110.7,1394.0 L2112.3,1393.8 L2113.9,1394.0 L2115.5,1393.7 L2117.1,1393.6 L2118.7,1393.4 L2120.3,1393.6 L2121.9,1394.2 L2123.5,1394.0 L2125.1,1393.9 L2126.7,1394.3 L2128.3,1393.8 L2129.9,1394.0 L2131.5,1394.1 L2133.1,1394.1 L2134.7,1393.9 L2136.3,1393.8 L2137.9,1394.2 L2139.5,1393.8 L2141.1,1393.5 L2142.7,1393.5 L2144.3,1394.0 L2145.9,1394.2 L2147.5,1394.1 L2149.1,1393.7 L2150.7,1393.5 L2152.3,1393.9 L2153.9,1394.5 L2155.5,1394.5 L2157.1,1393.9 L2158.7,1394.4 L2160.3,1394.6 L2161.9,1394.4 L2163.5,1394.3 L2165.1,1394.2 L2166.7,1394.2 L2168.3,1394.2 L2170.0,1394.3 L2171.6,1394.7 L2173.2,1394.6 L2174.8,1394.4 L2176.4,1394.5 L2178.0,1394.5 L2179.6,1394.4 L2181.2,1394.2 L2182.8,1394.4 L2184.4,1394.5 L2186.0,1394.6 L2187.6,1394.8 L2189.2,1394.6 L2190.8,1394.7 L2192.4,1394.3 L2194.0,1394.5 L2195.6,1394.7 L2197.2,1394.4 L2198.7,1394.1 L2200.0,1394.1 L2201.0,1394.4" stroke="#008000"/>
<path d="M1210.0,1161.6 L1210.9,1160.3 L1211.8,1158.9 L1212.7,1157.6 L1213.6,1156.3 L1214.5,1154.9 L1215.5,1153.6 L1216.4,1152.3 L1217.3,1151.2 L1218.2,1149.9 L1219.2,1148.7 L1220.1,1147.5 L1221.1,1146.2 L1222.0,1144.8 L1223.0,1143.5 L1224.0,1142.2 L1225.0,1141.0 L1226.0,1139.9 L1227.0,1138.6 L1228.0,1137.2 L1229.0,1135.8 L1229.9,1134.4 L1230.7,1133.1 L1231.5,1131.7 L1232.3,1130.3 L1233.0,1128.7 L1233.7,1127.3 L1234.4,1126.2 L1235.1,1124.8 L1235.7,1123.2 L1236.3,1121.4 L1236.9,1119.9 L1237.5,1118.4 L1238.0,1116.9 L1238.5,1115.6 L1239.0,1114.1 L1239.5,1112.6 L1240.0,1111.1 L1240.5,1109.6 L1240.9,1108.3 L1241.4,1106.6 L1241.9,1104.9 L1242.5,1103.5 L1243.0,1101.9 L1243.5,1100.4 L1244.0,1099.0 L1244.5,1097.3 L1245.0,1095.7 L1245.5,1094.3 L1246.0,1093.0 L1246.5,1091.5 L1247.0,1089.9 L1247.5,1088.4 L1248.0,1086.7 L1248.5,1085.2 L1249.0,1083.9 L1249.5,1082.2 L1250.0,1080.7 L1250.5,1079.2 L1251.0,1077.6 L1251.4,1076.0 L1251.9,1074.4 L1252.3,1072.8 L1252.7,1071.3 L1253.1,1069.8 L1253.5,1068.2 L1253.8,1066.7 L1254.2,1065.4 L1254.5,1063.9 L1254.8,1062.4 L1255.2,1060.6 L1255.5,1058.8 L1255.8,1057.5 L1256.1,1055.9 L1256.4,1054.2 L1256.7,1052.5 L1256.9,1051.0 L1257.2,1049.5 L1257.5,1047.9 L1257.7,1046.2 L1258.0,1044.7 L1258.3,1043.1 L1258.5,1041.4 L1258.8,1039.9 L1259.0,1038.5 L1259.3,1037.0 L1259.5,1035.2 L1259.7,1033.5 L1260.0,1032.1 L1260.2,1030.5 L1260.4,1028.8 L1260.7,1027.2 L1260.9,1025.8 L1261.1,1024.0 L1261.4,1022.4 L1261.6,1020.9 L1261.9,1019.2 L1262.2,1017.7 L1262.5,1016.3 L1262.9,1014.6 L1263.2,1013.0 L1263.5,1011.5 L1263.9,1010.1 L1264.1,1008.5 L1264.4,1006.8 L1264.6,1005.3 L1264.8,1003.6 L1265.0,1002.3 L1265.2,1000.9 L1265.3,999.2 L1265.5,997.5 L1265.6,996.0 L1265.8,994.3 L1265.9,992.6 L1266.0,990.8 L1266.2,989.1 L1266.3,987.6 L1266.5,986.2 L1266.6,984.6 L1266.7,982.9 L1266.9,981.2 L1267.0,979.7 L1267.1,978.0 L1267.2,976.4 L1267.4,974.9 L1267.5,973.3 L1267.6,971.7 L1267.8,970.1 L1267.9,968.5 L1268.0,967.0 L1268.2,965.4 L1268.3,963.5 L1268.5,962.1 L1268.6,960.6 L1268.7,959.0 L1268.9,957.5 L1269.0,955.8 L1269.2,954.1 L1269.4,952.5 L1269.5,950.9 L1269.7,949.2 L1269.9,947.7 L1270.1,946.1 L1270.4,944.5 L1270.6,942.8 L1270.8,941.1 L1271.1,939.4 L1271.4,937.9 L1271.8,936.4 L1272.1,935.1 L1272.5,933.6 L1273.1,931.9 L1273.8,930.1 L1274.6,928.4 L1275.4,927.2 L1276.3,926.8 L1277.3,927.2 L1278.4,928.4 L1279.3,930.2 L1279.9,931.8 L1280.3,933.3 L1280.6,934.7 L1280.8,936.0 L1281.0,937.5 L1281.2,939.4 L1281.4,941.1 L1281.5,942.9 L1281.7,944.7 L1281.9,946.1 L1282.1,947.6 L1282.2,949.1 L1282.4,950.7 L1282.6,952.2 L1282.7,953.7 L1282.9,955.4 L1283.0,957.1 L1283.2,958.6 L1283.3,960.4 L1283.5,961.9 L1283.6,963.3 L1283.8,964.9 L1283.9,966.9 L1284.0,968.6 L1284.2,970.1 L1284.3,971.6 L1284.5,973.2 L1284.6,974.9 L1284.8,976.4 L1284.9,978.0 L1285.0,979.6 L1285.2,981.2 L1285.3,982.6 L1285.5,984.3 L1285.6,986.0 L1285.8,987.6 L1285.9,989.3 L1286.1,990.8 L1286.2,992.4 L1286.4,994.0 L1286.5,995.6 L1286.7,997.1 L1286.8,998.6 L1287.0,1000.2 L1287.1,1001.8 L1287.3,1003.6 L1287.5,1005.2 L1287.6,1006.8 L1287.8,1008.5 L1287.9,1010.0 L1288.1,1011.5 L1288.2,1013.0 L1288.4,1014.8 L1288.5,1016.3 L1288.7,1017.9 L1288.9,1019.5 L1289.0,1021.0 L1289.2,1022.7 L1289.3,1024.1 L1289.4,1025.7 L1289.6,1027.4 L1289.7,1029.0 L1289.9,1030.7 L1290.0,1032.3 L1290.2,1033.9 L1290.3,1035.5 L1290.4,1037.2 L1290.6,1038.8 L1290.7,1040.2 L1290.8,1041.7 L1291.0,1043.3 L1291.1,1045.0 L1291.2,1046.6 L1291.3,1048.1 L1291.4,1049.8 L1291.5,1051.2 L1291.6,1052.8 L1291.7,1054.4 L1291.8,1056.0 L1291.9,1057.6 L1292.0,1059.4 L1292.1,1061.1 L1292.2,1062.6 L1292.3,1064.2 L1292.4,1065.8 L1292.5,1067.4 L1292.6,1069.1 L1292.7,1070.7 L1292.8,1072.2 L1292.9,1073.7 L1293.0,1075.0 L1293.1,1076.6 L1293.2,1078.4 L1293.4,1079.8 L1293.5,1081.5 L1293.6,1083.4 L1293.7,1085.0 L1293.8,1086.6 L1293.9,1088.2 L1294.0,1089.9 L1294.1,1091.4 L1294.3,1092.6 L1294.4,1093.9 L1294.5,1095.5 L1294.7,1097.5 L1294.8,1099.5 L1295.0,1100.8 L1295.1,1102.4 L1295.3,1104.3 L1295.4,1105.9 L1295.6,1107.0 L1295.8,1108.5 L1295.9,1111.0 L1296.1,1112.2 L1296.3,1113.6 L1296.4,1115.4 L1296.6,1116.3 L1296.8,1117.6 L1296.9,1119.2 L1297.1,1121.4 L1297.3,1122.9 L1297.4,1124.8 L1297.6,1126.8 L1297.7,1128.5 L1297.9,1130.8 L1298.0,1131.7 L1298.2,1132.7 L1298.3,1135.2 L1298.5,1137.2 L1298.7,1138.5 L1298.8,1139.3 L1299.0,1140.6 L1299.2,1142.5 L1299.3,1144.3 L1299.5,1145.9 L1299.7,1147.9 L1299.9,1149.3 L1300.1,1150.4 L1300.3,1151.1 L1300.5,1152.2 L1300.7,1154.7 L1300.9,1157.1 L1301.1,1158.6 L1301.3,1159.7 L1301.5,1161.7 L1301.7,1163.3 L1302.0,1164.7 L1302.2,1165.6 L1302.4,1167.2 L1302.7,1169.4 L1302.9,1171.5 L1303.2,1172.8 L1303.5,1174.5 L1303.7,1176.4 L1304.0,1177.3 L1304.3,1178.5 L1304.6,1180.2 L1304.9,1182.3 L1305.2,1183.3 L1305.5,1184.4 L1305.8,1186.3 L1306.2,1188.2 L1306.5,1189.7 L1306.9,1191.4 L1307.2,1193.1 L1307.6,1194.3 L1308.0,1195.5 L1308.4,1196.9 L1308.8,1199.4 L1309.3,1201.5 L1309.7,1202.9 L1310.2,1204.1 L1310.7,1205.1 L1311.3,1206.6 L1311.8,1207.3 L1312.4,1208.6 L1313.0,1210.5 L1313.7,1213.1 L1314.4,1215.0 L1315.2,1216.6 L1316.0,1218.0 L1316.9,1218.4 L1317.8,1219.7 L1318.7,1220.7 L1319.7,1221.8 L1320.8,1223.4 L1321.9,1224.1 L1323.1,1225.0 L1324.3,1226.6 L1325.6,1227.3 L1327.0,1228.3 L1328.3,1229.4 L1329.8,1229.8 L1331.2,1230.5 L1332.7,1231.7 L1334.2,1232.5 L1335.7,1232.2 L1337.3,1233.4 L1338.8,1233.8 L1340.4,1233.7 L1342.0,1233.7 L1343.6,1233.4 L1345.2,1234.1 L1346.8,1234.6 L1348.4,1234.1 L1350.0,1233.3 L1351.6,1233.3 L1353.2,1233.0 L1354.8,1232.8 L1356.4,1233.2 L1358.0,1234.1 L1359.6,1234.5 L1361.2,1234.2 L1362.8,1234.5 L1364.4,1234.2 L1366.0,1234.5 L1367.6,1235.4 L1369.2,1235.9 L1370.8,1235.0 L1372.4,1233.3 L1374.0,1233.4 L1375.6,1233.6 L1377.1,1233.2 L1378.7,1232.8 L1380.3,1233.2 L1381.9,1231.7 L1383.5,1231.4 L1385.1,1231.0 L1386.7,1231.0 L1388.3,1231.1 L1389.9,1231.0 L1391.4,1231.0 L1393.0,1230.3 L1394.5,1230.3 L1396.0,1230.3 L1397.5,1229.5 L1398.9,1229.1 L1400.4,1227.9 L1401.8,1226.6 L1403.2,1226.0 L1404.6,1225.3 L1405.9,1225.3 L1407.2,1224.4 L1408.5,1223.6 L1409.8,1222.1 L1411.2,1221.4 L1412.6,1220.5 L1414.1,1220.0 L1415.7,1219.6 L1417.2,1220.3 L1418.7,1220.8 L1420.1,1220.3 L1421.5,1221.1 L1422.8,1222.8 L1424.1,1223.0 L1425.3,1223.9 L1426.4,1224.8 L1427.6,1225.7 L1428.7,1227.4 L1429.8,1228.7 L1430.9,1229.6 L1432.1,1231.7 L1433.3,1232.4 L1434.5,1232.4 L1435.8,1234.2 L1437.1,1235.8 L1438.4,1235.7 L1439.8,1236.7 L1441.3,1237.7 L1442.8,1237.4 L1444.3,1238.9 L1445.9,1240.0 L1447.5,1239.7 L1449.1,1238.7 L1450.7,1239.0 L1452.3,1239.0 L1453.8,1239.5 L1455.4,1239.3 L1457.0,1238.5 L1458.6,1238.1 L1460.2,1237.5 L1461.9,1237.2 L1463.5,1237.0 L1465.2,1237.0 L1466.9,1237.0 L1468.6,1237.3 L1470.2,1238.1 L1471.7,1238.6 L1473.2,1239.2 L1474.6,1239.8 L1475.9,1241.2 L1477.1,1242.1 L1478.1,1242.6 L1479.2,1242.9 L1480.2,1244.3 L1481.3,1245.6 L1482.4,1247.1 L1483.5,1248.6 L1484.7,1249.5 L1485.9,1250.0 L1487.2,1251.5 L1488.5,1252.6 L1489.8,1253.2 L1491.1,1253.5 L1492.5,1254.5 L1493.9,1255.3 L1495.4,1255.8 L1496.8,1256.5 L1498.3,1257.4 L1499.8,1257.6 L1501.3,1257.9 L1502.8,1258.7 L1504.4,1259.3 L1505.9,1260.1 L1507.5,1260.5 L1509.1,1259.8 L1510.7,1260.3 L1512.3,1260.7 L1513.9,1260.3 L1515.5,1260.8 L1517.1,1261.4 L1518.7,1262.0 L1520.3,1263.0 L1521.9,1264.0 L1523.4,1264.3 L1525.0,1263.7 L1526.6,1263.7 L1528.1,1264.4 L1529.7,1264.2 L1531.3,1264.4 L1532.8,1264.6 L1534.4,1264.5 L1536.0,1265.1 L1537.6,1264.8 L1539.2,1264.8 L1540.8,1264.7 L1542.4,1264.8 L1543.9,1264.4 L1545.5,1264.1 L1547.1,1264.7 L1548.7,1265.2 L1550.3,1265.0 L1551.9,1266.0 L1553.6,1266.7 L1555.2,1266.2 L1556.8,1266.2 L1558.4,1266.0 L1560.0,1266.2 L1561.6,1265.7 L1563.2,1265.2 L1564.8,1266.0 L1566.4,1266.9 L1568.0,1266.5 L1569.6,1266.3 L1571.2,1266.6 L1572.8,1266.7 L1574.4,1267.7 L1576.0,1267.5 L1577.6,1267.9 L1579.2,1268.1 L1580.8,1267.7 L1582.4,1267.4 L1584.0,1267.6 L1585.6,1267.6 L1587.2,1267.1 L1588.8,1266.4 L1590.4,1266.8 L1592.0,1267.0 L1593.6,1267.1 L1595.2,1267.2 L1596.8,1267.2 L1598.4,1267.3 L1600.0,1268.0 L1601.6,1267.9 L1603.2,1268.0 L1604.8,1268.6 L1606.4,1269.3 L1608.0,1269.3 L1609.6,1269.3 L1611.2,1269.0 L1612.8,1269.2 L1614.4,1269.6 L1616.0,1269.9 L1617.5,1270.1 L1619.1,1270.2 L1620.7,1270.1 L1622.3,1270.2 L1623.9,1270.5 L1625.5,1270.9 L1627.1,1270.6 L1628.7,1270.7 L1630.3,1271.3 L1631.9,1271.6 L1633.5,1271.5 L1635.1,1270.9 L1636.7,1271.3 L1638.3,1271.5 L1639.9,1271.6 L1641.5,1271.8 L1643.1,1271.9 L1644.7,1271.7 L1646.3,1271.5 L1647.9,1271.5 L1649.5,1271.3 L1651.1,1271.9 L1652.7,1272.7 L1654.3,1272.4 L1655.9,1271.8 L1657.5,1272.0 L1659.1,1272.3 L1660.7,1272.3 L1662.3,1272.0 L1663.9,1272.6 L1665.5,1273.8 L1667.1,1274.5 L1668.7,1273.8 L1670.3,1273.2 L1671.9,1273.3 L1673.5,1273.5 L1675.1,1274.0 L1676.7,1274.6 L1678.3,1274.7 L1679.9,1273.7 L1681.5,1274.1 L1683.1,1274.5 L1684.7,1274.6 L1686.3,1274.8 L1687.9,1275.2 L1689.5,1275.7 L1691.1,1275.3 L1692.7,1275.0 L1694.3,1275.5 L1695.9,1275.2 L1697.5,1274.4 L1699.1,1274.5 L1700.7,1275.1 L1702.3,1275.4 L1703.9,1275.3 L1705.5,1276.0 L1707.1,1276.1 L1708.7,1276.1 L1710.3,1275.6 L1711.9,1275.7 L1713.5,1276.3 L1715.1,1276.6 L1716.7,1276.7 L1718.3,1276.5 L1719.9,1276.5 L1721.5,1276.0 L1723.1,1276.4 L1724.7,1276.8 L1726.3,1276.3 L1727.9,1276.3 L1729.5,1276.5 L1731.1,1276.9 L1732.7,1277.0 L1734.3,1276.6 L1735.9,1276.7 L1737.5,1277.7 L1739.1,1277.9 L1740.7,1277.3 L1742.3,1277.2 L1743.9,1277.6 L1745.5,1277.6 L1747.1,1277.3 L1748.7,1277.6 L1750.3,1277.2 L1751.9,1277.2 L1753.5,1277.2 L1755.1,1278.0 L1756.7,1278.3 L1758.3,1278.2 L1759.9,1277.9 L1761.5,1278.0 L1763.1,1277.9 L1764.7,1278.4 L1766.3,1278.9 L1767.9,1278.8 L1769.5,1278.7 L1771.1,1279.0 L1772.7,1278.8 L1774.3,1278.8 L1775.9,1279.0 L1777.5,1278.7 L1779.1,1278.9 L1780.7,1278.8 L1782.3,1278.5 L1783.9,1278.7 L1785.5,1279.0 L1787.1,1279.1 L1788.7,1279.2 L1790.3,1279.4 L1791.9,1279.2 L1793.5,1279.0 L1795.1,1279.1 L1796.7,1279.3 L1798.3,1279.3 L1799.9,1279.6 L1801.5,1279.6 L1803.1,1279.5 L1804.7,1279.4 L1806.3,1279.8 L1807.9,1279.6 L1809.5,1279.8 L1811.1,1280.1 L1812.7,1280.4 L1814.3,1280.3 L1815.9,1280.3 L1817.5,1280.1 L1819.1,1280.0 L1820.7,1280.2 L1822.3,1279.8 L1823.9,1279.5 L1825.5,1279.7 L1827.1,1280.4 L1828.7,1280.6 L1830.3,1280.4 L1831.9,1280.7 L1833.5,1280.9 L1835.2,1280.6 L1836.8,1280.7 L1838.4,1281.2 L1840.0,1280.8 L1841.6,1280.7 L1843.2,1280.4 L1844.8,1280.1 L1846.4,1280.4 L1848.0,1280.7 L1849.6,1280.9 L1851.2,1280.8 L1852.8,1280.8 L1854.4,1281.1 L1856.0,1280.9 L1857.6,1280.6 L1859.2,1280.6 L1860.8,1280.6 L1862.4,1280.8 L1864.0,1281.2 L1865.6,1281.3 L1867.2,1281.5 L1868.8,1281.3 L1870.4,1281.0 L1872.0,1281.1 L1873.6,1281.2 L1875.2,1281.3 L1876.8,1281.8 L1878.4,1282.0 L1880.0,1281.6 L1881.6,1281.1 L1883.2,1281.7 L1884.8,1282.0 L1886.4,1282.0 L1888.0,1281.6 L1889.6,1281.3 L1891.2,1281.6 L1892.8,1282.3 L1894.4,1282.6 L1896.0,1282.4 L1897.6,1282.1 L1899.2,1282.3 L1900.8,1282.4 L1902.4,1282.2 L1904.0,1282.3 L1905.6,1282.2 L1907.2,1282.2 L1908.8,1282.3 L1910.4,1282.6 L1912.0,1282.4 L1913.6,1282.4 L1915.2,1282.2 L1916.8,1282.1 L1918.4,1282.4 L1920.0,1282.8 L1921.6,1282.8 L1923.2,1282.8 L1924.8,1283.0 L1926.4,1283.1 L1928.1,1283.1 L1929.7,1283.0 L1931.3,1283.1 L1932.9,1283.3 L1934.5,1282.7 L1936.1,1282.7 L1937.7,1283.2 L1939.3,1283.3 L1940.9,1283.2 L1942.5,1283.2 L1944.1,1282.8 L1945.7,1283.0 L1947.3,1283.4 L1948.9,1283.4 L1950.5,1283.9 L1952.1,1284.0 L1953.7,1284.0 L1955.3,1283.8 L1956.9,1283.7 L1958.5,1283.6 L1960.1,1283.1 L1961.7,1283.1 L1963.3,1283.6 L1964.9,1283.4 L1966.5,1283.4 L1968.1,1283.7 L1969.7,1283.6 L1971.3,1283.7 L1972.9,1283.7 L1974.5,1283.8 L1976.1,1283.5 L1977.7,1283.6 L1979.3,1284.1 L1980.9,1283.9 L1982.5,1284.4 L1984.1,1284.5 L1985.7,1284.1 L1987.3,1284.2 L1988.9,1284.4 L1990.5,1284.3 L1992.1,1284.4 L1993.7,1284.1 L1995.3,1284.0 L1996.9,1284.4 L1998.5,1284.3 L2000.1,1284.1 L2001.7,1284.1 L2003.3,1284.5 L2004.9,1284.7 L2006.5,1284.7 L2008.1,1284.6 L2009.7,1284.4 L2011.4,1284.5 L2013.0,1284.7 L2014.6,1285.2 L2016.2,1285.1 L2017.8,1284.7 L2019.4,1284.7 L2021.0,1284.8 L2022.6,1284.6 L2024.2,1284.6 L2025.8,1284.7 L2027.4,1284.6 L2029.0,1284.8 L2030.6,1285.1 L2032.2,1284.8 L2033.8,1284.9 L2035.4,1284.9 L2037.0,1284.9 L2038.6,1284.9 L2040.2,1285.0 L2041.8,1285.1 L2043.4,1284.9 L2045.0,1285.1 L2046.6,1285.2 L2048.2,1285.1 L2049.8,1284.9 L2051.4,1285.1 L2053.0,1285.4 L2054.6,1284.9 L2056.2,1285.0 L2057.8,1285.0 L2059.4,1285.1 L2061.0,1284.9 L2062.6,1285.0 L2064.2,1284.8 L2065.8,1285.2 L2067.4,1285.2 L2069.0,1285.3 L2070.6,1285.1 L2072.2,1285.1 L2073.8,1285.4 L2075.4,1285.5 L2077.0,1285.5 L2078.6,1285.8 L2080.2,1285.5 L2081.8,1285.4 L2083.4,1285.5 L2085.0,1285.6 L2086.6,1286.1 L2088.2,1286.0 L2089.8,1285.8 L2091.5,1285.4 L2093.1,1285.2 L2094.7,1285.2 L2096.3,1285.3 L2097.9,1285.6 L2099.5,1285.8 L2101.1,1285.7 L2102.7,1285.4 L2104.3,1285.9 L2105.9,1285.9 L2107.5,1285.8 L2109.1,1286.0 L2110.7,1286.0 L2112.3,1286.0 L2113.9,1286.1 L2115.5,1286.1 L2117.1,1285.6 L2118.7,1285.2 L2120.3,1285.5 L2121.9,1285.8 L2123.5,1286.0 L2125.1,1286.2 L2126.7,1286.0 L2128.3,1286.0 L2129.9,1286.6 L2131.5,1286.6 L2133.1,1286.4 L2134.7,1286.2 L2136.3,1286.3 L2137.9,1286.3 L2139.5,1285.8 L2141.1,1285.6 L2142.7,1285.6 L2144.3,1286.0 L2145.9,1286.0 L2147.5,1285.9 L2149.1,1286.0 L2150.7,1286.3 L2152.3,1286.5 L2153.9,1286.7 L2155.5,1286.9 L2157.1,1286.8 L2158.7,1286.7 L2160.3,1286.5 L2161.9,1286.4 L2163.5,1286.5 L2165.1,1286.6 L2166.8,1286.8 L2168.4,1286.5 L2170.0,1286.0 L2171.6,1285.8 L2173.2,1286.0 L2174.8,1286.0 L2176.4,1286.4 L2178.0,1286.6 L2179.6,1286.4 L2181.2,1286.5 L2182.8,1286.8 L2184.4,1286.9 L2186.0,1286.5 L2187.6,1286.4 L2189.2,1286.6 L2190.8,1286.9 L2192.4,1287.2 L2194.0,1287.3 L2195.6,1287.2 L2197.2,1286.5 L2198.7,1286.5 L2200.0,1287.0 L2201.0,1287.2" stroke="#800080"/>
<path d="M1210.0,1063.2 L1211.7,1063.1 L1213.3,1063.0 L1214.9,1062.9 L1216.5,1062.6 L1218.0,1062.4 L1219.5,1062.2 L1221.0,1061.8 L1222.5,1061.0 L1224.0,1060.3 L1225.3,1059.4 L1226.5,1058.5 L1227.6,1057.3 L1228.7,1056.0 L1229.7,1054.9 L1230.8,1053.8 L1231.8,1052.4 L1232.8,1050.9 L1233.8,1049.7 L1234.8,1048.6 L1235.8,1047.2 L1236.8,1045.8 L1237.7,1044.7 L1238.6,1043.6 L1239.5,1042.3 L1240.3,1040.9 L1241.1,1039.5 L1241.9,1038.0 L1242.7,1036.7 L1243.5,1035.2 L1244.2,1033.6 L1245.1,1032.2 L1245.9,1031.1 L1246.7,1029.8 L1247.5,1028.4 L1248.3,1027.0 L1249.1,1025.5 L1249.9,1024.0 L1250.7,1022.5 L1251.4,1021.2 L1252.1,1019.8 L1252.8,1018.3 L1253.4,1016.9 L1254.1,1015.6 L1254.7,1014.2 L1255.3,1012.8 L1255.9,1011.2 L1256.6,1009.5 L1257.2,1008.1 L1257.8,1006.6 L1258.5,1005.2 L1259.3,1003.9 L1260.0,1002.5 L1260.8,1001.0 L1261.5,999.6 L1262.2,998.2 L1262.9,996.7 L1263.5,995.2 L1264.1,993.8 L1264.6,992.4 L1265.1,990.7 L1265.6,989.0 L1266.1,987.4 L1266.6,985.9 L1267.0,984.5 L1267.5,982.8 L1267.9,981.0 L1268.3,979.5 L1268.8,978.2 L1269.2,976.6 L1269.6,975.0 L1270.0,973.5 L1270.4,971.9 L1270.8,970.3 L1271.1,968.8 L1271.4,967.3 L1271.8,965.7 L1272.1,964.2 L1272.4,962.6 L1272.6,961.0 L1272.9,959.4 L1273.2,957.8 L1273.4,956.2 L1273.7,954.8 L1273.9,953.1 L1274.1,951.4 L1274.4,949.7 L1274.6,948.3 L1274.8,946.7 L1275.1,944.9 L1275.3,943.4 L1275.5,941.9 L1275.7,940.4 L1276.0,939.0 L1276.2,937.5 L1276.4,935.8 L1276.6,934.3 L1276.8,932.9 L1277.0,931.3 L1277.3,929.6 L1277.5,927.9 L1277.7,926.4 L1278.0,924.8 L1278.2,923.3 L1278.4,921.6 L1278.7,920.0 L1278.9,918.3 L1279.1,916.7 L1279.4,915.2 L1279.6,913.6 L1279.9,912.0 L1280.1,910.4 L1280.3,908.8 L1280.6,907.1 L1280.8,905.6 L1281.1,904.0 L1281.3,902.3 L1281.5,900.5 L1281.8,898.9 L1282.0,897.4 L1282.2,895.9 L1282.5,894.4 L1282.7,892.8 L1282.9,891.3 L1283.1,889.6 L1283.4,888.0 L1283.6,886.7 L1283.8,885.1 L1284.0,883.3 L1284.2,881.8 L1284.4,880.6 L1284.6,879.0 L1284.9,877.2 L1285.1,875.5 L1285.3,873.7 L1285.5,872.2 L1285.7,870.7 L1285.9,868.8 L1286.0,867.3 L1286.2,865.7 L1286.4,864.2 L1286.6,862.4 L1286.8,860.8 L1287.0,859.3 L1287.2,857.8 L1287.4,856.3 L1287.6,854.7 L1287.7,852.9 L1287.9,851.4 L1288.1,849.9 L1288.3,848.3 L1288.5,846.9 L1288.7,845.3 L1288.8,843.7 L1289.0,842.1 L1289.2,840.5 L1289.4,838.9 L1289.6,837.2 L1289.9,835.7 L1290.1,834.0 L1290.3,832.3 L1290.5,830.9 L1290.8,829.3 L1291.0,827.7 L1291.3,826.0 L1291.7,824.5 L1292.1,823.0 L1292.8,821.3 L1293.8,819.9 L1294.8,819.2 L1295.7,819.7 L1296.6,821.0 L1297.4,822.7 L1298.0,824.4 L1298.5,826.0 L1298.8,827.6 L1299.2,829.1 L1299.5,830.7 L1299.8,832.2 L1300.1,833.9 L1300.3,835.7 L1300.5,837.2 L1300.8,838.7 L1301.0,840.1 L1301.1,841.7 L1301.3,843.5 L1301.5,845.2 L1301.6,846.9 L1301.8,848.3 L1301.9,849.8 L1302.1,851.3 L1302.2,852.8 L1302.3,854.6 L1302.5,856.1 L1302.7,857.7 L1302.8,859.3 L1303.0,861.0 L1303.2,862.6 L1303.3,864.3 L1303.5,865.9 L1303.7,867.5 L1303.9,869.2 L1304.0,870.7 L1304.2,872.2 L1304.4,873.9 L1304.5,875.4 L1304.7,877.0 L1304.9,878.6 L1305.0,880.1 L1305.2,881.7 L1305.3,883.4 L1305.5,884.9 L1305.6,886.5 L1305.8,888.1 L1305.9,889.6 L1306.0,891.3 L1306.2,892.9 L1306.3,894.3 L1306.4,896.0 L1306.6,897.7 L1306.7,899.3 L1306.8,900.7 L1306.9,902.4 L1307.0,904.0 L1307.1,905.5 L1307.3,907.0 L1307.4,908.5 L1307.5,910.3 L1307.6,911.9 L1307.7,913.6 L1307.7,915.2 L1307.8,916.9 L1307.9,918.4 L1308.0,920.0 L1308.1,921.7 L1308.2,923.2 L1308.3,924.7 L1308.4,926.4 L1308.5,928.1 L1308.6,929.7 L1308.7,931.4 L1308.8,932.9 L1308.9,934.5 L1309.0,936.1 L1309.1,937.6 L1309.2,939.3 L1309.3,941.0 L1309.4,942.5 L1309.5,944.1 L1309.6,945.8 L1309.7,947.4 L1309.7,949.1 L1309.8,950.7 L1309.9,952.3 L1310.0,953.8 L1310.1,955.3 L1310.2,956.9 L1310.3,958.5 L1310.4,960.0 L1310.5,961.5 L1310.6,963.1 L1310.6,964.7 L1310.7,966.3 L1310.8,967.9 L1310.9,969.5 L1311.0,971.3 L1311.1,973.0 L1311.2,974.4 L1311.3,975.8 L1311.3,977.6 L1311.4,979.3 L1311.5,980.8 L1311.6,982.7 L1311.7,984.2 L1311.7,985.6 L1311.8,987.5 L1311.9,989.1 L1312.0,990.5 L1312.1,991.9 L1312.2,993.7 L1312.2,995.6 L1312.3,996.9 L1312.4,998.2 L1312.5,1000.1 L1312.6,1001.7 L1312.6,1003.2 L1312.7,1005.0 L1312.8,1006.5 L1312.9,1008.0 L1313.0,1009.6 L1313.1,1011.5 L1313.2,1012.9 L1313.2,1014.5 L1313.3,1016.5 L1313.4,1017.9 L1313.5,1019.3 L1313.6,1021.0 L1313.7,1022.3 L1313.8,1023.8 L1313.9,1025.5 L1314.0,1027.2 L1314.1,1028.5 L1314.2,1030.2 L1314.3,1031.8 L1314.4,1033.3 L1314.5,1034.9 L1314.6,1036.6 L1314.8,1037.8 L1314.9,1039.4 L1315.0,1041.1 L1315.1,1043.4 L1315.2,1045.1 L1315.3,1046.3 L1315.4,1048.1 L1315.5,1049.8 L1315.6,1051.7 L1315.7,1053.2 L1315.8,1055.2 L1315.9,1056.6 L1316.0,1057.8 L1316.1,1058.7 L1316.2,1059.8 L1316.3,1061.9 L1316.5,1063.9 L1316.6,1065.5 L1316.7,1066.8 L1316.8,1068.2 L1316.9,1070.0 L1317.1,1072.3 L1317.2,1073.3 L1317.3,1074.3 L1317.5,1075.6 L1317.6,1078.4 L1317.7,1080.0 L1317.9,1081.2 L1318.1,1082.6 L1318.2,1084.5 L1318.4,1086.6 L1318.6,1088.1 L1318.8,1090.3 L1318.9,1091.7 L1319.2,1092.5 L1319.4,1093.7 L1319.6,1095.9 L1319.8,1097.2 L1320.1,1098.6 L1320.3,1100.5 L1320.6,1102.0 L1320.9,1102.5 L1321.3,1104.3 L1321.6,1106.9 L1322.0,1109.6 L1322.4,1111.1 L1323.0,1112.8 L1323.6,1114.1 L1324.3,1114.6 L1325.1,1115.8 L1326.0,1117.2 L1327.0,1118.5 L1328.0,1119.6 L1329.1,1120.6 L1330.3,1121.2 L1331.5,1122.6 L1332.8,1124.0 L1334.1,1125.5 L1335.5,1125.9 L1337.0,1126.2 L1338.4,1127.1 L1339.9,1128.2 L1341.5,1128.8 L1343.1,1128.3 L1344.7,1128.7 L1346.3,1129.3 L1347.9,1129.2 L1349.5,1129.6 L1351.1,1129.6 L1352.7,1130.2 L1354.3,1130.3 L1355.9,1130.0 L1357.5,1129.7 L1359.1,1129.5 L1360.7,1130.1 L1362.3,1130.6 L1363.9,1129.6 L1365.5,1129.6 L1367.1,1129.5 L1368.7,1129.4 L1370.3,1128.9 L1371.9,1128.7 L1373.5,1128.7 L1375.1,1129.1 L1376.7,1128.6 L1378.3,1128.5 L1379.9,1129.0 L1381.5,1128.3 L1383.0,1127.7 L1384.6,1126.8 L1386.2,1126.4 L1387.8,1126.3 L1389.4,1125.9 L1391.0,1125.6 L1392.6,1125.3 L1394.2,1125.2 L1395.7,1125.1 L1397.3,1125.1 L1398.9,1124.6 L1400.5,1125.2 L1402.1,1125.2 L1403.6,1124.9 L1405.2,1125.1 L1406.8,1124.5 L1408.4,1124.2 L1410.0,1123.6 L1411.5,1122.5 L1413.1,1121.6 L1414.6,1121.3 L1416.1,1121.0 L1417.6,1120.3 L1419.1,1119.9 L1420.5,1119.4 L1421.9,1118.6 L1423.3,1118.1 L1424.7,1117.4 L1426.1,1116.8 L1427.4,1115.1 L1428.7,1114.1 L1429.9,1112.7 L1431.1,1110.9 L1432.2,1110.2 L1433.4,1109.6 L1434.6,1108.7 L1435.8,1108.4 L1437.1,1107.1 L1438.4,1106.4 L1439.8,1105.6 L1441.3,1105.0 L1442.8,1104.8 L1444.2,1105.0 L1445.7,1105.2 L1447.1,1105.4 L1448.5,1106.5 L1449.7,1107.6 L1450.8,1108.9 L1451.8,1110.1 L1452.7,1111.2 L1453.6,1111.7 L1454.4,1113.0 L1455.3,1115.0 L1456.3,1116.2 L1457.3,1117.6 L1458.3,1118.6 L1459.3,1119.7 L1460.4,1121.3 L1461.5,1122.3 L1462.7,1123.3 L1463.9,1124.7 L1465.3,1125.3 L1466.6,1126.6 L1468.1,1127.1 L1469.5,1127.1 L1471.0,1127.6 L1472.6,1127.4 L1474.1,1127.3 L1475.7,1127.5 L1477.2,1127.2 L1478.8,1126.1 L1480.3,1126.3 L1481.8,1126.0 L1483.3,1125.4 L1484.7,1124.8 L1486.2,1124.3 L1487.6,1123.3 L1489.1,1121.9 L1490.6,1120.6 L1492.1,1120.8 L1493.7,1121.1 L1495.4,1121.1 L1496.9,1121.4 L1498.4,1122.5 L1499.8,1122.9 L1501.1,1123.4 L1502.3,1124.7 L1503.5,1125.7 L1504.6,1127.3 L1505.7,1128.6 L1506.7,1129.6 L1507.7,1130.9 L1508.6,1131.8 L1509.6,1133.0 L1510.5,1134.6 L1511.4,1136.1 L1512.3,1137.0 L1513.3,1138.8 L1514.3,1140.8 L1515.4,1142.1 L1516.5,1142.7 L1517.6,1143.8 L1518.9,1144.5 L1520.1,1145.1 L1521.5,1146.0 L1522.9,1146.3 L1524.4,1146.4 L1525.9,1147.2 L1527.5,1148.0 L1529.0,1148.7 L1530.6,1149.2 L1532.2,1149.8 L1533.7,1149.9 L1535.3,1150.2 L1536.9,1150.2 L1538.5,1150.4 L1540.1,1150.5 L1541.7,1150.7 L1543.3,1151.2 L1544.9,1152.0 L1546.5,1152.1 L1548.1,1151.8 L1549.7,1152.2 L1551.3,1151.9 L1552.9,1151.5 L1554.5,1151.1 L1556.1,1151.3 L1557.6,1151.9 L1559.2,1152.6 L1560.8,1152.7 L1562.4,1153.1 L1564.0,1153.4 L1565.6,1154.1 L1567.2,1154.4 L1568.8,1153.9 L1570.4,1153.5 L1572.0,1153.8 L1573.6,1154.0 L1575.2,1154.4 L1576.8,1154.3 L1578.4,1154.0 L1580.0,1154.5 L1581.6,1155.2 L1583.2,1155.6 L1584.8,1155.5 L1586.4,1155.4 L1588.0,1155.6 L1589.6,1156.0 L1591.2,1155.4 L1592.8,1155.5 L1594.4,1155.2 L1596.0,1155.3 L1597.6,1155.3 L1599.2,1155.3 L1600.8,1154.6 L1602.4,1154.8 L1604.0,1155.5 L1605.6,1155.2 L1607.2,1154.7 L1608.8,1154.9 L1610.4,1154.7 L1612.0,1154.7 L1613.6,1154.1 L1615.2,1154.3 L1616.8,1154.1 L1618.4,1153.8 L1620.0,1153.8 L1621.6,1154.8 L1623.2,1155.3 L1624.7,1154.8 L1626.3,1154.3 L1627.9,1155.6 L1629.5,1156.7 L1631.0,1155.6 L1632.6,1155.3 L1634.2,1156.3 L1635.8,1156.9 L1637.4,1157.3 L1638.9,1158.1 L1640.5,1158.7 L1642.1,1158.4 L1643.7,1159.4 L1645.2,1159.8 L1646.8,1159.8 L1648.4,1159.1 L1650.0,1158.9 L1651.6,1158.5 L1653.2,1158.5 L1654.8,1158.2 L1656.4,1157.6 L1658.0,1157.9 L1659.6,1158.6 L1661.2,1158.6 L1662.8,1159.2 L1664.4,1159.6 L1666.0,1159.3 L1667.6,1158.8 L1669.2,1158.7 L1670.8,1158.8 L1672.4,1158.9 L1674.0,1158.9 L1675.6,1158.4 L1677.2,1158.3 L1678.9,1158.9 L1680.5,1160.0 L1682.1,1160.1 L1683.7,1159.3 L1685.3,1158.5 L1686.9,1159.5 L1688.5,1159.5 L1690.1,1158.9 L1691.7,1158.6 L1693.3,1159.4 L1694.9,1159.7 L1696.5,1159.0 L1698.1,1159.6 L1699.6,1159.8 L1701.2,1160.0 L1702.8,1159.7 L1704.4,1160.1 L1706.0,1160.0 L1707.6,1160.2 L1709.2,1160.8 L1710.8,1160.4 L1712.4,1160.8 L1714.0,1161.6 L1715.6,1161.4 L1717.2,1160.9 L1718.8,1160.6 L1720.4,1160.7 L1721.9,1161.2 L1723.5,1161.5 L1725.1,1162.2 L1726.7,1162.8 L1728.3,1162.8 L1729.9,1162.5 L1731.5,1162.8 L1733.1,1163.2 L1734.7,1163.6 L1736.3,1163.7 L1737.9,1163.8 L1739.5,1163.9 L1741.1,1164.6 L1742.7,1164.8 L1744.3,1164.8 L1745.8,1165.0 L1747.4,1165.1 L1749.0,1165.6 L1750.6,1165.7 L1752.2,1165.4 L1753.8,1165.5 L1755.4,1165.9 L1757.0,1166.6 L1758.6,1166.4 L1760.2,1166.2 L1761.8,1166.0 L1763.4,1165.8 L1765.0,1166.1 L1766.6,1166.2 L1768.2,1166.3 L1769.8,1166.6 L1771.4,1166.9 L1773.0,1166.9 L1774.6,1167.1 L1776.2,1167.1 L1777.8,1167.6 L1779.4,1167.3 L1781.0,1166.7 L1782.6,1167.0 L1784.2,1167.3 L1785.8,1167.8 L1787.4,1167.7 L1789.0,1167.8 L1790.6,1167.9 L1792.2,1168.2 L1793.8,1168.0 L1795.4,1167.8 L1797.0,1168.0 L1798.6,1168.0 L1800.2,1168.2 L1801.8,1168.2 L1803.4,1168.5 L1805.0,1169.0 L1806.6,1168.9 L1808.2,1168.7 L1809.8,1168.9 L1811.4,1169.2 L1813.0,1169.3 L1814.6,1169.4 L1816.2,1169.3 L1817.8,1169.2 L1819.4,1169.5 L1821.0,1169.6 L1822.6,1169.9 L1824.2,1170.1 L1825.8,1170.4 L1827.4,1170.0 L1829.0,1169.8 L1830.6,1170.1 L1832.2,1170.3 L1833.8,1170.2 L1835.4,1170.0 L1837.0,1170.2 L1838.6,1170.5 L1840.2,1170.8 L1841.8,1170.5 L1843.4,1170.5 L1845.0,1171.0 L1846.6,1171.3 L1848.2,1171.3 L1849.8,1171.2 L1851.4,1171.0 L1853.0,1170.6 L1854.6,1170.3 L1856.2,1170.5 L1857.9,1171.1 L1859.5,1170.8 L1861.1,1170.4 L1862.7,1170.6 L1864.3,1170.7 L1865.9,1171.0 L1867.5,1171.2 L1869.1,1170.9 L1870.7,1170.9 L1872.3,1171.4 L1873.9,1171.5 L1875.5,1171.2 L1877.1,1171.0 L1878.7,1171.4 L1880.3,1171.5 L1881.9,1171.7 L1883.5,1171.7 L1885.1,1171.8 L1886.7,1171.8 L1888.3,1172.0 L1889.9,1172.5 L1891.5,1172.8 L1893.1,1172.5 L1894.7,1171.8 L1896.3,1171.9 L1897.9,1172.0 L1899.5,1172.1 L1901.1,1172.0 L1902.7,1172.3 L1904.3,1172.5 L1905.9,1172.9 L1907.5,1172.9 L1909.1,1173.0 L1910.7,1172.8 L1912.3,1172.6 L1913.9,1172.8 L1915.5,1173.0 L1917.1,1173.4 L1918.7,1173.2 L1920.3,1172.9 L1921.9,1173.2 L1923.5,1173.4 L1925.1,1173.3 L1926.7,1173.3 L1928.3,1173.0 L1929.9,1172.8 L1931.5,1172.9 L1933.1,1173.1 L1934.7,1173.1 L1936.3,1172.9 L1937.9,1172.8 L1939.5,1173.4 L1941.1,1173.3 L1942.8,1173.2 L1944.4,1173.2 L1946.0,1173.5 L1947.6,1173.5 L1949.2,1173.7 L1950.8,1173.7 L1952.4,1173.7 L1954.0,1173.7 L1955.6,1173.7 L1957.2,1174.2 L1958.8,1174.2 L1960.4,1174.3 L1962.0,1174.3 L1963.6,1173.8 L1965.2,1173.8 L1966.8,1173.7 L1968.4,1173.6 L1970.0,1173.8 L1971.6,1174.3 L1973.2,1174.5 L1974.8,1174.1 L1976.4,1174.1 L1978.0,1174.1 L1979.6,1174.1 L1981.2,1174.6 L1982.8,1174.6 L1984.4,1174.3 L1986.0,1174.2 L1987.6,1174.2 L1989.2,1174.2 L1990.8,1174.1 L1992.4,1174.6 L1994.0,1174.6 L1995.6,1174.6 L1997.2,1174.5 L1998.8,1174.4 L2000.4,1174.7 L2002.0,1174.5 L2003.6,1174.6 L2005.2,1174.5 L2006.8,1174.3 L2008.4,1175.0 L2010.0,1174.9 L2011.6,1174.2 L2013.2,1174.5 L2014.8,1174.6 L2016.4,1174.9 L2018.0,1174.8 L2019.6,1175.0 L2021.2,1175.2 L2022.9,1175.3 L2024.5,1175.3 L2026.1,1175.2 L2027.7,1175.4 L2029.3,1175.7 L2030.9,1176.0 L2032.5,1176.2 L2034.1,1175.6 L2035.7,1175.6 L2037.3,1175.9 L2038.9,1175.6 L2040.5,1175.8 L2042.1,1176.0 L2043.7,1175.6 L2045.3,1176.2 L2046.9,1176.7 L2048.5,1176.2 L2050.1,1175.7 L2051.7,1175.7 L2053.3,1176.1 L2054.9,1176.7 L2056.5,1176.5 L2058.1,1176.2 L2059.7,1176.4 L2061.3,1176.3 L2062.9,1176.1 L2064.5,1176.1 L2066.1,1176.7 L2067.7,1176.6 L2069.3,1176.4 L2070.9,1176.5 L2072.5,1176.7 L2074.1,1176.9 L2075.7,1176.4 L2077.3,1176.1 L2078.9,1176.1 L2080.5,1176.4 L2082.1,1176.4 L2083.7,1176.4 L2085.3,1176.7 L2086.9,1176.4 L2088.5,1176.8 L2090.1,1176.9 L2091.7,1176.5 L2093.3,1176.6 L2094.9,1176.6 L2096.5,1176.9 L2098.2,1177.0 L2099.8,1176.9 L2101.4,1176.7 L2103.0,1176.5 L2104.6,1176.7 L2106.2,1177.2 L2107.8,1177.2 L2109.4,1176.9 L2111.0,1176.6 L2112.6,1177.0 L2114.2,1177.1 L2115.8,1176.8 L2117.4,1176.6 L2119.0,1176.9 L2120.6,1177.4 L2122.2,1177.1 L2123.8,1177.0 L2125.4,1177.4 L2127.0,1177.1 L2128.6,1176.7 L2130.2,1177.3 L2131.8,1177.7 L2133.4,1177.6 L2135.0,1177.8 L2136.6,1178.2 L2138.2,1177.8 L2139.8,1177.7 L2141.4,1177.7 L2143.0,1177.9 L2144.6,1177.7 L2146.2,1177.7 L2147.8,1178.0 L2149.4,1177.7 L2151.0,1177.6 L2152.6,1177.6 L2154.2,1177.3 L2155.8,1177.4 L2157.4,1177.7 L2159.0,1177.7 L2160.6,1177.4 L2162.2,1177.4 L2163.8,1177.6 L2165.4,1177.8 L2167.0,1178.1 L2168.7,1178.3 L2170.3,1178.3 L2171.9,1178.2 L2173.5,1178.3 L2175.1,1178.1 L2176.7,1178.0 L2178.3,1178.4 L2179.9,1178.1 L2181.5,1178.0 L2183.1,1178.1 L2184.7,1177.6 L2186.3,1177.3 L2187.9,1177.4 L2189.5,1177.8 L2191.1,1178.5 L2192.7,1178.4 L2194.3,1178.7 L2195.9,1178.7 L2197.5,1178.5 L2199.0,1178.4 L2200.3,1177.9 L2201.3,1177.8" stroke="#ff8000"/>
</g>
<clipPath id="clip1C"><rect x="211.4" y="1502.5" width="50" height="56.6"/><rect x="234.9" y="1558.9" width="6.6" height="8"/></clipPath>
<g clip-path="url(#clip1C)"><text transform="translate(237.4,1564.5) scale(1,1.030)" font-size="60.0" text-anchor="middle" fill="#000">1</text></g>
<text transform="translate(456.2,1564.5) scale(1,1.030)" font-size="60.0" text-anchor="middle" fill="#000">2</text>
<text transform="translate(677.0,1564.5) scale(1,1.030)" font-size="60.0" text-anchor="middle" fill="#000">3</text>
<text transform="translate(897.8,1564.5) scale(1,1.030)" font-size="60.0" text-anchor="middle" fill="#000">4</text>
<text transform="translate(1118.6,1564.5) scale(1,1.030)" font-size="60.0" text-anchor="middle" fill="#000">5</text>
<clipPath id="clip1D"><rect x="1295.3" y="1510.0" width="50" height="56.6"/><rect x="1318.8" y="1566.4" width="6.6" height="8"/></clipPath>
<g clip-path="url(#clip1D)"><text transform="translate(1321.3,1572.0) scale(1,1.030)" font-size="60.0" text-anchor="middle" fill="#000">1</text></g>
<text transform="translate(1540.0,1572.0) scale(1,1.030)" font-size="60.0" text-anchor="middle" fill="#000">2</text>
<text transform="translate(1760.8,1572.0) scale(1,1.030)" font-size="60.0" text-anchor="middle" fill="#000">3</text>
<text transform="translate(1981.4,1572.0) scale(1,1.030)" font-size="60.0" text-anchor="middle" fill="#000">4</text>
<text transform="translate(2202.2,1572.0) scale(1,1.030)" font-size="60.0" text-anchor="middle" fill="#000">5</text>
<text x="467.5" y="1625.7" font-size="59" fill="#000">2Theta / degree</text>
<text x="1582.3" y="1628.1" font-size="59" fill="#000">2Theta / degree</text>
 <text transform="translate(62,851) rotate(-90)" font-size="64.7" fill="#000">Intensity / a.u.</text>
<rect x="712.7" y="63.3" width="291.9" height="94.3" fill="#000"/>
<rect x="702.2" y="52.2" width="290.8" height="94.3" fill="#fff" stroke="#b4b4b4" stroke-width="2.0"/>
<text transform="translate(847.6,118.9) scale(1,1.000)" font-size="58.0" text-anchor="middle" fill="#000">As made</text>
<rect x="1023.0" y="67.5" width="87.5" height="77.5" fill="#000"/>
<rect x="1012.3" y="57.7" width="87.3" height="76.1" fill="#fff" stroke="#b4b4b4" stroke-width="2.0"/>
<text transform="translate(1056.5,112.3) scale(1,1.040)" font-size="50.5" text-anchor="middle" fill="#000">A</text>
<rect x="1842.1" y="64.0" width="258.9" height="85.8" fill="#000"/>
<rect x="1831.8" y="54.2" width="257.6" height="84.4" fill="#fff" stroke="#b4b4b4" stroke-width="2.0"/>
<text transform="translate(1960.5,115.0) scale(1,1.000)" font-size="51.0" text-anchor="middle" fill="#000">As made</text>
<rect x="2118.3" y="66.6" width="74.6" height="74.6" fill="#000"/>
<rect x="2107.7" y="56.0" width="74.2" height="73.8" fill="#fff" stroke="#b4b4b4" stroke-width="2.0"/>
<text transform="translate(2145.5,110.5) scale(1,1.040)" font-size="50.3" text-anchor="middle" fill="#000">B</text>
<rect x="737.6" y="800.7" width="257.1" height="80.7" fill="#000"/>
<rect x="729.0" y="792.1" width="256.2" height="79.0" fill="#fff" stroke="#b4b4b4" stroke-width="2.0"/>
<text transform="translate(857.8,849.6) scale(1,1.000)" font-size="52.5" text-anchor="middle" fill="#000">Calcined</text>
<rect x="1019.3" y="795.4" width="83.4" height="72.6" fill="#000"/>
<rect x="1010.3" y="786.4" width="82.6" height="71.6" fill="#fff" stroke="#b4b4b4" stroke-width="2.0"/>
<text transform="translate(1051.8,839.8) scale(1,1.040)" font-size="46.8" text-anchor="middle" fill="#000">C</text>
<rect x="1868.5" y="801.1" width="232.8" height="74.2" fill="#000"/>
<rect x="1859.6" y="792.4" width="232.2" height="73.2" fill="#fff" stroke="#b4b4b4" stroke-width="2.0"/>
<text transform="translate(1976.4,846.3) scale(1,1.000)" font-size="47.5" text-anchor="middle" fill="#000">Calcined</text>
<rect x="2116.0" y="802.6" width="71.3" height="67.2" fill="#000"/>
<rect x="2107.3" y="794.1" width="69.7" height="65.4" fill="#fff" stroke="#b4b4b4" stroke-width="2.0"/>
<text transform="translate(2142.8,844.5) scale(1,1.040)" font-size="46.4" text-anchor="middle" fill="#000">D</text>
<text transform="translate(1104.3,412.1) scale(1,1.04)" font-size="42.8" font-weight="bold" text-anchor="end" fill="#000000">SBA-15&#160;&#160;pH 2.0</text>
<text transform="translate(1101.3,525.2) scale(1,1.04)" font-size="42.8" font-weight="bold" text-anchor="end" fill="#ff00ff">AS R75 pH 2.0</text>
<text transform="translate(1101.8,629.4) scale(1,1.04)" font-size="42.8" font-weight="bold" text-anchor="end" fill="#0000ff">AS R25 pH 2.0</text>
<text transform="translate(1101.3,740.0) scale(1,1.04)" font-size="42.8" font-weight="bold" text-anchor="end" fill="#ff0000">AS R05 pH 2.0</text>
<text transform="translate(2185.0,418.3) scale(1,1.04)" font-size="42.9" font-weight="bold" text-anchor="end" fill="#ff8000">SBA-15&#160;&#160;pH 3.0</text>
<text transform="translate(2186.5,531.6) scale(1,1.04)" font-size="42.9" font-weight="bold" text-anchor="end" fill="#800080">AS R75 pH 3.0</text>
<text transform="translate(2188.1,637.3) scale(1,1.04)" font-size="42.9" font-weight="bold" text-anchor="end" fill="#008000">AS R25 pH 3.0</text>
<text transform="translate(2185.0,747.6) scale(1,1.04)" font-size="42.9" font-weight="bold" text-anchor="end" fill="#00ff00">AS R05 pH3.0</text>
<text transform="translate(1101.0,1152.3) scale(1,1.04)" font-size="39.1" font-weight="bold" text-anchor="end" fill="#000000">SBA-15&#160;&#160;pH 2.0</text>
<text transform="translate(1088.2,1252.7) scale(1,1.04)" font-size="39.1" font-weight="bold" text-anchor="end" fill="#ff00ff">AS R75 pH 2.0</text>
<text transform="translate(1091.1,1364.4) scale(1,1.04)" font-size="39.1" font-weight="bold" text-anchor="end" fill="#0000ff">AS R25 pH 2.0</text>
<text transform="translate(1092.5,1459.1) scale(1,1.04)" font-size="39.1" font-weight="bold" text-anchor="end" fill="#ff0000">AS R05 pH 2.0</text>
<text transform="translate(2173.0,1152.9) scale(1,1.04)" font-size="39.2" font-weight="bold" text-anchor="end" fill="#ff8000">SBA-15&#160;&#160;pH 3.0</text>
<text transform="translate(2166.0,1261.6) scale(1,1.04)" font-size="39.2" font-weight="bold" text-anchor="end" fill="#800080">AS R75 pH 3.0</text>
<text transform="translate(2166.0,1372.8) scale(1,1.04)" font-size="39.2" font-weight="bold" text-anchor="end" fill="#008000">AS R25 pH 3.0</text>
<text transform="translate(2166.0,1478.5) scale(1,1.04)" font-size="39.2" font-weight="bold" text-anchor="end" fill="#00ff00">AS R05 pH3.0</text>
</g>
</svg></body></html>
